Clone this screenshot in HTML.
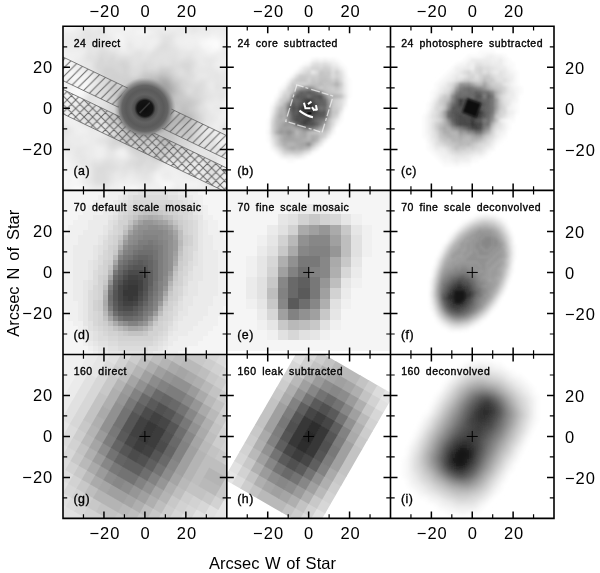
<!DOCTYPE html><html><head><meta charset="utf-8"><title>Figure</title><style>html,body{margin:0;padding:0;background:#fff;width:600px;height:573px;overflow:hidden}svg{display:block}</style></head><body><svg width="600" height="573" viewBox="0 0 600 573"><defs><clipPath id="pac"><rect x="63.00" y="26.30" width="163.80" height="164.10"/></clipPath><filter id="paf" x="-10%" y="-10%" width="120%" height="120%"><feGaussianBlur stdDeviation="2.0"/></filter></defs><g clip-path="url(#pac)"><g filter="url(#paf)"><g transform="translate(55.00 18.30) scale(4)"><path fill="#fafafa" d="M2 0h2.06v1.06h-2.06zM27 0h2.06v1.06h-2.06zM0 1h4.06v1.06h-4.06zM22 3h1.06v1.06h-1.06zM38 5h3.06v1.06h-3.06zM37 6h3.06v1.06h-3.06zM39 7h2.06v1.06h-2.06zM1 14h1.06v1.06h-1.06zM4 14h1.06v1.06h-1.06zM0 15h1.06v1.06h-1.06zM5 15h1.06v1.06h-1.06zM7 16h1.06v1.06h-1.06zM1 17h1.06v1.06h-1.06zM7 17h1.06v1.06h-1.06zM5 18h2.06v1.06h-2.06zM44 19h1.06v1.06h-1.06zM0 20h1.06v1.06h-1.06zM44 20h1.06v1.06h-1.06zM43 21h2.06v1.06h-2.06zM44 23h1.06v1.06h-1.06zM0 40h1.06v1.06h-1.06zM2 40h1.06v1.06h-1.06zM4 40h1.06v1.06h-1.06zM1 41h1.06v1.06h-1.06zM27 41h2.06v1.06h-2.06zM0 42h1.06v1.06h-1.06zM4 42h3.06v1.06h-3.06zM19 42h1.06v1.06h-1.06zM4 43h1.06v1.06h-1.06zM7 43h2.06v1.06h-2.06zM20 43h1.06v1.06h-1.06zM44 43h1.06v1.06h-1.06zM3 44h1.06v1.06h-1.06zM8 44h1.06v1.06h-1.06zM20 44h4.06v1.06h-4.06zM44 44h1.06v1.06h-1.06zM3 45h2.06v1.06h-2.06zM8 45h1.06v1.06h-1.06zM19 45h1.06v1.06h-1.06z"/><path fill="#f5f5f5" d="M5 0h3.06v1.06h-3.06zM10 0h1.06v1.06h-1.06zM25 0h2.06v1.06h-2.06zM29 0h1.06v1.06h-1.06zM4 1h1.06v1.06h-1.06zM7 1h1.06v1.06h-1.06zM28 1h2.06v1.06h-2.06zM1 2h4.06v1.06h-4.06zM17 2h2.06v1.06h-2.06zM20 3h2.06v1.06h-2.06zM23 3h1.06v1.06h-1.06zM15 4h2.06v1.06h-2.06zM39 4h1.06v1.06h-1.06zM16 5h1.06v1.06h-1.06zM36 5h2.06v1.06h-2.06zM41 5h1.06v1.06h-1.06zM16 6h1.06v1.06h-1.06zM36 6h1.06v1.06h-1.06zM41 6h1.06v1.06h-1.06zM37 7h2.06v1.06h-2.06zM41 7h1.06v1.06h-1.06zM0 8h2.06v1.06h-2.06zM38 8h2.06v1.06h-2.06zM3 10h1.06v1.06h-1.06zM2 11h2.06v1.06h-2.06zM2 12h2.06v1.06h-2.06zM0 13h5.06v1.06h-5.06zM0 14h1.06v1.06h-1.06zM2 14h2.06v1.06h-2.06zM5 14h3.06v1.06h-3.06zM1 15h1.06v1.06h-1.06zM4 15h1.06v1.06h-1.06zM6 15h1.06v1.06h-1.06zM8 15h1.06v1.06h-1.06zM1 16h1.06v1.06h-1.06zM5 16h2.06v1.06h-2.06zM8 16h1.06v1.06h-1.06zM4 17h3.06v1.06h-3.06zM2 18h3.06v1.06h-3.06zM1 19h1.06v1.06h-1.06zM4 19h3.06v1.06h-3.06zM1 20h2.06v1.06h-2.06zM43 20h1.06v1.06h-1.06zM0 21h2.06v1.06h-2.06zM43 22h1.06v1.06h-1.06zM0 23h1.06v1.06h-1.06zM43 23h1.06v1.06h-1.06zM41 30h1.06v1.06h-1.06zM1 33h1.06v1.06h-1.06zM16 33h1.06v1.06h-1.06zM0 34h2.06v1.06h-2.06zM0 35h3.06v1.06h-3.06zM1 36h3.06v1.06h-3.06zM1 37h2.06v1.06h-2.06zM0 38h4.06v1.06h-4.06zM5 38h2.06v1.06h-2.06zM0 39h7.06v1.06h-7.06zM25 39h1.06v1.06h-1.06zM5 40h1.06v1.06h-1.06zM25 40h2.06v1.06h-2.06zM43 40h2.06v1.06h-2.06zM2 41h5.06v1.06h-5.06zM26 41h1.06v1.06h-1.06zM29 41h1.06v1.06h-1.06zM32 41h4.06v1.06h-4.06zM43 41h2.06v1.06h-2.06zM1 42h3.06v1.06h-3.06zM7 42h1.06v1.06h-1.06zM16 42h3.06v1.06h-3.06zM20 42h1.06v1.06h-1.06zM27 42h2.06v1.06h-2.06zM43 42h2.06v1.06h-2.06zM3 43h1.06v1.06h-1.06zM9 43h1.06v1.06h-1.06zM14 43h1.06v1.06h-1.06zM17 43h2.06v1.06h-2.06zM21 43h5.06v1.06h-5.06zM32 43h1.06v1.06h-1.06zM42 43h2.06v1.06h-2.06zM2 44h1.06v1.06h-1.06zM9 44h2.06v1.06h-2.06zM15 44h1.06v1.06h-1.06zM18 44h1.06v1.06h-1.06zM24 44h1.06v1.06h-1.06zM32 44h3.06v1.06h-3.06zM36 44h8.06v1.06h-8.06zM2 45h1.06v1.06h-1.06zM9 45h2.06v1.06h-2.06zM14 45h5.06v1.06h-5.06zM20 45h1.06v1.06h-1.06zM39 45h6.06v1.06h-6.06z"/><path fill="#f0f0f0" d="M4 0h1.06v1.06h-1.06zM8 0h2.06v1.06h-2.06zM11 0h4.06v1.06h-4.06zM16 0h2.06v1.06h-2.06zM24 0h1.06v1.06h-1.06zM30 0h1.06v1.06h-1.06zM37 0h3.06v1.06h-3.06zM5 1h2.06v1.06h-2.06zM9 1h2.06v1.06h-2.06zM12 1h7.06v1.06h-7.06zM25 1h3.06v1.06h-3.06zM30 1h1.06v1.06h-1.06zM0 2h1.06v1.06h-1.06zM5 2h1.06v1.06h-1.06zM13 2h4.06v1.06h-4.06zM19 2h4.06v1.06h-4.06zM29 2h1.06v1.06h-1.06zM2 3h3.06v1.06h-3.06zM13 3h7.06v1.06h-7.06zM24 3h1.06v1.06h-1.06zM39 3h3.06v1.06h-3.06zM14 4h1.06v1.06h-1.06zM17 4h6.06v1.06h-6.06zM32 4h7.06v1.06h-7.06zM40 4h3.06v1.06h-3.06zM15 5h1.06v1.06h-1.06zM17 5h1.06v1.06h-1.06zM19 5h7.06v1.06h-7.06zM30 5h6.06v1.06h-6.06zM42 5h1.06v1.06h-1.06zM17 6h1.06v1.06h-1.06zM20 6h2.06v1.06h-2.06zM23 6h2.06v1.06h-2.06zM31 6h5.06v1.06h-5.06zM42 6h1.06v1.06h-1.06zM1 7h1.06v1.06h-1.06zM16 7h2.06v1.06h-2.06zM23 7h1.06v1.06h-1.06zM33 7h1.06v1.06h-1.06zM36 7h1.06v1.06h-1.06zM2 8h5.06v1.06h-5.06zM37 8h1.06v1.06h-1.06zM40 8h2.06v1.06h-2.06zM44 8h1.06v1.06h-1.06zM0 9h6.06v1.06h-6.06zM41 9h1.06v1.06h-1.06zM43 9h2.06v1.06h-2.06zM1 10h2.06v1.06h-2.06zM4 10h1.06v1.06h-1.06zM41 10h4.06v1.06h-4.06zM1 11h1.06v1.06h-1.06zM4 11h1.06v1.06h-1.06zM40 11h3.06v1.06h-3.06zM0 12h2.06v1.06h-2.06zM4 12h3.06v1.06h-3.06zM41 12h1.06v1.06h-1.06zM5 13h3.06v1.06h-3.06zM8 14h1.06v1.06h-1.06zM2 15h2.06v1.06h-2.06zM7 15h1.06v1.06h-1.06zM4 16h1.06v1.06h-1.06zM2 17h1.06v1.06h-1.06zM8 17h1.06v1.06h-1.06zM7 18h1.06v1.06h-1.06zM44 18h1.06v1.06h-1.06zM2 19h2.06v1.06h-2.06zM43 19h1.06v1.06h-1.06zM3 20h4.06v1.06h-4.06zM2 21h2.06v1.06h-2.06zM5 21h1.06v1.06h-1.06zM42 21h1.06v1.06h-1.06zM0 22h2.06v1.06h-2.06zM42 22h1.06v1.06h-1.06zM1 23h2.06v1.06h-2.06zM42 23h1.06v1.06h-1.06zM0 24h5.06v1.06h-5.06zM41 24h4.06v1.06h-4.06zM2 25h4.06v1.06h-4.06zM41 25h1.06v1.06h-1.06zM3 26h3.06v1.06h-3.06zM40 26h1.06v1.06h-1.06zM5 27h3.06v1.06h-3.06zM40 27h1.06v1.06h-1.06zM5 28h3.06v1.06h-3.06zM40 29h1.06v1.06h-1.06zM7 30h1.06v1.06h-1.06zM42 30h1.06v1.06h-1.06zM41 31h2.06v1.06h-2.06zM0 32h2.06v1.06h-2.06zM10 32h2.06v1.06h-2.06zM0 33h1.06v1.06h-1.06zM2 33h1.06v1.06h-1.06zM10 33h2.06v1.06h-2.06zM15 33h1.06v1.06h-1.06zM17 33h1.06v1.06h-1.06zM2 34h2.06v1.06h-2.06zM10 34h2.06v1.06h-2.06zM16 34h2.06v1.06h-2.06zM3 35h1.06v1.06h-1.06zM43 35h1.06v1.06h-1.06zM0 36h1.06v1.06h-1.06zM4 36h1.06v1.06h-1.06zM42 36h3.06v1.06h-3.06zM0 37h1.06v1.06h-1.06zM3 37h4.06v1.06h-4.06zM27 37h3.06v1.06h-3.06zM35 37h1.06v1.06h-1.06zM43 37h2.06v1.06h-2.06zM4 38h1.06v1.06h-1.06zM7 38h1.06v1.06h-1.06zM25 38h2.06v1.06h-2.06zM29 38h2.06v1.06h-2.06zM43 38h2.06v1.06h-2.06zM26 39h1.06v1.06h-1.06zM29 39h3.06v1.06h-3.06zM35 39h1.06v1.06h-1.06zM43 39h2.06v1.06h-2.06zM3 40h1.06v1.06h-1.06zM6 40h1.06v1.06h-1.06zM18 40h1.06v1.06h-1.06zM27 40h10.06v1.06h-10.06zM42 40h1.06v1.06h-1.06zM15 41h8.06v1.06h-8.06zM24 41h2.06v1.06h-2.06zM30 41h2.06v1.06h-2.06zM36 41h1.06v1.06h-1.06zM42 41h1.06v1.06h-1.06zM8 42h1.06v1.06h-1.06zM14 42h2.06v1.06h-2.06zM21 42h6.06v1.06h-6.06zM29 42h1.06v1.06h-1.06zM31 42h7.06v1.06h-7.06zM42 42h1.06v1.06h-1.06zM0 43h3.06v1.06h-3.06zM10 43h4.06v1.06h-4.06zM15 43h2.06v1.06h-2.06zM31 43h1.06v1.06h-1.06zM33 43h2.06v1.06h-2.06zM37 43h5.06v1.06h-5.06zM0 44h2.06v1.06h-2.06zM11 44h4.06v1.06h-4.06zM16 44h2.06v1.06h-2.06zM25 44h1.06v1.06h-1.06zM29 44h3.06v1.06h-3.06zM35 44h1.06v1.06h-1.06zM0 45h2.06v1.06h-2.06zM11 45h3.06v1.06h-3.06zM21 45h6.06v1.06h-6.06zM29 45h10.06v1.06h-10.06z"/><path fill="#ebebeb" d="M15 0h1.06v1.06h-1.06zM23 0h1.06v1.06h-1.06zM31 0h1.06v1.06h-1.06zM34 0h3.06v1.06h-3.06zM40 0h1.06v1.06h-1.06zM43 0h2.06v1.06h-2.06zM8 1h1.06v1.06h-1.06zM11 1h1.06v1.06h-1.06zM19 1h4.06v1.06h-4.06zM24 1h1.06v1.06h-1.06zM31 1h2.06v1.06h-2.06zM35 1h7.06v1.06h-7.06zM44 1h1.06v1.06h-1.06zM6 2h2.06v1.06h-2.06zM9 2h2.06v1.06h-2.06zM12 2h1.06v1.06h-1.06zM23 2h6.06v1.06h-6.06zM30 2h4.06v1.06h-4.06zM36 2h7.06v1.06h-7.06zM0 3h2.06v1.06h-2.06zM5 3h2.06v1.06h-2.06zM12 3h1.06v1.06h-1.06zM25 3h1.06v1.06h-1.06zM27 3h2.06v1.06h-2.06zM30 3h4.06v1.06h-4.06zM35 3h4.06v1.06h-4.06zM42 3h1.06v1.06h-1.06zM1 4h5.06v1.06h-5.06zM11 4h1.06v1.06h-1.06zM13 4h1.06v1.06h-1.06zM23 4h3.06v1.06h-3.06zM30 4h2.06v1.06h-2.06zM43 4h2.06v1.06h-2.06zM1 5h4.06v1.06h-4.06zM11 5h4.06v1.06h-4.06zM18 5h1.06v1.06h-1.06zM43 5h2.06v1.06h-2.06zM0 6h6.06v1.06h-6.06zM13 6h3.06v1.06h-3.06zM19 6h1.06v1.06h-1.06zM22 6h1.06v1.06h-1.06zM25 6h1.06v1.06h-1.06zM30 6h1.06v1.06h-1.06zM43 6h2.06v1.06h-2.06zM0 7h1.06v1.06h-1.06zM2 7h6.06v1.06h-6.06zM14 7h1.06v1.06h-1.06zM19 7h4.06v1.06h-4.06zM24 7h1.06v1.06h-1.06zM31 7h2.06v1.06h-2.06zM34 7h2.06v1.06h-2.06zM42 7h3.06v1.06h-3.06zM7 8h1.06v1.06h-1.06zM16 8h3.06v1.06h-3.06zM35 8h2.06v1.06h-2.06zM42 8h2.06v1.06h-2.06zM6 9h1.06v1.06h-1.06zM35 9h6.06v1.06h-6.06zM42 9h1.06v1.06h-1.06zM0 10h1.06v1.06h-1.06zM5 10h2.06v1.06h-2.06zM36 10h1.06v1.06h-1.06zM40 10h1.06v1.06h-1.06zM0 11h1.06v1.06h-1.06zM5 11h2.06v1.06h-2.06zM8 11h1.06v1.06h-1.06zM36 11h2.06v1.06h-2.06zM39 11h1.06v1.06h-1.06zM43 11h2.06v1.06h-2.06zM40 12h1.06v1.06h-1.06zM42 12h1.06v1.06h-1.06zM44 12h1.06v1.06h-1.06zM8 13h1.06v1.06h-1.06zM41 13h1.06v1.06h-1.06zM9 14h1.06v1.06h-1.06zM36 14h2.06v1.06h-2.06zM9 15h1.06v1.06h-1.06zM2 16h2.06v1.06h-2.06zM9 16h1.06v1.06h-1.06zM38 16h2.06v1.06h-2.06zM43 16h2.06v1.06h-2.06zM3 17h1.06v1.06h-1.06zM39 17h1.06v1.06h-1.06zM43 17h2.06v1.06h-2.06zM43 18h1.06v1.06h-1.06zM7 19h1.06v1.06h-1.06zM40 20h1.06v1.06h-1.06zM42 20h1.06v1.06h-1.06zM4 21h1.06v1.06h-1.06zM6 21h1.06v1.06h-1.06zM38 21h4.06v1.06h-4.06zM2 22h1.06v1.06h-1.06zM4 22h2.06v1.06h-2.06zM38 22h2.06v1.06h-2.06zM41 22h1.06v1.06h-1.06zM3 23h3.06v1.06h-3.06zM39 23h3.06v1.06h-3.06zM5 24h1.06v1.06h-1.06zM40 24h1.06v1.06h-1.06zM0 25h2.06v1.06h-2.06zM6 25h1.06v1.06h-1.06zM40 25h1.06v1.06h-1.06zM42 25h3.06v1.06h-3.06zM0 26h1.06v1.06h-1.06zM2 26h1.06v1.06h-1.06zM6 26h1.06v1.06h-1.06zM39 26h1.06v1.06h-1.06zM41 26h1.06v1.06h-1.06zM4 27h1.06v1.06h-1.06zM8 27h1.06v1.06h-1.06zM38 27h2.06v1.06h-2.06zM4 28h1.06v1.06h-1.06zM8 28h4.06v1.06h-4.06zM37 28h4.06v1.06h-4.06zM3 29h9.06v1.06h-9.06zM41 29h2.06v1.06h-2.06zM3 30h4.06v1.06h-4.06zM8 30h2.06v1.06h-2.06zM40 30h1.06v1.06h-1.06zM43 30h1.06v1.06h-1.06zM0 31h3.06v1.06h-3.06zM4 31h7.06v1.06h-7.06zM43 31h2.06v1.06h-2.06zM2 32h1.06v1.06h-1.06zM4 32h1.06v1.06h-1.06zM8 32h2.06v1.06h-2.06zM12 32h1.06v1.06h-1.06zM16 32h1.06v1.06h-1.06zM41 32h4.06v1.06h-4.06zM3 33h2.06v1.06h-2.06zM7 33h3.06v1.06h-3.06zM12 33h1.06v1.06h-1.06zM44 33h1.06v1.06h-1.06zM4 34h1.06v1.06h-1.06zM8 34h2.06v1.06h-2.06zM12 34h1.06v1.06h-1.06zM15 34h1.06v1.06h-1.06zM42 34h3.06v1.06h-3.06zM4 35h2.06v1.06h-2.06zM8 35h1.06v1.06h-1.06zM41 35h2.06v1.06h-2.06zM44 35h1.06v1.06h-1.06zM5 36h1.06v1.06h-1.06zM27 36h3.06v1.06h-3.06zM35 36h2.06v1.06h-2.06zM41 36h1.06v1.06h-1.06zM7 37h2.06v1.06h-2.06zM26 37h1.06v1.06h-1.06zM30 37h3.06v1.06h-3.06zM34 37h1.06v1.06h-1.06zM36 37h1.06v1.06h-1.06zM42 37h1.06v1.06h-1.06zM8 38h1.06v1.06h-1.06zM27 38h2.06v1.06h-2.06zM31 38h6.06v1.06h-6.06zM41 38h2.06v1.06h-2.06zM7 39h2.06v1.06h-2.06zM15 39h1.06v1.06h-1.06zM18 39h2.06v1.06h-2.06zM24 39h1.06v1.06h-1.06zM27 39h2.06v1.06h-2.06zM32 39h3.06v1.06h-3.06zM36 39h1.06v1.06h-1.06zM41 39h2.06v1.06h-2.06zM7 40h1.06v1.06h-1.06zM15 40h3.06v1.06h-3.06zM19 40h2.06v1.06h-2.06zM24 40h1.06v1.06h-1.06zM41 40h1.06v1.06h-1.06zM7 41h2.06v1.06h-2.06zM14 41h1.06v1.06h-1.06zM23 41h1.06v1.06h-1.06zM37 41h1.06v1.06h-1.06zM41 41h1.06v1.06h-1.06zM9 42h3.06v1.06h-3.06zM13 42h1.06v1.06h-1.06zM30 42h1.06v1.06h-1.06zM38 42h4.06v1.06h-4.06zM26 43h5.06v1.06h-5.06zM35 43h2.06v1.06h-2.06zM27 45h2.06v1.06h-2.06z"/><path fill="#e6e6e6" d="M18 0h5.06v1.06h-5.06zM32 0h2.06v1.06h-2.06zM41 0h2.06v1.06h-2.06zM23 1h1.06v1.06h-1.06zM33 1h2.06v1.06h-2.06zM42 1h2.06v1.06h-2.06zM8 2h1.06v1.06h-1.06zM11 2h1.06v1.06h-1.06zM34 2h2.06v1.06h-2.06zM43 2h2.06v1.06h-2.06zM8 3h3.06v1.06h-3.06zM26 3h1.06v1.06h-1.06zM29 3h1.06v1.06h-1.06zM34 3h1.06v1.06h-1.06zM43 3h1.06v1.06h-1.06zM0 4h1.06v1.06h-1.06zM6 4h2.06v1.06h-2.06zM9 4h2.06v1.06h-2.06zM12 4h1.06v1.06h-1.06zM26 4h1.06v1.06h-1.06zM29 4h1.06v1.06h-1.06zM0 5h1.06v1.06h-1.06zM5 5h6.06v1.06h-6.06zM26 5h1.06v1.06h-1.06zM29 5h1.06v1.06h-1.06zM6 6h7.06v1.06h-7.06zM18 6h1.06v1.06h-1.06zM29 6h1.06v1.06h-1.06zM8 7h3.06v1.06h-3.06zM13 7h1.06v1.06h-1.06zM15 7h1.06v1.06h-1.06zM18 7h1.06v1.06h-1.06zM30 7h1.06v1.06h-1.06zM9 8h1.06v1.06h-1.06zM15 8h1.06v1.06h-1.06zM19 8h1.06v1.06h-1.06zM22 8h2.06v1.06h-2.06zM31 8h4.06v1.06h-4.06zM7 9h1.06v1.06h-1.06zM22 9h1.06v1.06h-1.06zM31 9h2.06v1.06h-2.06zM34 9h1.06v1.06h-1.06zM7 10h1.06v1.06h-1.06zM35 10h1.06v1.06h-1.06zM37 10h3.06v1.06h-3.06zM7 11h1.06v1.06h-1.06zM35 11h1.06v1.06h-1.06zM38 11h1.06v1.06h-1.06zM7 12h2.06v1.06h-2.06zM35 12h5.06v1.06h-5.06zM43 12h1.06v1.06h-1.06zM9 13h1.06v1.06h-1.06zM35 13h6.06v1.06h-6.06zM42 13h3.06v1.06h-3.06zM35 14h1.06v1.06h-1.06zM38 14h2.06v1.06h-2.06zM41 14h4.06v1.06h-4.06zM10 15h1.06v1.06h-1.06zM35 15h1.06v1.06h-1.06zM38 15h7.06v1.06h-7.06zM10 16h1.06v1.06h-1.06zM41 16h2.06v1.06h-2.06zM9 17h1.06v1.06h-1.06zM38 17h1.06v1.06h-1.06zM41 17h2.06v1.06h-2.06zM8 18h1.06v1.06h-1.06zM38 18h5.06v1.06h-5.06zM39 19h2.06v1.06h-2.06zM42 19h1.06v1.06h-1.06zM38 20h2.06v1.06h-2.06zM41 20h1.06v1.06h-1.06zM37 21h1.06v1.06h-1.06zM3 22h1.06v1.06h-1.06zM6 22h1.06v1.06h-1.06zM40 22h1.06v1.06h-1.06zM6 23h1.06v1.06h-1.06zM38 23h1.06v1.06h-1.06zM6 24h1.06v1.06h-1.06zM38 24h2.06v1.06h-2.06zM11 25h1.06v1.06h-1.06zM38 25h2.06v1.06h-2.06zM1 26h1.06v1.06h-1.06zM7 26h2.06v1.06h-2.06zM10 26h3.06v1.06h-3.06zM37 26h2.06v1.06h-2.06zM42 26h1.06v1.06h-1.06zM44 26h1.06v1.06h-1.06zM0 27h2.06v1.06h-2.06zM3 27h1.06v1.06h-1.06zM9 27h4.06v1.06h-4.06zM37 27h1.06v1.06h-1.06zM41 27h1.06v1.06h-1.06zM0 28h2.06v1.06h-2.06zM3 28h1.06v1.06h-1.06zM12 28h1.06v1.06h-1.06zM41 28h1.06v1.06h-1.06zM0 29h1.06v1.06h-1.06zM2 29h1.06v1.06h-1.06zM12 29h1.06v1.06h-1.06zM37 29h1.06v1.06h-1.06zM39 29h1.06v1.06h-1.06zM43 29h2.06v1.06h-2.06zM0 30h3.06v1.06h-3.06zM10 30h1.06v1.06h-1.06zM37 30h1.06v1.06h-1.06zM44 30h1.06v1.06h-1.06zM3 31h1.06v1.06h-1.06zM11 31h2.06v1.06h-2.06zM40 31h1.06v1.06h-1.06zM3 32h1.06v1.06h-1.06zM5 32h3.06v1.06h-3.06zM17 32h1.06v1.06h-1.06zM5 33h2.06v1.06h-2.06zM13 33h2.06v1.06h-2.06zM39 33h5.06v1.06h-5.06zM5 34h3.06v1.06h-3.06zM13 34h2.06v1.06h-2.06zM18 34h1.06v1.06h-1.06zM41 34h1.06v1.06h-1.06zM6 35h2.06v1.06h-2.06zM9 35h3.06v1.06h-3.06zM15 35h3.06v1.06h-3.06zM34 35h3.06v1.06h-3.06zM6 36h3.06v1.06h-3.06zM16 36h1.06v1.06h-1.06zM30 36h2.06v1.06h-2.06zM34 36h1.06v1.06h-1.06zM40 36h1.06v1.06h-1.06zM33 37h1.06v1.06h-1.06zM37 37h1.06v1.06h-1.06zM40 37h2.06v1.06h-2.06zM15 38h2.06v1.06h-2.06zM18 38h2.06v1.06h-2.06zM24 38h1.06v1.06h-1.06zM37 38h1.06v1.06h-1.06zM14 39h1.06v1.06h-1.06zM16 39h2.06v1.06h-2.06zM20 39h2.06v1.06h-2.06zM23 39h1.06v1.06h-1.06zM37 39h1.06v1.06h-1.06zM8 40h1.06v1.06h-1.06zM14 40h1.06v1.06h-1.06zM21 40h3.06v1.06h-3.06zM37 40h4.06v1.06h-4.06zM9 41h1.06v1.06h-1.06zM13 41h1.06v1.06h-1.06zM38 41h3.06v1.06h-3.06zM12 42h1.06v1.06h-1.06zM26 44h1.06v1.06h-1.06zM28 44h1.06v1.06h-1.06z"/><path fill="#e1e1e1" d="M7 3h1.06v1.06h-1.06zM11 3h1.06v1.06h-1.06zM44 3h1.06v1.06h-1.06zM8 4h1.06v1.06h-1.06zM27 4h2.06v1.06h-2.06zM27 5h2.06v1.06h-2.06zM26 6h1.06v1.06h-1.06zM28 6h1.06v1.06h-1.06zM11 7h2.06v1.06h-2.06zM25 7h1.06v1.06h-1.06zM28 7h2.06v1.06h-2.06zM8 8h1.06v1.06h-1.06zM10 8h1.06v1.06h-1.06zM13 8h2.06v1.06h-2.06zM20 8h2.06v1.06h-2.06zM24 8h1.06v1.06h-1.06zM26 8h5.06v1.06h-5.06zM8 9h3.06v1.06h-3.06zM15 9h7.06v1.06h-7.06zM23 9h1.06v1.06h-1.06zM25 9h6.06v1.06h-6.06zM33 9h1.06v1.06h-1.06zM8 10h2.06v1.06h-2.06zM19 10h4.06v1.06h-4.06zM24 10h5.06v1.06h-5.06zM30 10h2.06v1.06h-2.06zM34 10h1.06v1.06h-1.06zM9 11h1.06v1.06h-1.06zM19 11h2.06v1.06h-2.06zM25 11h1.06v1.06h-1.06zM27 11h2.06v1.06h-2.06zM9 12h1.06v1.06h-1.06zM34 12h1.06v1.06h-1.06zM31 13h1.06v1.06h-1.06zM34 13h1.06v1.06h-1.06zM10 14h1.06v1.06h-1.06zM40 14h1.06v1.06h-1.06zM34 15h1.06v1.06h-1.06zM36 15h2.06v1.06h-2.06zM37 16h1.06v1.06h-1.06zM40 16h1.06v1.06h-1.06zM10 17h1.06v1.06h-1.06zM37 17h1.06v1.06h-1.06zM40 17h1.06v1.06h-1.06zM9 18h1.06v1.06h-1.06zM33 18h1.06v1.06h-1.06zM37 18h1.06v1.06h-1.06zM10 19h2.06v1.06h-2.06zM37 19h2.06v1.06h-2.06zM41 19h1.06v1.06h-1.06zM7 20h1.06v1.06h-1.06zM10 20h2.06v1.06h-2.06zM37 20h1.06v1.06h-1.06zM7 21h1.06v1.06h-1.06zM9 21h2.06v1.06h-2.06zM7 22h4.06v1.06h-4.06zM36 22h2.06v1.06h-2.06zM8 23h2.06v1.06h-2.06zM37 23h1.06v1.06h-1.06zM10 24h2.06v1.06h-2.06zM37 24h1.06v1.06h-1.06zM7 25h1.06v1.06h-1.06zM10 25h1.06v1.06h-1.06zM37 25h1.06v1.06h-1.06zM9 26h1.06v1.06h-1.06zM43 26h1.06v1.06h-1.06zM2 27h1.06v1.06h-1.06zM42 27h1.06v1.06h-1.06zM2 28h1.06v1.06h-1.06zM13 28h1.06v1.06h-1.06zM36 28h1.06v1.06h-1.06zM42 28h2.06v1.06h-2.06zM1 29h1.06v1.06h-1.06zM13 29h1.06v1.06h-1.06zM36 29h1.06v1.06h-1.06zM38 29h1.06v1.06h-1.06zM11 30h2.06v1.06h-2.06zM36 30h1.06v1.06h-1.06zM38 30h2.06v1.06h-2.06zM36 31h4.06v1.06h-4.06zM13 32h1.06v1.06h-1.06zM15 32h1.06v1.06h-1.06zM38 32h3.06v1.06h-3.06zM18 33h1.06v1.06h-1.06zM36 33h3.06v1.06h-3.06zM19 34h1.06v1.06h-1.06zM33 34h5.06v1.06h-5.06zM40 34h1.06v1.06h-1.06zM12 35h3.06v1.06h-3.06zM18 35h1.06v1.06h-1.06zM27 35h5.06v1.06h-5.06zM33 35h1.06v1.06h-1.06zM37 35h1.06v1.06h-1.06zM40 35h1.06v1.06h-1.06zM9 36h3.06v1.06h-3.06zM14 36h2.06v1.06h-2.06zM17 36h1.06v1.06h-1.06zM25 36h2.06v1.06h-2.06zM32 36h2.06v1.06h-2.06zM37 36h1.06v1.06h-1.06zM9 37h1.06v1.06h-1.06zM15 37h5.06v1.06h-5.06zM22 37h1.06v1.06h-1.06zM25 37h1.06v1.06h-1.06zM9 38h1.06v1.06h-1.06zM13 38h2.06v1.06h-2.06zM17 38h1.06v1.06h-1.06zM20 38h4.06v1.06h-4.06zM38 38h3.06v1.06h-3.06zM9 39h1.06v1.06h-1.06zM13 39h1.06v1.06h-1.06zM22 39h1.06v1.06h-1.06zM38 39h3.06v1.06h-3.06zM9 40h1.06v1.06h-1.06zM13 40h1.06v1.06h-1.06zM10 41h3.06v1.06h-3.06zM27 44h1.06v1.06h-1.06z"/><path fill="#dcdcdc" d="M27 6h1.06v1.06h-1.06zM26 7h2.06v1.06h-2.06zM11 8h2.06v1.06h-2.06zM25 8h1.06v1.06h-1.06zM12 9h2.06v1.06h-2.06zM24 9h1.06v1.06h-1.06zM10 10h1.06v1.06h-1.06zM12 10h1.06v1.06h-1.06zM15 10h1.06v1.06h-1.06zM18 10h1.06v1.06h-1.06zM23 10h1.06v1.06h-1.06zM29 10h1.06v1.06h-1.06zM32 10h2.06v1.06h-2.06zM21 11h1.06v1.06h-1.06zM23 11h2.06v1.06h-2.06zM26 11h1.06v1.06h-1.06zM29 11h2.06v1.06h-2.06zM34 11h1.06v1.06h-1.06zM19 12h3.06v1.06h-3.06zM23 12h3.06v1.06h-3.06zM30 12h2.06v1.06h-2.06zM10 13h1.06v1.06h-1.06zM19 13h2.06v1.06h-2.06zM30 13h1.06v1.06h-1.06zM32 13h1.06v1.06h-1.06zM19 14h1.06v1.06h-1.06zM31 14h4.06v1.06h-4.06zM11 15h2.06v1.06h-2.06zM33 15h1.06v1.06h-1.06zM11 16h2.06v1.06h-2.06zM34 16h3.06v1.06h-3.06zM11 17h2.06v1.06h-2.06zM33 17h2.06v1.06h-2.06zM36 17h1.06v1.06h-1.06zM10 18h2.06v1.06h-2.06zM36 18h1.06v1.06h-1.06zM8 19h2.06v1.06h-2.06zM36 19h1.06v1.06h-1.06zM8 20h2.06v1.06h-2.06zM12 20h1.06v1.06h-1.06zM8 21h1.06v1.06h-1.06zM11 21h2.06v1.06h-2.06zM36 21h1.06v1.06h-1.06zM11 22h1.06v1.06h-1.06zM7 23h1.06v1.06h-1.06zM10 23h3.06v1.06h-3.06zM36 23h1.06v1.06h-1.06zM7 24h3.06v1.06h-3.06zM12 24h1.06v1.06h-1.06zM8 25h2.06v1.06h-2.06zM13 27h1.06v1.06h-1.06zM36 27h1.06v1.06h-1.06zM43 27h2.06v1.06h-2.06zM14 28h1.06v1.06h-1.06zM44 28h1.06v1.06h-1.06zM14 29h1.06v1.06h-1.06zM35 29h1.06v1.06h-1.06zM13 30h1.06v1.06h-1.06zM13 31h1.06v1.06h-1.06zM35 31h1.06v1.06h-1.06zM14 32h1.06v1.06h-1.06zM18 32h1.06v1.06h-1.06zM34 32h4.06v1.06h-4.06zM34 33h2.06v1.06h-2.06zM30 34h3.06v1.06h-3.06zM38 34h2.06v1.06h-2.06zM19 35h2.06v1.06h-2.06zM23 35h1.06v1.06h-1.06zM26 35h1.06v1.06h-1.06zM32 35h1.06v1.06h-1.06zM38 35h2.06v1.06h-2.06zM12 36h2.06v1.06h-2.06zM18 36h2.06v1.06h-2.06zM22 36h3.06v1.06h-3.06zM38 36h2.06v1.06h-2.06zM10 37h1.06v1.06h-1.06zM12 37h3.06v1.06h-3.06zM20 37h2.06v1.06h-2.06zM23 37h2.06v1.06h-2.06zM38 37h2.06v1.06h-2.06zM10 38h3.06v1.06h-3.06zM10 39h3.06v1.06h-3.06zM10 40h3.06v1.06h-3.06z"/><path fill="#d7d7d7" d="M11 9h1.06v1.06h-1.06zM14 9h1.06v1.06h-1.06zM13 10h2.06v1.06h-2.06zM16 10h2.06v1.06h-2.06zM10 11h6.06v1.06h-6.06zM18 11h1.06v1.06h-1.06zM22 11h1.06v1.06h-1.06zM31 11h3.06v1.06h-3.06zM10 12h2.06v1.06h-2.06zM15 12h2.06v1.06h-2.06zM18 12h1.06v1.06h-1.06zM22 12h1.06v1.06h-1.06zM29 12h1.06v1.06h-1.06zM32 12h2.06v1.06h-2.06zM11 13h1.06v1.06h-1.06zM16 13h1.06v1.06h-1.06zM18 13h1.06v1.06h-1.06zM21 13h1.06v1.06h-1.06zM29 13h1.06v1.06h-1.06zM33 13h1.06v1.06h-1.06zM11 14h1.06v1.06h-1.06zM20 14h1.06v1.06h-1.06zM30 14h1.06v1.06h-1.06zM32 15h1.06v1.06h-1.06zM32 16h2.06v1.06h-2.06zM32 17h1.06v1.06h-1.06zM35 17h1.06v1.06h-1.06zM12 18h1.06v1.06h-1.06zM34 18h2.06v1.06h-2.06zM12 19h2.06v1.06h-2.06zM34 19h2.06v1.06h-2.06zM13 20h1.06v1.06h-1.06zM36 20h1.06v1.06h-1.06zM12 22h1.06v1.06h-1.06zM35 22h1.06v1.06h-1.06zM36 24h1.06v1.06h-1.06zM12 25h1.06v1.06h-1.06zM36 25h1.06v1.06h-1.06zM13 26h1.06v1.06h-1.06zM36 26h1.06v1.06h-1.06zM14 27h1.06v1.06h-1.06zM35 28h1.06v1.06h-1.06zM14 30h1.06v1.06h-1.06zM35 30h1.06v1.06h-1.06zM14 31h4.06v1.06h-4.06zM34 31h1.06v1.06h-1.06zM33 32h1.06v1.06h-1.06zM19 33h1.06v1.06h-1.06zM30 33h4.06v1.06h-4.06zM20 34h4.06v1.06h-4.06zM28 34h1.06v1.06h-1.06zM21 35h2.06v1.06h-2.06zM24 35h1.06v1.06h-1.06zM20 36h2.06v1.06h-2.06zM11 37h1.06v1.06h-1.06z"/><path fill="#d2d2d2" d="M11 10h1.06v1.06h-1.06zM16 11h2.06v1.06h-2.06zM12 12h3.06v1.06h-3.06zM17 12h1.06v1.06h-1.06zM26 12h3.06v1.06h-3.06zM12 13h4.06v1.06h-4.06zM17 13h1.06v1.06h-1.06zM23 13h1.06v1.06h-1.06zM25 13h1.06v1.06h-1.06zM12 14h3.06v1.06h-3.06zM16 14h3.06v1.06h-3.06zM13 15h1.06v1.06h-1.06zM15 15h2.06v1.06h-2.06zM18 15h1.06v1.06h-1.06zM31 15h1.06v1.06h-1.06zM13 16h1.06v1.06h-1.06zM16 16h1.06v1.06h-1.06zM31 16h1.06v1.06h-1.06zM13 17h1.06v1.06h-1.06zM13 18h1.06v1.06h-1.06zM32 18h1.06v1.06h-1.06zM14 19h1.06v1.06h-1.06zM33 19h1.06v1.06h-1.06zM35 20h1.06v1.06h-1.06zM13 21h1.06v1.06h-1.06zM35 21h1.06v1.06h-1.06zM13 22h1.06v1.06h-1.06zM13 23h1.06v1.06h-1.06zM35 23h1.06v1.06h-1.06zM35 26h1.06v1.06h-1.06zM15 27h1.06v1.06h-1.06zM35 27h1.06v1.06h-1.06zM15 28h1.06v1.06h-1.06zM34 29h1.06v1.06h-1.06zM15 30h1.06v1.06h-1.06zM34 30h1.06v1.06h-1.06zM18 31h1.06v1.06h-1.06zM33 31h1.06v1.06h-1.06zM19 32h1.06v1.06h-1.06zM22 32h2.06v1.06h-2.06zM31 32h2.06v1.06h-2.06zM20 33h4.06v1.06h-4.06zM29 33h1.06v1.06h-1.06zM27 34h1.06v1.06h-1.06zM29 34h1.06v1.06h-1.06zM25 35h1.06v1.06h-1.06z"/><path fill="#cdcdcd" d="M22 13h1.06v1.06h-1.06zM24 13h1.06v1.06h-1.06zM28 13h1.06v1.06h-1.06zM15 14h1.06v1.06h-1.06zM21 14h1.06v1.06h-1.06zM29 14h1.06v1.06h-1.06zM14 15h1.06v1.06h-1.06zM17 15h1.06v1.06h-1.06zM30 15h1.06v1.06h-1.06zM14 16h2.06v1.06h-2.06zM17 16h1.06v1.06h-1.06zM14 17h1.06v1.06h-1.06zM16 17h1.06v1.06h-1.06zM31 17h1.06v1.06h-1.06zM14 18h1.06v1.06h-1.06zM32 19h1.06v1.06h-1.06zM14 20h1.06v1.06h-1.06zM34 20h1.06v1.06h-1.06zM14 22h1.06v1.06h-1.06zM34 22h1.06v1.06h-1.06zM13 24h1.06v1.06h-1.06zM35 24h1.06v1.06h-1.06zM13 25h1.06v1.06h-1.06zM35 25h1.06v1.06h-1.06zM14 26h2.06v1.06h-2.06zM34 28h1.06v1.06h-1.06zM16 30h1.06v1.06h-1.06zM19 30h1.06v1.06h-1.06zM32 30h2.06v1.06h-2.06zM19 31h1.06v1.06h-1.06zM23 31h2.06v1.06h-2.06zM31 31h2.06v1.06h-2.06zM20 32h2.06v1.06h-2.06zM24 32h1.06v1.06h-1.06zM29 32h2.06v1.06h-2.06zM24 33h1.06v1.06h-1.06zM27 33h2.06v1.06h-2.06zM24 34h1.06v1.06h-1.06zM26 34h1.06v1.06h-1.06z"/><path fill="#c8c8c8" d="M26 13h2.06v1.06h-2.06zM19 15h1.06v1.06h-1.06zM29 15h1.06v1.06h-1.06zM18 16h1.06v1.06h-1.06zM15 17h1.06v1.06h-1.06zM17 17h1.06v1.06h-1.06zM31 18h1.06v1.06h-1.06zM30 19h2.06v1.06h-2.06zM31 20h3.06v1.06h-3.06zM34 21h1.06v1.06h-1.06zM15 22h1.06v1.06h-1.06zM30 22h1.06v1.06h-1.06zM33 22h1.06v1.06h-1.06zM14 23h1.06v1.06h-1.06zM34 23h1.06v1.06h-1.06zM15 24h1.06v1.06h-1.06zM15 25h2.06v1.06h-2.06zM16 26h1.06v1.06h-1.06zM34 26h1.06v1.06h-1.06zM16 27h1.06v1.06h-1.06zM34 27h1.06v1.06h-1.06zM16 28h2.06v1.06h-2.06zM30 28h1.06v1.06h-1.06zM15 29h2.06v1.06h-2.06zM30 29h3.06v1.06h-3.06zM17 30h1.06v1.06h-1.06zM20 30h1.06v1.06h-1.06zM24 30h1.06v1.06h-1.06zM31 30h1.06v1.06h-1.06zM20 31h3.06v1.06h-3.06zM25 31h1.06v1.06h-1.06zM30 31h1.06v1.06h-1.06zM25 32h2.06v1.06h-2.06zM28 32h1.06v1.06h-1.06zM25 33h2.06v1.06h-2.06zM25 34h1.06v1.06h-1.06z"/><path fill="#c3c3c3" d="M22 14h4.06v1.06h-4.06zM28 14h1.06v1.06h-1.06zM20 15h1.06v1.06h-1.06zM22 15h1.06v1.06h-1.06zM30 16h1.06v1.06h-1.06zM18 17h1.06v1.06h-1.06zM30 17h1.06v1.06h-1.06zM15 18h3.06v1.06h-3.06zM15 19h1.06v1.06h-1.06zM15 20h1.06v1.06h-1.06zM30 20h1.06v1.06h-1.06zM14 21h2.06v1.06h-2.06zM30 21h4.06v1.06h-4.06zM31 22h1.06v1.06h-1.06zM15 23h1.06v1.06h-1.06zM29 23h2.06v1.06h-2.06zM33 23h1.06v1.06h-1.06zM14 24h1.06v1.06h-1.06zM16 24h1.06v1.06h-1.06zM34 24h1.06v1.06h-1.06zM14 25h1.06v1.06h-1.06zM17 25h1.06v1.06h-1.06zM34 25h1.06v1.06h-1.06zM33 26h1.06v1.06h-1.06zM17 27h1.06v1.06h-1.06zM30 27h2.06v1.06h-2.06zM33 27h1.06v1.06h-1.06zM18 28h1.06v1.06h-1.06zM23 28h1.06v1.06h-1.06zM31 28h3.06v1.06h-3.06zM17 29h7.06v1.06h-7.06zM33 29h1.06v1.06h-1.06zM18 30h1.06v1.06h-1.06zM21 30h3.06v1.06h-3.06zM25 30h1.06v1.06h-1.06zM30 30h1.06v1.06h-1.06zM26 31h1.06v1.06h-1.06zM29 31h1.06v1.06h-1.06zM27 32h1.06v1.06h-1.06z"/><path fill="#bebebe" d="M27 14h1.06v1.06h-1.06zM21 15h1.06v1.06h-1.06zM22 16h1.06v1.06h-1.06zM30 18h1.06v1.06h-1.06zM29 20h1.06v1.06h-1.06zM29 21h1.06v1.06h-1.06zM28 22h2.06v1.06h-2.06zM32 22h1.06v1.06h-1.06zM16 23h1.06v1.06h-1.06zM28 23h1.06v1.06h-1.06zM31 23h2.06v1.06h-2.06zM17 24h1.06v1.06h-1.06zM17 26h1.06v1.06h-1.06zM30 26h2.06v1.06h-2.06zM18 27h1.06v1.06h-1.06zM23 27h1.06v1.06h-1.06zM32 27h1.06v1.06h-1.06zM19 28h4.06v1.06h-4.06zM24 29h1.06v1.06h-1.06zM27 31h2.06v1.06h-2.06z"/><path fill="#b9b9b9" d="M26 14h1.06v1.06h-1.06zM23 15h1.06v1.06h-1.06zM19 16h1.06v1.06h-1.06zM29 16h1.06v1.06h-1.06zM19 18h1.06v1.06h-1.06zM18 19h1.06v1.06h-1.06zM29 19h1.06v1.06h-1.06zM16 21h1.06v1.06h-1.06zM18 21h1.06v1.06h-1.06zM28 21h1.06v1.06h-1.06zM16 22h1.06v1.06h-1.06zM18 22h2.06v1.06h-2.06zM27 22h1.06v1.06h-1.06zM17 23h2.06v1.06h-2.06zM27 23h1.06v1.06h-1.06zM18 24h1.06v1.06h-1.06zM28 24h4.06v1.06h-4.06zM33 24h1.06v1.06h-1.06zM18 25h1.06v1.06h-1.06zM33 25h1.06v1.06h-1.06zM18 26h1.06v1.06h-1.06zM32 26h1.06v1.06h-1.06zM19 27h4.06v1.06h-4.06zM29 27h1.06v1.06h-1.06zM24 28h1.06v1.06h-1.06zM29 28h1.06v1.06h-1.06zM25 29h1.06v1.06h-1.06zM28 29h2.06v1.06h-2.06zM26 30h1.06v1.06h-1.06zM28 30h2.06v1.06h-2.06z"/><path fill="#b4b4b4" d="M24 15h2.06v1.06h-2.06zM28 15h1.06v1.06h-1.06zM20 16h2.06v1.06h-2.06zM23 16h1.06v1.06h-1.06zM19 17h1.06v1.06h-1.06zM22 17h1.06v1.06h-1.06zM29 17h1.06v1.06h-1.06zM18 18h1.06v1.06h-1.06zM23 18h3.06v1.06h-3.06zM29 18h1.06v1.06h-1.06zM16 19h2.06v1.06h-2.06zM24 19h3.06v1.06h-3.06zM16 20h3.06v1.06h-3.06zM25 20h2.06v1.06h-2.06zM28 20h1.06v1.06h-1.06zM17 21h1.06v1.06h-1.06zM19 21h1.06v1.06h-1.06zM27 21h1.06v1.06h-1.06zM17 22h1.06v1.06h-1.06zM20 22h1.06v1.06h-1.06zM19 23h1.06v1.06h-1.06zM26 23h1.06v1.06h-1.06zM27 24h1.06v1.06h-1.06zM32 24h1.06v1.06h-1.06zM19 25h1.06v1.06h-1.06zM29 25h1.06v1.06h-1.06zM31 25h2.06v1.06h-2.06zM19 26h3.06v1.06h-3.06zM28 26h2.06v1.06h-2.06zM24 27h1.06v1.06h-1.06zM28 27h1.06v1.06h-1.06zM25 28h1.06v1.06h-1.06zM28 28h1.06v1.06h-1.06zM26 29h2.06v1.06h-2.06zM27 30h1.06v1.06h-1.06z"/><path fill="#afafaf" d="M24 16h2.06v1.06h-2.06zM20 17h2.06v1.06h-2.06zM23 17h2.06v1.06h-2.06zM20 18h1.06v1.06h-1.06zM19 19h1.06v1.06h-1.06zM23 19h1.06v1.06h-1.06zM28 19h1.06v1.06h-1.06zM19 20h1.06v1.06h-1.06zM24 20h1.06v1.06h-1.06zM27 20h1.06v1.06h-1.06zM25 21h2.06v1.06h-2.06zM20 23h1.06v1.06h-1.06zM19 24h2.06v1.06h-2.06zM26 24h1.06v1.06h-1.06zM20 25h1.06v1.06h-1.06zM27 25h2.06v1.06h-2.06zM30 25h1.06v1.06h-1.06zM22 26h2.06v1.06h-2.06zM27 26h1.06v1.06h-1.06zM25 27h1.06v1.06h-1.06zM27 27h1.06v1.06h-1.06zM26 28h2.06v1.06h-2.06z"/><path fill="#aaaaaa" d="M26 15h2.06v1.06h-2.06zM28 16h1.06v1.06h-1.06zM25 17h1.06v1.06h-1.06zM21 18h2.06v1.06h-2.06zM20 19h1.06v1.06h-1.06zM22 19h1.06v1.06h-1.06zM27 19h1.06v1.06h-1.06zM20 21h1.06v1.06h-1.06zM26 22h1.06v1.06h-1.06zM21 25h1.06v1.06h-1.06zM23 25h1.06v1.06h-1.06zM26 25h1.06v1.06h-1.06zM24 26h1.06v1.06h-1.06z"/><path fill="#a5a5a5" d="M26 16h1.06v1.06h-1.06zM28 17h1.06v1.06h-1.06zM26 18h1.06v1.06h-1.06zM28 18h1.06v1.06h-1.06zM21 19h1.06v1.06h-1.06zM20 20h1.06v1.06h-1.06zM22 20h2.06v1.06h-2.06zM24 21h1.06v1.06h-1.06zM21 22h1.06v1.06h-1.06zM25 22h1.06v1.06h-1.06zM25 23h1.06v1.06h-1.06zM21 24h1.06v1.06h-1.06zM25 24h1.06v1.06h-1.06zM24 25h1.06v1.06h-1.06zM25 26h2.06v1.06h-2.06zM26 27h1.06v1.06h-1.06z"/><path fill="#a0a0a0" d="M27 16h1.06v1.06h-1.06zM26 17h1.06v1.06h-1.06zM27 18h1.06v1.06h-1.06zM21 20h1.06v1.06h-1.06zM21 23h1.06v1.06h-1.06zM24 23h1.06v1.06h-1.06zM23 24h2.06v1.06h-2.06zM25 25h1.06v1.06h-1.06z"/><path fill="#9b9b9b" d="M27 17h1.06v1.06h-1.06zM21 21h2.06v1.06h-2.06zM22 22h1.06v1.06h-1.06zM24 22h1.06v1.06h-1.06zM22 24h1.06v1.06h-1.06zM22 25h1.06v1.06h-1.06z"/><path fill="#969696" d="M23 21h1.06v1.06h-1.06zM22 23h2.06v1.06h-2.06z"/><path fill="#919191" d="M23 22h1.06v1.06h-1.06z"/></g></g><defs><radialGradient id="pag" cx="144.90" cy="108.35" r="31.0" gradientUnits="userSpaceOnUse"><stop offset="0.000" stop-color="#0c0c0c"/><stop offset="0.258" stop-color="#141414"/><stop offset="0.339" stop-color="#505050"/><stop offset="0.452" stop-color="#626262"/><stop offset="0.613" stop-color="#5a5a5a"/><stop offset="0.742" stop-color="#646464"/><stop offset="0.871" stop-color="#8a8a8a" stop-opacity="0.8"/><stop offset="1.000" stop-color="#a8a8a8" stop-opacity="0"/></radialGradient><mask id="pam" maskUnits="userSpaceOnUse" x="63.0" y="26.3" width="163.8" height="164.1"><rect x="63.0" y="26.3" width="163.8" height="164.1" fill="#fff"/><circle cx="144.90" cy="108.35" r="26.5" fill="#000"/></mask></defs><circle cx="144.90" cy="108.35" r="31.0" fill="url(#pag)"/><path d="M149.9 102.5L139.5 113.2" stroke="#333" stroke-width="1.7"/><g mask="url(#pam)"><defs><pattern id="hp1" patternUnits="userSpaceOnUse" x="0" y="4.2" width="8.5" height="8.5"><path d="M-1 1L1 -1M0 8.5L8.5 0M7.5 9.5L9.5 7.5" stroke="#626262" stroke-width="0.95"/></pattern><pattern id="hp2" patternUnits="userSpaceOnUse" x="-0.85" y="6.45" width="8.5" height="8.5"><path d="M-1 1L1 -1M0 8.5L8.5 0M7.5 9.5L9.5 7.5M-1 7.5L1 9.5M0 0L8.5 8.5M7.5 -1L9.5 1" stroke="#626262" stroke-width="0.95"/></pattern></defs><path d="M60.0 79.2L229.8 160.7L229.8 169.5L60.0 88.0z" fill="#fff" fill-opacity="0.18"/><path d="M60.0 55.6L229.8 137.1L229.8 160.7L60.0 79.2z" fill="url(#hp1)"/><path d="M60.0 88.0L229.8 169.5L229.8 193.9L60.0 112.4z" fill="url(#hp2)"/><path d="M60.0 55.6L229.8 137.1M60.0 79.2L229.8 160.7M60.0 88.0L229.8 169.5M60.0 112.4L229.8 193.9" stroke="#626262" stroke-width="0.8" fill="none"/></g></g><defs><clipPath id="pbc"><rect x="226.80" y="26.30" width="163.70" height="164.10"/></clipPath><filter id="pbf" x="-10%" y="-10%" width="120%" height="120%"><feGaussianBlur stdDeviation="1.6"/></filter></defs><g clip-path="url(#pbc)"><g filter="url(#pbf)"><g transform="translate(218.80 18.30) scale(4)"><path fill="#fafafa" d="M29 10h1.06v1.06h-1.06zM21 11h1.06v1.06h-1.06zM30 11h1.06v1.06h-1.06zM31 12h1.06v1.06h-1.06zM32 15h1.06v1.06h-1.06zM16 16h1.06v1.06h-1.06zM32 16h1.06v1.06h-1.06zM15 17h1.06v1.06h-1.06zM32 17h1.06v1.06h-1.06zM32 18h1.06v1.06h-1.06zM14 19h1.06v1.06h-1.06zM32 19h1.06v1.06h-1.06zM13 21h1.06v1.06h-1.06zM31 22h1.06v1.06h-1.06zM12 25h1.06v1.06h-1.06zM30 25h1.06v1.06h-1.06zM12 26h1.06v1.06h-1.06zM12 27h1.06v1.06h-1.06zM12 29h1.06v1.06h-1.06zM12 30h1.06v1.06h-1.06zM23 33h1.06v1.06h-1.06zM17 35h2.06v1.06h-2.06z"/><path fill="#f5f5f5" d="M23 10h1.06v1.06h-1.06zM25 10h1.06v1.06h-1.06zM27 10h2.06v1.06h-2.06zM22 11h1.06v1.06h-1.06zM20 12h1.06v1.06h-1.06zM19 13h1.06v1.06h-1.06zM31 13h1.06v1.06h-1.06zM18 14h1.06v1.06h-1.06zM17 15h1.06v1.06h-1.06zM30 24h1.06v1.06h-1.06zM29 26h1.06v1.06h-1.06zM12 28h1.06v1.06h-1.06zM28 28h1.06v1.06h-1.06zM13 32h1.06v1.06h-1.06zM14 33h1.06v1.06h-1.06zM15 34h1.06v1.06h-1.06zM21 34h1.06v1.06h-1.06z"/><path fill="#f0f0f0" d="M24 10h1.06v1.06h-1.06zM26 10h1.06v1.06h-1.06zM29 11h1.06v1.06h-1.06zM30 12h1.06v1.06h-1.06zM31 14h1.06v1.06h-1.06zM31 15h1.06v1.06h-1.06zM16 17h1.06v1.06h-1.06zM15 18h1.06v1.06h-1.06zM14 20h1.06v1.06h-1.06zM31 21h1.06v1.06h-1.06zM13 22h1.06v1.06h-1.06zM27 29h1.06v1.06h-1.06zM26 30h1.06v1.06h-1.06zM24 32h1.06v1.06h-1.06z"/><path fill="#ebebeb" d="M28 11h1.06v1.06h-1.06zM23 13h1.06v1.06h-1.06zM31 16h1.06v1.06h-1.06zM31 17h1.06v1.06h-1.06zM31 18h1.06v1.06h-1.06zM31 20h1.06v1.06h-1.06zM13 23h1.06v1.06h-1.06zM30 23h1.06v1.06h-1.06zM29 25h1.06v1.06h-1.06zM28 27h1.06v1.06h-1.06zM13 31h1.06v1.06h-1.06zM25 31h1.06v1.06h-1.06zM16 34h3.06v1.06h-3.06zM20 34h1.06v1.06h-1.06z"/><path fill="#e6e6e6" d="M21 12h1.06v1.06h-1.06zM20 13h1.06v1.06h-1.06zM17 16h1.06v1.06h-1.06zM15 19h1.06v1.06h-1.06zM13 30h1.06v1.06h-1.06zM14 32h1.06v1.06h-1.06zM15 33h1.06v1.06h-1.06zM22 33h1.06v1.06h-1.06zM19 34h1.06v1.06h-1.06z"/><path fill="#e1e1e1" d="M23 11h1.06v1.06h-1.06zM25 11h1.06v1.06h-1.06zM27 11h1.06v1.06h-1.06zM22 12h1.06v1.06h-1.06zM28 12h2.06v1.06h-2.06zM30 13h1.06v1.06h-1.06zM31 19h1.06v1.06h-1.06zM14 21h1.06v1.06h-1.06zM13 24h1.06v1.06h-1.06z"/><path fill="#dcdcdc" d="M24 11h1.06v1.06h-1.06zM26 11h1.06v1.06h-1.06zM21 13h1.06v1.06h-1.06zM24 13h1.06v1.06h-1.06zM28 13h1.06v1.06h-1.06zM19 14h1.06v1.06h-1.06zM28 14h1.06v1.06h-1.06zM30 14h1.06v1.06h-1.06zM18 15h1.06v1.06h-1.06zM16 18h1.06v1.06h-1.06zM30 20h1.06v1.06h-1.06zM30 21h1.06v1.06h-1.06zM30 22h1.06v1.06h-1.06zM28 26h1.06v1.06h-1.06zM27 28h1.06v1.06h-1.06zM13 29h1.06v1.06h-1.06zM23 32h1.06v1.06h-1.06zM21 33h1.06v1.06h-1.06z"/><path fill="#d7d7d7" d="M25 12h1.06v1.06h-1.06zM30 15h1.06v1.06h-1.06zM30 18h1.06v1.06h-1.06zM29 24h1.06v1.06h-1.06zM13 25h1.06v1.06h-1.06zM28 25h1.06v1.06h-1.06zM25 30h1.06v1.06h-1.06zM24 31h1.06v1.06h-1.06z"/><path fill="#d2d2d2" d="M23 12h2.06v1.06h-2.06zM27 12h1.06v1.06h-1.06zM22 13h1.06v1.06h-1.06zM29 14h1.06v1.06h-1.06zM22 15h1.06v1.06h-1.06zM19 16h3.06v1.06h-3.06zM17 17h1.06v1.06h-1.06zM30 17h1.06v1.06h-1.06zM17 18h1.06v1.06h-1.06zM15 20h1.06v1.06h-1.06zM29 20h1.06v1.06h-1.06zM29 21h1.06v1.06h-1.06zM14 22h1.06v1.06h-1.06zM13 26h1.06v1.06h-1.06zM13 27h1.06v1.06h-1.06zM13 28h1.06v1.06h-1.06zM26 29h1.06v1.06h-1.06zM14 31h1.06v1.06h-1.06zM15 32h1.06v1.06h-1.06zM16 33h1.06v1.06h-1.06z"/><path fill="#cdcdcd" d="M26 12h1.06v1.06h-1.06zM29 13h1.06v1.06h-1.06zM22 14h3.06v1.06h-3.06zM28 15h1.06v1.06h-1.06zM25 17h1.06v1.06h-1.06zM28 17h1.06v1.06h-1.06zM29 18h1.06v1.06h-1.06zM16 19h2.06v1.06h-2.06zM15 21h1.06v1.06h-1.06zM29 22h1.06v1.06h-1.06zM14 30h1.06v1.06h-1.06zM17 33h1.06v1.06h-1.06zM20 33h1.06v1.06h-1.06z"/><path fill="#c8c8c8" d="M26 13h2.06v1.06h-2.06zM20 14h2.06v1.06h-2.06zM27 14h1.06v1.06h-1.06zM19 15h1.06v1.06h-1.06zM24 15h1.06v1.06h-1.06zM18 16h1.06v1.06h-1.06zM22 16h1.06v1.06h-1.06zM30 16h1.06v1.06h-1.06zM18 17h1.06v1.06h-1.06zM27 17h1.06v1.06h-1.06zM28 18h1.06v1.06h-1.06zM16 20h1.06v1.06h-1.06zM28 20h1.06v1.06h-1.06zM28 21h1.06v1.06h-1.06zM28 22h1.06v1.06h-1.06zM14 23h1.06v1.06h-1.06zM29 23h1.06v1.06h-1.06zM28 24h1.06v1.06h-1.06zM27 27h1.06v1.06h-1.06zM25 28h1.06v1.06h-1.06zM14 29h1.06v1.06h-1.06zM18 33h2.06v1.06h-2.06z"/><path fill="#c3c3c3" d="M25 13h1.06v1.06h-1.06zM25 14h2.06v1.06h-2.06zM20 15h2.06v1.06h-2.06zM23 15h1.06v1.06h-1.06zM27 15h1.06v1.06h-1.06zM29 15h1.06v1.06h-1.06zM26 16h2.06v1.06h-2.06zM26 17h1.06v1.06h-1.06zM29 17h1.06v1.06h-1.06zM27 18h1.06v1.06h-1.06zM28 23h1.06v1.06h-1.06zM23 28h2.06v1.06h-2.06zM26 28h1.06v1.06h-1.06zM25 29h1.06v1.06h-1.06z"/><path fill="#bebebe" d="M25 15h2.06v1.06h-2.06zM23 16h2.06v1.06h-2.06zM28 16h1.06v1.06h-1.06zM18 18h1.06v1.06h-1.06zM30 19h1.06v1.06h-1.06zM14 24h1.06v1.06h-1.06zM27 25h1.06v1.06h-1.06zM27 26h1.06v1.06h-1.06zM15 31h1.06v1.06h-1.06zM16 32h1.06v1.06h-1.06zM22 32h1.06v1.06h-1.06z"/><path fill="#b9b9b9" d="M25 16h1.06v1.06h-1.06zM24 17h1.06v1.06h-1.06zM26 18h1.06v1.06h-1.06zM14 25h1.06v1.06h-1.06zM14 26h1.06v1.06h-1.06zM14 27h1.06v1.06h-1.06zM19 28h1.06v1.06h-1.06zM22 28h1.06v1.06h-1.06zM22 29h1.06v1.06h-1.06zM23 31h1.06v1.06h-1.06z"/><path fill="#b4b4b4" d="M29 19h1.06v1.06h-1.06zM17 20h1.06v1.06h-1.06zM16 21h1.06v1.06h-1.06zM15 22h1.06v1.06h-1.06zM16 25h1.06v1.06h-1.06zM15 29h1.06v1.06h-1.06zM15 30h1.06v1.06h-1.06zM22 30h1.06v1.06h-1.06zM24 30h1.06v1.06h-1.06zM17 31h2.06v1.06h-2.06zM21 32h1.06v1.06h-1.06z"/><path fill="#afafaf" d="M29 16h1.06v1.06h-1.06zM19 17h1.06v1.06h-1.06zM27 19h2.06v1.06h-2.06zM15 23h2.06v1.06h-2.06zM16 24h1.06v1.06h-1.06zM15 25h1.06v1.06h-1.06zM26 27h1.06v1.06h-1.06zM19 29h1.06v1.06h-1.06zM24 29h1.06v1.06h-1.06zM21 30h1.06v1.06h-1.06zM17 32h1.06v1.06h-1.06zM19 32h1.06v1.06h-1.06z"/><path fill="#aaaaaa" d="M16 22h1.06v1.06h-1.06zM15 26h1.06v1.06h-1.06zM14 28h1.06v1.06h-1.06zM20 28h1.06v1.06h-1.06zM20 29h1.06v1.06h-1.06zM23 29h1.06v1.06h-1.06zM20 30h1.06v1.06h-1.06zM16 31h1.06v1.06h-1.06zM19 31h1.06v1.06h-1.06zM20 32h1.06v1.06h-1.06z"/><path fill="#a5a5a5" d="M15 24h1.06v1.06h-1.06zM27 24h1.06v1.06h-1.06zM26 26h1.06v1.06h-1.06zM18 27h2.06v1.06h-2.06zM25 27h1.06v1.06h-1.06zM16 29h1.06v1.06h-1.06zM18 29h1.06v1.06h-1.06zM21 29h1.06v1.06h-1.06zM16 30h4.06v1.06h-4.06zM23 30h1.06v1.06h-1.06zM20 31h1.06v1.06h-1.06zM18 32h1.06v1.06h-1.06z"/><path fill="#a0a0a0" d="M15 27h3.06v1.06h-3.06zM21 28h1.06v1.06h-1.06zM21 31h1.06v1.06h-1.06z"/><path fill="#9b9b9b" d="M23 17h1.06v1.06h-1.06zM17 26h1.06v1.06h-1.06zM16 28h1.06v1.06h-1.06zM18 28h1.06v1.06h-1.06zM17 29h1.06v1.06h-1.06z"/><path fill="#969696" d="M20 17h1.06v1.06h-1.06zM27 20h1.06v1.06h-1.06zM27 23h1.06v1.06h-1.06zM16 26h1.06v1.06h-1.06zM18 26h1.06v1.06h-1.06zM20 27h1.06v1.06h-1.06zM15 28h1.06v1.06h-1.06z"/><path fill="#919191" d="M27 22h1.06v1.06h-1.06z"/><path fill="#8c8c8c" d="M21 17h1.06v1.06h-1.06zM25 18h1.06v1.06h-1.06zM27 21h1.06v1.06h-1.06zM24 27h1.06v1.06h-1.06zM17 28h1.06v1.06h-1.06z"/><path fill="#878787" d="M22 17h1.06v1.06h-1.06zM18 19h1.06v1.06h-1.06zM17 24h1.06v1.06h-1.06zM17 25h1.06v1.06h-1.06zM22 31h1.06v1.06h-1.06z"/><path fill="#828282" d="M26 19h1.06v1.06h-1.06zM17 21h1.06v1.06h-1.06zM26 25h1.06v1.06h-1.06z"/><path fill="#7d7d7d" d="M19 18h1.06v1.06h-1.06zM17 23h1.06v1.06h-1.06zM25 26h1.06v1.06h-1.06zM21 27h1.06v1.06h-1.06z"/><path fill="#787878" d="M23 27h1.06v1.06h-1.06z"/><path fill="#737373" d="M22 19h1.06v1.06h-1.06zM25 22h1.06v1.06h-1.06zM25 25h1.06v1.06h-1.06z"/><path fill="#6e6e6e" d="M24 18h1.06v1.06h-1.06zM17 22h1.06v1.06h-1.06zM22 27h1.06v1.06h-1.06z"/><path fill="#696969" d="M18 20h2.06v1.06h-2.06zM26 22h1.06v1.06h-1.06zM24 25h1.06v1.06h-1.06z"/><path fill="#646464" d="M21 18h1.06v1.06h-1.06zM26 20h1.06v1.06h-1.06zM19 21h1.06v1.06h-1.06zM19 26h1.06v1.06h-1.06z"/><path fill="#5f5f5f" d="M20 18h1.06v1.06h-1.06zM23 18h1.06v1.06h-1.06zM20 19h1.06v1.06h-1.06zM20 20h1.06v1.06h-1.06zM24 20h1.06v1.06h-1.06zM25 21h2.06v1.06h-2.06zM26 24h1.06v1.06h-1.06zM18 25h1.06v1.06h-1.06zM24 26h1.06v1.06h-1.06z"/><path fill="#5a5a5a" d="M21 19h1.06v1.06h-1.06zM23 19h1.06v1.06h-1.06zM25 20h1.06v1.06h-1.06zM24 22h1.06v1.06h-1.06zM19 23h1.06v1.06h-1.06zM25 23h1.06v1.06h-1.06zM18 24h1.06v1.06h-1.06zM25 24h1.06v1.06h-1.06z"/><path fill="#555555" d="M22 18h1.06v1.06h-1.06zM19 19h1.06v1.06h-1.06zM24 19h1.06v1.06h-1.06zM18 21h1.06v1.06h-1.06zM24 21h1.06v1.06h-1.06zM19 22h1.06v1.06h-1.06zM18 23h1.06v1.06h-1.06zM26 23h1.06v1.06h-1.06zM24 24h1.06v1.06h-1.06zM23 25h1.06v1.06h-1.06z"/><path fill="#505050" d="M23 20h1.06v1.06h-1.06zM20 21h1.06v1.06h-1.06zM19 24h1.06v1.06h-1.06zM20 25h1.06v1.06h-1.06zM20 26h1.06v1.06h-1.06z"/><path fill="#4b4b4b" d="M25 19h1.06v1.06h-1.06zM18 22h1.06v1.06h-1.06zM21 24h1.06v1.06h-1.06zM23 24h1.06v1.06h-1.06zM22 26h2.06v1.06h-2.06z"/><path fill="#464646" d="M21 20h1.06v1.06h-1.06zM24 23h1.06v1.06h-1.06zM20 24h1.06v1.06h-1.06zM19 25h1.06v1.06h-1.06z"/><path fill="#414141" d="M20 23h1.06v1.06h-1.06zM22 24h1.06v1.06h-1.06zM21 25h2.06v1.06h-2.06zM21 26h1.06v1.06h-1.06z"/><path fill="#3c3c3c" d="M21 21h1.06v1.06h-1.06zM20 22h1.06v1.06h-1.06zM23 22h1.06v1.06h-1.06z"/><path fill="#373737" d="M23 21h1.06v1.06h-1.06zM22 23h2.06v1.06h-2.06z"/><path fill="#323232" d="M22 20h1.06v1.06h-1.06zM21 23h1.06v1.06h-1.06z"/><path fill="#232323" d="M22 21h1.06v1.06h-1.06z"/><path fill="#1e1e1e" d="M21 22h1.06v1.06h-1.06z"/><path fill="#0a0a0a" d="M22 22h1.06v1.06h-1.06z"/></g></g><g transform="translate(309.45 108.65) rotate(17)"><rect x="-19" y="-19" width="38" height="38" fill="none" stroke="#f6f6f6" stroke-width="1.3" stroke-opacity="0.7" stroke-dasharray="7 2 3 3 9 2"/></g><g transform="translate(309.45 108.65)" fill="none" stroke="#fcfcfc" stroke-width="2"><path d="M-10 2Q-3 7.5 3.5 8.5"/><path d="M-5.5 -6l1.5 5.5M-5 -0.5h6M-1.5 -4.5l3.5 -2.5"/><path d="M2.5 -1.5l2.5 3.5M3.5 1h4.5M6.5 -3.5l1 5"/></g><path transform="translate(309.45 108.65)" d="M-2 3.5h4v2h-4z" fill="#111"/></g><defs><clipPath id="pcc"><rect x="390.50" y="26.30" width="163.50" height="164.10"/></clipPath><filter id="pcf" x="-10%" y="-10%" width="120%" height="120%"><feGaussianBlur stdDeviation="1.6"/></filter></defs><g clip-path="url(#pcc)"><g filter="url(#pcf)"><g transform="translate(382.50 18.30) scale(4)"><path fill="#fafafa" d="M24 8h4.06v1.06h-4.06zM21 9h4.06v1.06h-4.06zM30 9h1.06v1.06h-1.06zM20 10h1.06v1.06h-1.06zM31 10h1.06v1.06h-1.06zM18 11h1.06v1.06h-1.06zM31 11h2.06v1.06h-2.06zM17 12h1.06v1.06h-1.06zM32 12h1.06v1.06h-1.06zM16 13h1.06v1.06h-1.06zM33 13h1.06v1.06h-1.06zM15 14h1.06v1.06h-1.06zM33 14h1.06v1.06h-1.06zM14 15h1.06v1.06h-1.06zM33 15h1.06v1.06h-1.06zM13 16h1.06v1.06h-1.06zM33 16h1.06v1.06h-1.06zM13 17h1.06v1.06h-1.06zM34 17h1.06v1.06h-1.06zM12 18h1.06v1.06h-1.06zM34 18h1.06v1.06h-1.06zM12 19h1.06v1.06h-1.06zM11 21h1.06v1.06h-1.06zM33 21h1.06v1.06h-1.06zM11 22h1.06v1.06h-1.06zM33 22h1.06v1.06h-1.06zM33 23h1.06v1.06h-1.06zM10 24h1.06v1.06h-1.06zM10 25h1.06v1.06h-1.06zM31 25h2.06v1.06h-2.06zM10 26h1.06v1.06h-1.06zM31 26h1.06v1.06h-1.06zM10 27h1.06v1.06h-1.06zM31 27h1.06v1.06h-1.06zM10 28h1.06v1.06h-1.06zM10 29h1.06v1.06h-1.06zM30 29h1.06v1.06h-1.06zM29 30h1.06v1.06h-1.06zM11 31h1.06v1.06h-1.06zM28 31h1.06v1.06h-1.06zM11 32h1.06v1.06h-1.06zM12 33h1.06v1.06h-1.06zM26 33h1.06v1.06h-1.06zM13 34h1.06v1.06h-1.06zM25 34h1.06v1.06h-1.06zM14 35h1.06v1.06h-1.06zM22 35h2.06v1.06h-2.06zM15 36h3.06v1.06h-3.06zM19 36h3.06v1.06h-3.06z"/><path fill="#f5f5f5" d="M25 9h1.06v1.06h-1.06zM28 9h2.06v1.06h-2.06zM21 10h1.06v1.06h-1.06zM30 10h1.06v1.06h-1.06zM19 11h2.06v1.06h-2.06zM30 11h1.06v1.06h-1.06zM31 12h1.06v1.06h-1.06zM17 13h1.06v1.06h-1.06zM32 13h1.06v1.06h-1.06zM16 14h1.06v1.06h-1.06zM15 15h1.06v1.06h-1.06zM14 16h1.06v1.06h-1.06zM32 16h1.06v1.06h-1.06zM33 17h1.06v1.06h-1.06zM13 18h1.06v1.06h-1.06zM33 18h1.06v1.06h-1.06zM33 19h1.06v1.06h-1.06zM12 20h1.06v1.06h-1.06zM33 20h1.06v1.06h-1.06zM32 21h1.06v1.06h-1.06zM32 22h1.06v1.06h-1.06zM11 23h1.06v1.06h-1.06zM32 24h1.06v1.06h-1.06zM30 25h1.06v1.06h-1.06zM30 28h1.06v1.06h-1.06zM11 29h1.06v1.06h-1.06zM29 29h1.06v1.06h-1.06zM11 30h1.06v1.06h-1.06zM28 30h1.06v1.06h-1.06zM12 32h1.06v1.06h-1.06zM27 32h1.06v1.06h-1.06zM13 33h1.06v1.06h-1.06zM14 34h1.06v1.06h-1.06zM23 34h2.06v1.06h-2.06zM15 35h2.06v1.06h-2.06zM18 36h1.06v1.06h-1.06z"/><path fill="#f0f0f0" d="M26 9h2.06v1.06h-2.06zM27 10h2.06v1.06h-2.06zM22 11h1.06v1.06h-1.06zM18 12h2.06v1.06h-2.06zM22 12h1.06v1.06h-1.06zM18 13h1.06v1.06h-1.06zM31 13h1.06v1.06h-1.06zM17 14h1.06v1.06h-1.06zM32 14h1.06v1.06h-1.06zM16 15h1.06v1.06h-1.06zM32 15h1.06v1.06h-1.06zM15 16h1.06v1.06h-1.06zM14 17h1.06v1.06h-1.06zM32 17h1.06v1.06h-1.06zM13 19h1.06v1.06h-1.06zM32 20h1.06v1.06h-1.06zM12 21h1.06v1.06h-1.06zM31 22h1.06v1.06h-1.06zM32 23h1.06v1.06h-1.06zM11 24h1.06v1.06h-1.06zM31 24h1.06v1.06h-1.06zM11 25h1.06v1.06h-1.06zM11 26h1.06v1.06h-1.06zM30 26h1.06v1.06h-1.06zM11 27h1.06v1.06h-1.06zM30 27h1.06v1.06h-1.06zM11 28h1.06v1.06h-1.06zM29 28h1.06v1.06h-1.06zM12 31h1.06v1.06h-1.06zM27 31h1.06v1.06h-1.06zM26 32h1.06v1.06h-1.06zM14 33h2.06v1.06h-2.06zM25 33h1.06v1.06h-1.06zM15 34h2.06v1.06h-2.06zM22 34h1.06v1.06h-1.06zM17 35h1.06v1.06h-1.06zM19 35h3.06v1.06h-3.06z"/><path fill="#ebebeb" d="M22 10h5.06v1.06h-5.06zM29 10h1.06v1.06h-1.06zM21 11h1.06v1.06h-1.06zM27 11h3.06v1.06h-3.06zM20 12h2.06v1.06h-2.06zM29 12h2.06v1.06h-2.06zM28 13h1.06v1.06h-1.06zM19 14h1.06v1.06h-1.06zM31 14h1.06v1.06h-1.06zM17 15h1.06v1.06h-1.06zM31 16h1.06v1.06h-1.06zM14 18h1.06v1.06h-1.06zM32 18h1.06v1.06h-1.06zM31 19h2.06v1.06h-2.06zM12 22h1.06v1.06h-1.06zM31 23h1.06v1.06h-1.06zM29 25h1.06v1.06h-1.06zM28 28h1.06v1.06h-1.06zM28 29h1.06v1.06h-1.06zM12 30h1.06v1.06h-1.06zM13 32h2.06v1.06h-2.06zM17 34h1.06v1.06h-1.06zM21 34h1.06v1.06h-1.06zM18 35h1.06v1.06h-1.06z"/><path fill="#e6e6e6" d="M25 11h2.06v1.06h-2.06zM28 12h1.06v1.06h-1.06zM19 13h1.06v1.06h-1.06zM27 13h1.06v1.06h-1.06zM30 13h1.06v1.06h-1.06zM18 14h1.06v1.06h-1.06zM20 14h1.06v1.06h-1.06zM30 14h1.06v1.06h-1.06zM31 15h1.06v1.06h-1.06zM30 16h1.06v1.06h-1.06zM15 17h1.06v1.06h-1.06zM31 17h1.06v1.06h-1.06zM31 18h1.06v1.06h-1.06zM13 20h1.06v1.06h-1.06zM31 20h1.06v1.06h-1.06zM31 21h1.06v1.06h-1.06zM12 23h1.06v1.06h-1.06zM12 25h1.06v1.06h-1.06zM29 27h1.06v1.06h-1.06zM12 28h1.06v1.06h-1.06zM12 29h1.06v1.06h-1.06zM27 30h1.06v1.06h-1.06zM15 32h1.06v1.06h-1.06zM25 32h1.06v1.06h-1.06zM16 33h1.06v1.06h-1.06zM23 33h2.06v1.06h-2.06zM18 34h3.06v1.06h-3.06z"/><path fill="#e1e1e1" d="M23 11h2.06v1.06h-2.06zM27 12h1.06v1.06h-1.06zM22 13h1.06v1.06h-1.06zM25 13h1.06v1.06h-1.06zM29 13h1.06v1.06h-1.06zM23 14h1.06v1.06h-1.06zM28 14h2.06v1.06h-2.06zM18 15h1.06v1.06h-1.06zM29 15h1.06v1.06h-1.06zM16 16h1.06v1.06h-1.06zM16 17h1.06v1.06h-1.06zM15 18h1.06v1.06h-1.06zM30 19h1.06v1.06h-1.06zM30 20h1.06v1.06h-1.06zM12 24h1.06v1.06h-1.06zM30 24h1.06v1.06h-1.06zM12 26h1.06v1.06h-1.06zM29 26h1.06v1.06h-1.06zM12 27h1.06v1.06h-1.06zM28 27h1.06v1.06h-1.06zM13 30h1.06v1.06h-1.06zM13 31h1.06v1.06h-1.06zM26 31h1.06v1.06h-1.06zM22 33h1.06v1.06h-1.06z"/><path fill="#dcdcdc" d="M25 12h2.06v1.06h-2.06zM20 13h1.06v1.06h-1.06zM19 15h1.06v1.06h-1.06zM28 15h1.06v1.06h-1.06zM30 15h1.06v1.06h-1.06zM14 19h1.06v1.06h-1.06zM13 21h1.06v1.06h-1.06zM30 21h1.06v1.06h-1.06zM13 23h1.06v1.06h-1.06zM13 25h1.06v1.06h-1.06zM13 29h1.06v1.06h-1.06zM27 29h1.06v1.06h-1.06zM26 30h1.06v1.06h-1.06zM14 31h1.06v1.06h-1.06zM25 31h1.06v1.06h-1.06zM16 32h1.06v1.06h-1.06zM24 32h1.06v1.06h-1.06zM17 33h1.06v1.06h-1.06zM20 33h2.06v1.06h-2.06z"/><path fill="#d7d7d7" d="M23 12h1.06v1.06h-1.06zM23 13h1.06v1.06h-1.06zM26 13h1.06v1.06h-1.06zM21 14h1.06v1.06h-1.06zM27 14h1.06v1.06h-1.06zM23 15h1.06v1.06h-1.06zM17 16h1.06v1.06h-1.06zM16 18h1.06v1.06h-1.06zM30 18h1.06v1.06h-1.06zM13 22h2.06v1.06h-2.06zM30 22h1.06v1.06h-1.06zM30 23h1.06v1.06h-1.06zM13 24h1.06v1.06h-1.06zM28 26h1.06v1.06h-1.06zM13 28h1.06v1.06h-1.06zM24 31h1.06v1.06h-1.06zM23 32h1.06v1.06h-1.06zM18 33h2.06v1.06h-2.06z"/><path fill="#d2d2d2" d="M24 12h1.06v1.06h-1.06zM21 13h1.06v1.06h-1.06zM24 13h1.06v1.06h-1.06zM22 14h1.06v1.06h-1.06zM24 14h1.06v1.06h-1.06zM22 15h1.06v1.06h-1.06zM29 16h1.06v1.06h-1.06zM30 17h1.06v1.06h-1.06zM29 19h1.06v1.06h-1.06zM29 23h1.06v1.06h-1.06zM29 24h1.06v1.06h-1.06zM14 25h1.06v1.06h-1.06zM27 28h1.06v1.06h-1.06zM15 31h1.06v1.06h-1.06zM21 32h1.06v1.06h-1.06z"/><path fill="#cdcdcd" d="M20 15h1.06v1.06h-1.06zM24 15h1.06v1.06h-1.06zM27 16h2.06v1.06h-2.06zM17 17h1.06v1.06h-1.06zM14 20h1.06v1.06h-1.06zM29 20h1.06v1.06h-1.06zM14 21h1.06v1.06h-1.06zM13 26h1.06v1.06h-1.06zM13 27h1.06v1.06h-1.06zM26 29h1.06v1.06h-1.06zM14 30h1.06v1.06h-1.06zM25 30h1.06v1.06h-1.06zM23 31h1.06v1.06h-1.06zM17 32h1.06v1.06h-1.06zM22 32h1.06v1.06h-1.06z"/><path fill="#c8c8c8" d="M25 14h2.06v1.06h-2.06zM21 15h1.06v1.06h-1.06zM26 15h2.06v1.06h-2.06zM29 17h1.06v1.06h-1.06zM15 19h2.06v1.06h-2.06zM29 21h1.06v1.06h-1.06zM29 22h1.06v1.06h-1.06zM14 23h1.06v1.06h-1.06zM28 24h1.06v1.06h-1.06zM27 27h1.06v1.06h-1.06zM16 31h1.06v1.06h-1.06zM19 32h2.06v1.06h-2.06z"/><path fill="#c3c3c3" d="M28 17h1.06v1.06h-1.06zM29 18h1.06v1.06h-1.06zM15 20h1.06v1.06h-1.06zM15 21h1.06v1.06h-1.06zM15 22h1.06v1.06h-1.06zM14 24h1.06v1.06h-1.06zM14 29h1.06v1.06h-1.06zM15 30h2.06v1.06h-2.06zM17 31h1.06v1.06h-1.06zM22 31h1.06v1.06h-1.06z"/><path fill="#bebebe" d="M18 16h1.06v1.06h-1.06zM28 25h1.06v1.06h-1.06zM14 26h1.06v1.06h-1.06zM14 28h1.06v1.06h-1.06zM25 29h1.06v1.06h-1.06zM24 30h1.06v1.06h-1.06zM18 31h1.06v1.06h-1.06zM18 32h1.06v1.06h-1.06z"/><path fill="#b9b9b9" d="M25 15h1.06v1.06h-1.06zM24 16h1.06v1.06h-1.06zM26 16h1.06v1.06h-1.06zM27 17h1.06v1.06h-1.06zM15 29h1.06v1.06h-1.06zM20 30h2.06v1.06h-2.06zM20 31h1.06v1.06h-1.06z"/><path fill="#b4b4b4" d="M23 16h1.06v1.06h-1.06zM17 18h1.06v1.06h-1.06zM28 19h1.06v1.06h-1.06zM16 20h1.06v1.06h-1.06zM15 25h1.06v1.06h-1.06zM27 26h1.06v1.06h-1.06zM14 27h1.06v1.06h-1.06zM17 28h2.06v1.06h-2.06zM18 29h1.06v1.06h-1.06zM21 29h1.06v1.06h-1.06zM17 30h2.06v1.06h-2.06zM23 30h1.06v1.06h-1.06zM19 31h1.06v1.06h-1.06zM21 31h1.06v1.06h-1.06z"/><path fill="#afafaf" d="M28 18h1.06v1.06h-1.06zM28 23h1.06v1.06h-1.06zM15 26h1.06v1.06h-1.06zM16 27h1.06v1.06h-1.06zM26 28h1.06v1.06h-1.06zM16 29h2.06v1.06h-2.06zM20 29h1.06v1.06h-1.06zM19 30h1.06v1.06h-1.06zM22 30h1.06v1.06h-1.06z"/><path fill="#aaaaaa" d="M26 17h1.06v1.06h-1.06zM15 28h2.06v1.06h-2.06z"/><path fill="#a5a5a5" d="M15 24h1.06v1.06h-1.06zM15 27h1.06v1.06h-1.06zM19 29h1.06v1.06h-1.06zM22 29h1.06v1.06h-1.06z"/><path fill="#a0a0a0" d="M22 16h1.06v1.06h-1.06zM25 16h1.06v1.06h-1.06zM28 21h1.06v1.06h-1.06zM28 22h1.06v1.06h-1.06zM15 23h1.06v1.06h-1.06zM24 29h1.06v1.06h-1.06z"/><path fill="#9b9b9b" d="M18 17h1.06v1.06h-1.06zM28 20h1.06v1.06h-1.06zM16 26h1.06v1.06h-1.06zM20 28h1.06v1.06h-1.06zM23 29h1.06v1.06h-1.06z"/><path fill="#969696" d="M16 21h1.06v1.06h-1.06zM17 27h1.06v1.06h-1.06zM25 28h1.06v1.06h-1.06z"/><path fill="#919191" d="M19 16h2.06v1.06h-2.06zM25 17h1.06v1.06h-1.06zM27 25h1.06v1.06h-1.06zM19 28h1.06v1.06h-1.06z"/><path fill="#8c8c8c" d="M21 16h1.06v1.06h-1.06zM16 22h1.06v1.06h-1.06zM26 27h1.06v1.06h-1.06z"/><path fill="#878787" d="M27 18h1.06v1.06h-1.06zM17 19h1.06v1.06h-1.06zM16 25h1.06v1.06h-1.06zM18 27h1.06v1.06h-1.06zM21 28h1.06v1.06h-1.06z"/><path fill="#828282" d="M24 17h1.06v1.06h-1.06zM17 20h1.06v1.06h-1.06zM27 24h1.06v1.06h-1.06zM22 28h1.06v1.06h-1.06z"/><path fill="#7d7d7d" d="M23 17h1.06v1.06h-1.06zM18 18h1.06v1.06h-1.06zM25 19h1.06v1.06h-1.06z"/><path fill="#787878" d="M19 17h1.06v1.06h-1.06zM25 25h1.06v1.06h-1.06zM19 27h1.06v1.06h-1.06zM25 27h1.06v1.06h-1.06z"/><path fill="#737373" d="M27 20h1.06v1.06h-1.06zM27 21h1.06v1.06h-1.06zM27 23h1.06v1.06h-1.06z"/><path fill="#6e6e6e" d="M20 17h1.06v1.06h-1.06zM22 17h1.06v1.06h-1.06zM20 18h1.06v1.06h-1.06zM25 18h2.06v1.06h-2.06zM27 19h1.06v1.06h-1.06zM27 22h1.06v1.06h-1.06zM17 26h1.06v1.06h-1.06zM25 26h2.06v1.06h-2.06zM24 28h1.06v1.06h-1.06z"/><path fill="#696969" d="M21 17h1.06v1.06h-1.06zM19 18h1.06v1.06h-1.06zM21 18h2.06v1.06h-2.06zM19 19h1.06v1.06h-1.06zM22 19h1.06v1.06h-1.06zM17 21h1.06v1.06h-1.06zM26 25h1.06v1.06h-1.06zM20 27h1.06v1.06h-1.06zM23 28h1.06v1.06h-1.06z"/><path fill="#646464" d="M18 19h1.06v1.06h-1.06zM20 19h1.06v1.06h-1.06zM25 20h2.06v1.06h-2.06zM26 21h1.06v1.06h-1.06zM26 22h1.06v1.06h-1.06zM16 23h1.06v1.06h-1.06zM26 24h1.06v1.06h-1.06z"/><path fill="#5f5f5f" d="M24 18h1.06v1.06h-1.06zM21 19h1.06v1.06h-1.06zM26 23h1.06v1.06h-1.06zM16 24h1.06v1.06h-1.06z"/><path fill="#5a5a5a" d="M18 20h1.06v1.06h-1.06zM22 20h1.06v1.06h-1.06zM22 21h1.06v1.06h-1.06zM21 22h2.06v1.06h-2.06zM25 22h1.06v1.06h-1.06zM17 25h1.06v1.06h-1.06z"/><path fill="#555555" d="M23 18h1.06v1.06h-1.06zM26 19h1.06v1.06h-1.06zM21 20h1.06v1.06h-1.06zM24 20h1.06v1.06h-1.06zM18 21h1.06v1.06h-1.06zM24 21h2.06v1.06h-2.06zM17 22h2.06v1.06h-2.06zM23 22h1.06v1.06h-1.06zM25 23h1.06v1.06h-1.06zM17 24h1.06v1.06h-1.06zM25 24h1.06v1.06h-1.06zM24 25h1.06v1.06h-1.06zM21 27h1.06v1.06h-1.06z"/><path fill="#505050" d="M23 19h2.06v1.06h-2.06zM21 21h1.06v1.06h-1.06zM23 21h1.06v1.06h-1.06zM20 22h1.06v1.06h-1.06zM24 22h1.06v1.06h-1.06zM17 23h1.06v1.06h-1.06zM19 23h2.06v1.06h-2.06zM23 25h1.06v1.06h-1.06zM18 26h1.06v1.06h-1.06z"/><path fill="#4b4b4b" d="M23 20h1.06v1.06h-1.06zM20 21h1.06v1.06h-1.06zM19 22h1.06v1.06h-1.06zM18 23h1.06v1.06h-1.06zM21 23h1.06v1.06h-1.06zM18 24h1.06v1.06h-1.06z"/><path fill="#464646" d="M20 20h1.06v1.06h-1.06zM20 24h1.06v1.06h-1.06zM18 25h1.06v1.06h-1.06zM21 25h1.06v1.06h-1.06zM24 27h1.06v1.06h-1.06z"/><path fill="#414141" d="M22 23h1.06v1.06h-1.06zM21 24h1.06v1.06h-1.06zM19 25h1.06v1.06h-1.06zM20 26h2.06v1.06h-2.06zM24 26h1.06v1.06h-1.06zM22 27h1.06v1.06h-1.06z"/><path fill="#3c3c3c" d="M19 24h1.06v1.06h-1.06zM24 24h1.06v1.06h-1.06zM20 25h1.06v1.06h-1.06zM19 26h1.06v1.06h-1.06zM23 26h1.06v1.06h-1.06z"/><path fill="#373737" d="M19 21h1.06v1.06h-1.06zM22 24h1.06v1.06h-1.06zM23 27h1.06v1.06h-1.06z"/><path fill="#323232" d="M19 20h1.06v1.06h-1.06zM23 23h1.06v1.06h-1.06zM22 25h1.06v1.06h-1.06z"/><path fill="#2d2d2d" d="M24 23h1.06v1.06h-1.06z"/><path fill="#282828" d="M23 24h1.06v1.06h-1.06zM22 26h1.06v1.06h-1.06z"/></g></g><defs><filter id="pcb" x="-50%" y="-50%" width="200%" height="200%"><feGaussianBlur stdDeviation="1.3"/></filter></defs><rect x="464.25" y="100.35" width="15" height="15" transform="rotate(20 471.75 107.85)" fill="#0a0a0a" filter="url(#pcb)"/></g><defs><clipPath id="pdc"><rect x="63.00" y="190.40" width="163.80" height="164.10"/></clipPath></defs><g clip-path="url(#pdc)"><g><g transform="translate(53.00 180.40) scale(5)" shape-rendering="crispEdges"><path fill="#f5f5f5" d="M0 0h15.06v1.06h-15.06zM25 0h12.06v1.06h-12.06zM0 1h14.06v1.06h-14.06zM27 1h10.06v1.06h-10.06zM0 2h11.06v1.06h-11.06zM29 2h8.06v1.06h-8.06zM0 3h9.06v1.06h-9.06zM30 3h7.06v1.06h-7.06zM0 4h8.06v1.06h-8.06zM30 4h7.06v1.06h-7.06zM0 5h7.06v1.06h-7.06zM31 5h6.06v1.06h-6.06zM0 6h6.06v1.06h-6.06zM31 6h6.06v1.06h-6.06zM0 7h5.06v1.06h-5.06zM32 7h5.06v1.06h-5.06zM0 8h4.06v1.06h-4.06zM33 8h4.06v1.06h-4.06zM0 9h3.06v1.06h-3.06zM33 9h4.06v1.06h-4.06zM0 10h3.06v1.06h-3.06zM34 10h3.06v1.06h-3.06zM0 11h2.06v1.06h-2.06zM34 11h3.06v1.06h-3.06zM0 12h2.06v1.06h-2.06zM35 12h2.06v1.06h-2.06zM0 13h2.06v1.06h-2.06zM35 13h2.06v1.06h-2.06zM0 14h1.06v1.06h-1.06zM35 14h2.06v1.06h-2.06zM0 15h1.06v1.06h-1.06zM36 15h1.06v1.06h-1.06zM0 16h1.06v1.06h-1.06zM36 16h1.06v1.06h-1.06zM0 17h1.06v1.06h-1.06zM36 17h1.06v1.06h-1.06zM0 18h1.06v1.06h-1.06zM36 18h1.06v1.06h-1.06zM0 19h1.06v1.06h-1.06zM36 19h1.06v1.06h-1.06zM0 20h1.06v1.06h-1.06zM36 20h1.06v1.06h-1.06zM0 21h1.06v1.06h-1.06zM36 21h1.06v1.06h-1.06zM0 22h1.06v1.06h-1.06zM35 22h2.06v1.06h-2.06zM0 23h2.06v1.06h-2.06zM35 23h2.06v1.06h-2.06zM0 24h2.06v1.06h-2.06zM35 24h2.06v1.06h-2.06zM0 25h2.06v1.06h-2.06zM34 25h3.06v1.06h-3.06zM0 26h3.06v1.06h-3.06zM34 26h3.06v1.06h-3.06zM0 27h3.06v1.06h-3.06zM33 27h4.06v1.06h-4.06zM0 28h4.06v1.06h-4.06zM33 28h4.06v1.06h-4.06zM0 29h5.06v1.06h-5.06zM32 29h5.06v1.06h-5.06zM0 30h5.06v1.06h-5.06zM31 30h6.06v1.06h-6.06zM0 31h6.06v1.06h-6.06zM30 31h7.06v1.06h-7.06zM0 32h6.06v1.06h-6.06zM29 32h8.06v1.06h-8.06zM0 33h7.06v1.06h-7.06zM27 33h10.06v1.06h-10.06zM0 34h8.06v1.06h-8.06zM25 34h12.06v1.06h-12.06zM0 35h9.06v1.06h-9.06zM22 35h15.06v1.06h-15.06zM0 36h11.06v1.06h-11.06zM20 36h17.06v1.06h-17.06z"/><path fill="#f0f0f0" d="M15 0h3.06v1.06h-3.06zM22 0h3.06v1.06h-3.06zM14 1h2.06v1.06h-2.06zM25 1h2.06v1.06h-2.06zM11 2h3.06v1.06h-3.06zM27 2h2.06v1.06h-2.06zM9 3h4.06v1.06h-4.06zM28 3h2.06v1.06h-2.06zM8 4h4.06v1.06h-4.06zM29 4h1.06v1.06h-1.06zM7 5h4.06v1.06h-4.06zM30 5h1.06v1.06h-1.06zM6 6h4.06v1.06h-4.06zM30 6h1.06v1.06h-1.06zM5 7h3.06v1.06h-3.06zM30 7h2.06v1.06h-2.06zM4 8h3.06v1.06h-3.06zM31 8h2.06v1.06h-2.06zM3 9h4.06v1.06h-4.06zM31 9h2.06v1.06h-2.06zM3 10h3.06v1.06h-3.06zM31 10h3.06v1.06h-3.06zM2 11h3.06v1.06h-3.06zM32 11h2.06v1.06h-2.06zM2 12h3.06v1.06h-3.06zM32 12h3.06v1.06h-3.06zM2 13h2.06v1.06h-2.06zM32 13h3.06v1.06h-3.06zM1 14h3.06v1.06h-3.06zM33 14h2.06v1.06h-2.06zM1 15h3.06v1.06h-3.06zM33 15h3.06v1.06h-3.06zM1 16h3.06v1.06h-3.06zM33 16h3.06v1.06h-3.06zM1 17h3.06v1.06h-3.06zM33 17h3.06v1.06h-3.06zM1 18h3.06v1.06h-3.06zM33 18h3.06v1.06h-3.06zM1 19h3.06v1.06h-3.06zM33 19h3.06v1.06h-3.06zM1 20h3.06v1.06h-3.06zM33 20h3.06v1.06h-3.06zM1 21h3.06v1.06h-3.06zM33 21h3.06v1.06h-3.06zM1 22h3.06v1.06h-3.06zM33 22h2.06v1.06h-2.06zM2 23h2.06v1.06h-2.06zM32 23h3.06v1.06h-3.06zM2 24h3.06v1.06h-3.06zM32 24h3.06v1.06h-3.06zM2 25h3.06v1.06h-3.06zM31 25h3.06v1.06h-3.06zM3 26h2.06v1.06h-2.06zM31 26h3.06v1.06h-3.06zM3 27h2.06v1.06h-2.06zM30 27h3.06v1.06h-3.06zM4 28h2.06v1.06h-2.06zM29 28h4.06v1.06h-4.06zM5 29h1.06v1.06h-1.06zM28 29h4.06v1.06h-4.06zM5 30h1.06v1.06h-1.06zM27 30h4.06v1.06h-4.06zM6 31h1.06v1.06h-1.06zM25 31h5.06v1.06h-5.06zM6 32h1.06v1.06h-1.06zM24 32h5.06v1.06h-5.06zM7 33h1.06v1.06h-1.06zM23 33h4.06v1.06h-4.06zM8 34h1.06v1.06h-1.06zM22 34h3.06v1.06h-3.06zM9 35h3.06v1.06h-3.06zM20 35h2.06v1.06h-2.06zM11 36h4.06v1.06h-4.06zM17 36h3.06v1.06h-3.06z"/><path fill="#ebebeb" d="M18 0h4.06v1.06h-4.06zM16 1h1.06v1.06h-1.06zM22 1h3.06v1.06h-3.06zM14 2h1.06v1.06h-1.06zM25 2h2.06v1.06h-2.06zM13 3h1.06v1.06h-1.06zM27 3h1.06v1.06h-1.06zM12 4h1.06v1.06h-1.06zM28 4h1.06v1.06h-1.06zM11 5h2.06v1.06h-2.06zM29 5h1.06v1.06h-1.06zM10 6h2.06v1.06h-2.06zM29 6h1.06v1.06h-1.06zM8 7h3.06v1.06h-3.06zM7 8h4.06v1.06h-4.06zM30 8h1.06v1.06h-1.06zM7 9h3.06v1.06h-3.06zM30 9h1.06v1.06h-1.06zM6 10h4.06v1.06h-4.06zM30 10h1.06v1.06h-1.06zM5 11h4.06v1.06h-4.06zM30 11h2.06v1.06h-2.06zM5 12h4.06v1.06h-4.06zM30 12h2.06v1.06h-2.06zM4 13h4.06v1.06h-4.06zM30 13h2.06v1.06h-2.06zM4 14h4.06v1.06h-4.06zM30 14h3.06v1.06h-3.06zM4 15h4.06v1.06h-4.06zM30 15h3.06v1.06h-3.06zM4 16h3.06v1.06h-3.06zM30 16h3.06v1.06h-3.06zM4 17h3.06v1.06h-3.06zM30 17h3.06v1.06h-3.06zM4 18h3.06v1.06h-3.06zM30 18h3.06v1.06h-3.06zM4 19h3.06v1.06h-3.06zM30 19h3.06v1.06h-3.06zM4 20h2.06v1.06h-2.06zM29 20h4.06v1.06h-4.06zM4 21h2.06v1.06h-2.06zM29 21h4.06v1.06h-4.06zM4 22h2.06v1.06h-2.06zM29 22h4.06v1.06h-4.06zM4 23h2.06v1.06h-2.06zM28 23h4.06v1.06h-4.06zM5 24h1.06v1.06h-1.06zM28 24h4.06v1.06h-4.06zM5 25h1.06v1.06h-1.06zM27 25h4.06v1.06h-4.06zM5 26h1.06v1.06h-1.06zM27 26h4.06v1.06h-4.06zM5 27h1.06v1.06h-1.06zM26 27h4.06v1.06h-4.06zM25 28h4.06v1.06h-4.06zM6 29h1.06v1.06h-1.06zM25 29h3.06v1.06h-3.06zM6 30h1.06v1.06h-1.06zM24 30h3.06v1.06h-3.06zM23 31h2.06v1.06h-2.06zM7 32h1.06v1.06h-1.06zM23 32h1.06v1.06h-1.06zM8 33h1.06v1.06h-1.06zM22 33h1.06v1.06h-1.06zM9 34h2.06v1.06h-2.06zM20 34h2.06v1.06h-2.06zM12 35h3.06v1.06h-3.06zM18 35h2.06v1.06h-2.06zM15 36h2.06v1.06h-2.06z"/><path fill="#e6e6e6" d="M17 1h5.06v1.06h-5.06zM15 2h2.06v1.06h-2.06zM23 2h2.06v1.06h-2.06zM14 3h1.06v1.06h-1.06zM25 3h2.06v1.06h-2.06zM13 4h1.06v1.06h-1.06zM27 4h1.06v1.06h-1.06zM28 5h1.06v1.06h-1.06zM12 6h1.06v1.06h-1.06zM28 6h1.06v1.06h-1.06zM11 7h1.06v1.06h-1.06zM29 7h1.06v1.06h-1.06zM29 8h1.06v1.06h-1.06zM10 9h1.06v1.06h-1.06zM29 9h1.06v1.06h-1.06zM10 10h1.06v1.06h-1.06zM29 10h1.06v1.06h-1.06zM9 11h1.06v1.06h-1.06zM29 11h1.06v1.06h-1.06zM9 12h1.06v1.06h-1.06zM29 12h1.06v1.06h-1.06zM8 13h1.06v1.06h-1.06zM29 13h1.06v1.06h-1.06zM8 14h1.06v1.06h-1.06zM29 14h1.06v1.06h-1.06zM8 15h1.06v1.06h-1.06zM29 15h1.06v1.06h-1.06zM7 16h1.06v1.06h-1.06zM29 16h1.06v1.06h-1.06zM7 17h1.06v1.06h-1.06zM28 17h2.06v1.06h-2.06zM7 18h1.06v1.06h-1.06zM28 18h2.06v1.06h-2.06zM7 19h1.06v1.06h-1.06zM28 19h2.06v1.06h-2.06zM6 20h1.06v1.06h-1.06zM27 20h2.06v1.06h-2.06zM6 21h1.06v1.06h-1.06zM27 21h2.06v1.06h-2.06zM6 22h1.06v1.06h-1.06zM27 22h2.06v1.06h-2.06zM6 23h1.06v1.06h-1.06zM26 23h2.06v1.06h-2.06zM6 24h1.06v1.06h-1.06zM26 24h2.06v1.06h-2.06zM6 25h1.06v1.06h-1.06zM26 25h1.06v1.06h-1.06zM6 26h1.06v1.06h-1.06zM25 26h2.06v1.06h-2.06zM6 27h1.06v1.06h-1.06zM25 27h1.06v1.06h-1.06zM6 28h1.06v1.06h-1.06zM24 28h1.06v1.06h-1.06zM24 29h1.06v1.06h-1.06zM7 30h1.06v1.06h-1.06zM23 30h1.06v1.06h-1.06zM7 31h1.06v1.06h-1.06zM8 32h1.06v1.06h-1.06zM22 32h1.06v1.06h-1.06zM9 33h2.06v1.06h-2.06zM21 33h1.06v1.06h-1.06zM11 34h3.06v1.06h-3.06zM19 34h1.06v1.06h-1.06zM15 35h3.06v1.06h-3.06z"/><path fill="#e1e1e1" d="M17 2h6.06v1.06h-6.06zM15 3h1.06v1.06h-1.06zM23 3h2.06v1.06h-2.06zM14 4h1.06v1.06h-1.06zM26 4h1.06v1.06h-1.06zM13 5h1.06v1.06h-1.06zM27 5h1.06v1.06h-1.06zM12 7h1.06v1.06h-1.06zM28 7h1.06v1.06h-1.06zM11 8h1.06v1.06h-1.06zM11 9h1.06v1.06h-1.06zM10 11h1.06v1.06h-1.06zM9 13h1.06v1.06h-1.06zM9 14h1.06v1.06h-1.06zM28 14h1.06v1.06h-1.06zM28 15h1.06v1.06h-1.06zM8 16h1.06v1.06h-1.06zM28 16h1.06v1.06h-1.06zM8 17h1.06v1.06h-1.06zM27 18h1.06v1.06h-1.06zM27 19h1.06v1.06h-1.06zM7 20h1.06v1.06h-1.06zM7 21h1.06v1.06h-1.06zM26 21h1.06v1.06h-1.06zM26 22h1.06v1.06h-1.06zM25 24h1.06v1.06h-1.06zM25 25h1.06v1.06h-1.06zM24 27h1.06v1.06h-1.06zM7 28h1.06v1.06h-1.06zM7 29h1.06v1.06h-1.06zM23 29h1.06v1.06h-1.06zM8 30h1.06v1.06h-1.06zM8 31h1.06v1.06h-1.06zM22 31h1.06v1.06h-1.06zM9 32h2.06v1.06h-2.06zM21 32h1.06v1.06h-1.06zM11 33h2.06v1.06h-2.06zM19 33h2.06v1.06h-2.06zM14 34h5.06v1.06h-5.06z"/><path fill="#dcdcdc" d="M16 3h7.06v1.06h-7.06zM15 4h1.06v1.06h-1.06zM24 4h2.06v1.06h-2.06zM14 5h1.06v1.06h-1.06zM26 5h1.06v1.06h-1.06zM13 6h1.06v1.06h-1.06zM27 6h1.06v1.06h-1.06zM27 7h1.06v1.06h-1.06zM12 8h1.06v1.06h-1.06zM28 8h1.06v1.06h-1.06zM28 9h1.06v1.06h-1.06zM11 10h1.06v1.06h-1.06zM28 10h1.06v1.06h-1.06zM28 11h1.06v1.06h-1.06zM10 12h1.06v1.06h-1.06zM28 12h1.06v1.06h-1.06zM10 13h1.06v1.06h-1.06zM28 13h1.06v1.06h-1.06zM9 15h1.06v1.06h-1.06zM9 16h1.06v1.06h-1.06zM27 16h1.06v1.06h-1.06zM27 17h1.06v1.06h-1.06zM8 18h1.06v1.06h-1.06zM8 19h1.06v1.06h-1.06zM26 19h1.06v1.06h-1.06zM8 20h1.06v1.06h-1.06zM26 20h1.06v1.06h-1.06zM7 22h1.06v1.06h-1.06zM7 23h1.06v1.06h-1.06zM25 23h1.06v1.06h-1.06zM7 24h1.06v1.06h-1.06zM7 25h1.06v1.06h-1.06zM24 25h1.06v1.06h-1.06zM7 26h1.06v1.06h-1.06zM24 26h1.06v1.06h-1.06zM7 27h1.06v1.06h-1.06zM23 28h1.06v1.06h-1.06zM8 29h1.06v1.06h-1.06zM9 30h1.06v1.06h-1.06zM22 30h1.06v1.06h-1.06zM9 31h2.06v1.06h-2.06zM21 31h1.06v1.06h-1.06zM11 32h2.06v1.06h-2.06zM20 32h1.06v1.06h-1.06zM13 33h6.06v1.06h-6.06z"/><path fill="#d7d7d7" d="M16 4h8.06v1.06h-8.06zM15 5h1.06v1.06h-1.06zM23 5h3.06v1.06h-3.06zM14 6h1.06v1.06h-1.06zM25 6h2.06v1.06h-2.06zM13 7h1.06v1.06h-1.06zM26 7h1.06v1.06h-1.06zM27 8h1.06v1.06h-1.06zM12 9h1.06v1.06h-1.06zM27 9h1.06v1.06h-1.06zM12 10h1.06v1.06h-1.06zM27 10h1.06v1.06h-1.06zM11 11h1.06v1.06h-1.06zM11 12h1.06v1.06h-1.06zM27 13h1.06v1.06h-1.06zM10 14h1.06v1.06h-1.06zM27 14h1.06v1.06h-1.06zM10 15h1.06v1.06h-1.06zM27 15h1.06v1.06h-1.06zM9 17h1.06v1.06h-1.06zM26 17h1.06v1.06h-1.06zM9 18h1.06v1.06h-1.06zM26 18h1.06v1.06h-1.06zM8 21h1.06v1.06h-1.06zM25 21h1.06v1.06h-1.06zM8 22h1.06v1.06h-1.06zM25 22h1.06v1.06h-1.06zM8 23h1.06v1.06h-1.06zM24 24h1.06v1.06h-1.06zM8 26h1.06v1.06h-1.06zM23 26h1.06v1.06h-1.06zM8 27h1.06v1.06h-1.06zM23 27h1.06v1.06h-1.06zM8 28h1.06v1.06h-1.06zM22 28h1.06v1.06h-1.06zM9 29h1.06v1.06h-1.06zM22 29h1.06v1.06h-1.06zM10 30h1.06v1.06h-1.06zM21 30h1.06v1.06h-1.06zM11 31h2.06v1.06h-2.06zM20 31h1.06v1.06h-1.06zM13 32h7.06v1.06h-7.06z"/><path fill="#d2d2d2" d="M16 5h7.06v1.06h-7.06zM15 6h1.06v1.06h-1.06zM23 6h2.06v1.06h-2.06zM14 7h1.06v1.06h-1.06zM25 7h1.06v1.06h-1.06zM13 8h2.06v1.06h-2.06zM26 8h1.06v1.06h-1.06zM13 9h1.06v1.06h-1.06zM26 9h1.06v1.06h-1.06zM13 10h1.06v1.06h-1.06zM26 10h1.06v1.06h-1.06zM12 11h1.06v1.06h-1.06zM27 11h1.06v1.06h-1.06zM12 12h1.06v1.06h-1.06zM27 12h1.06v1.06h-1.06zM11 13h1.06v1.06h-1.06zM26 13h1.06v1.06h-1.06zM11 14h1.06v1.06h-1.06zM26 14h1.06v1.06h-1.06zM11 15h1.06v1.06h-1.06zM26 15h1.06v1.06h-1.06zM10 16h1.06v1.06h-1.06zM26 16h1.06v1.06h-1.06zM10 17h1.06v1.06h-1.06zM10 18h1.06v1.06h-1.06zM25 18h1.06v1.06h-1.06zM9 19h1.06v1.06h-1.06zM25 19h1.06v1.06h-1.06zM9 20h1.06v1.06h-1.06zM25 20h1.06v1.06h-1.06zM9 21h1.06v1.06h-1.06zM24 21h1.06v1.06h-1.06zM9 22h1.06v1.06h-1.06zM24 22h1.06v1.06h-1.06zM9 23h1.06v1.06h-1.06zM24 23h1.06v1.06h-1.06zM8 24h1.06v1.06h-1.06zM23 24h1.06v1.06h-1.06zM8 25h1.06v1.06h-1.06zM23 25h1.06v1.06h-1.06zM9 26h1.06v1.06h-1.06zM22 26h1.06v1.06h-1.06zM9 27h1.06v1.06h-1.06zM22 27h1.06v1.06h-1.06zM9 28h1.06v1.06h-1.06zM21 28h1.06v1.06h-1.06zM10 29h1.06v1.06h-1.06zM20 29h2.06v1.06h-2.06zM11 30h2.06v1.06h-2.06zM19 30h2.06v1.06h-2.06zM13 31h7.06v1.06h-7.06z"/><path fill="#cdcdcd" d="M16 6h1.06v1.06h-1.06zM22 6h1.06v1.06h-1.06zM15 7h1.06v1.06h-1.06zM24 7h1.06v1.06h-1.06zM25 8h1.06v1.06h-1.06zM26 11h1.06v1.06h-1.06zM26 12h1.06v1.06h-1.06zM12 13h1.06v1.06h-1.06zM11 16h1.06v1.06h-1.06zM25 16h1.06v1.06h-1.06zM25 17h1.06v1.06h-1.06zM10 19h1.06v1.06h-1.06zM24 20h1.06v1.06h-1.06zM23 23h1.06v1.06h-1.06zM9 24h1.06v1.06h-1.06zM9 25h1.06v1.06h-1.06zM22 25h1.06v1.06h-1.06zM21 27h1.06v1.06h-1.06zM10 28h1.06v1.06h-1.06zM11 29h1.06v1.06h-1.06zM13 30h1.06v1.06h-1.06z"/><path fill="#c8c8c8" d="M17 6h1.06v1.06h-1.06zM21 6h1.06v1.06h-1.06zM14 9h1.06v1.06h-1.06zM25 9h1.06v1.06h-1.06zM13 11h1.06v1.06h-1.06zM12 14h1.06v1.06h-1.06zM25 15h1.06v1.06h-1.06zM24 19h1.06v1.06h-1.06zM10 20h1.06v1.06h-1.06zM23 22h1.06v1.06h-1.06zM20 28h1.06v1.06h-1.06zM14 30h1.06v1.06h-1.06zM18 30h1.06v1.06h-1.06z"/><path fill="#c3c3c3" d="M18 6h3.06v1.06h-3.06zM16 7h1.06v1.06h-1.06zM23 7h1.06v1.06h-1.06zM15 8h1.06v1.06h-1.06zM24 8h1.06v1.06h-1.06zM25 14h1.06v1.06h-1.06zM11 17h1.06v1.06h-1.06zM24 18h1.06v1.06h-1.06zM22 24h1.06v1.06h-1.06zM10 27h1.06v1.06h-1.06zM12 29h1.06v1.06h-1.06zM19 29h1.06v1.06h-1.06zM15 30h3.06v1.06h-3.06z"/><path fill="#bebebe" d="M22 7h1.06v1.06h-1.06zM14 10h1.06v1.06h-1.06zM25 10h1.06v1.06h-1.06zM25 11h1.06v1.06h-1.06zM13 12h1.06v1.06h-1.06zM25 13h1.06v1.06h-1.06zM10 21h1.06v1.06h-1.06zM23 21h1.06v1.06h-1.06zM21 26h1.06v1.06h-1.06zM11 28h1.06v1.06h-1.06z"/><path fill="#b9b9b9" d="M25 12h1.06v1.06h-1.06zM12 15h1.06v1.06h-1.06zM24 17h1.06v1.06h-1.06zM11 18h1.06v1.06h-1.06zM10 26h1.06v1.06h-1.06zM13 29h1.06v1.06h-1.06z"/><path fill="#b4b4b4" d="M17 7h1.06v1.06h-1.06zM21 7h1.06v1.06h-1.06zM23 8h1.06v1.06h-1.06zM15 9h1.06v1.06h-1.06zM24 9h1.06v1.06h-1.06zM23 20h1.06v1.06h-1.06zM10 22h1.06v1.06h-1.06zM22 23h1.06v1.06h-1.06zM20 27h1.06v1.06h-1.06zM18 29h1.06v1.06h-1.06z"/><path fill="#afafaf" d="M18 7h1.06v1.06h-1.06zM20 7h1.06v1.06h-1.06zM16 8h1.06v1.06h-1.06zM13 13h1.06v1.06h-1.06zM10 23h1.06v1.06h-1.06zM10 25h1.06v1.06h-1.06zM21 25h1.06v1.06h-1.06zM19 28h1.06v1.06h-1.06zM14 29h1.06v1.06h-1.06z"/><path fill="#aaaaaa" d="M19 7h1.06v1.06h-1.06zM14 11h1.06v1.06h-1.06zM24 16h1.06v1.06h-1.06zM10 24h1.06v1.06h-1.06zM12 28h1.06v1.06h-1.06zM17 29h1.06v1.06h-1.06z"/><path fill="#a5a5a5" d="M22 8h1.06v1.06h-1.06zM24 10h1.06v1.06h-1.06zM24 15h1.06v1.06h-1.06zM12 16h1.06v1.06h-1.06zM11 19h1.06v1.06h-1.06zM23 19h1.06v1.06h-1.06zM22 22h1.06v1.06h-1.06zM11 27h1.06v1.06h-1.06zM15 29h2.06v1.06h-2.06z"/><path fill="#a0a0a0" d="M17 8h1.06v1.06h-1.06zM21 8h1.06v1.06h-1.06zM23 9h1.06v1.06h-1.06zM15 10h1.06v1.06h-1.06zM24 11h1.06v1.06h-1.06zM24 14h1.06v1.06h-1.06z"/><path fill="#9b9b9b" d="M20 8h1.06v1.06h-1.06zM16 9h1.06v1.06h-1.06zM14 12h1.06v1.06h-1.06zM24 12h1.06v1.06h-1.06zM24 13h1.06v1.06h-1.06zM13 14h1.06v1.06h-1.06zM23 18h1.06v1.06h-1.06zM21 24h1.06v1.06h-1.06zM20 26h1.06v1.06h-1.06z"/><path fill="#969696" d="M18 8h2.06v1.06h-2.06zM22 9h1.06v1.06h-1.06zM23 10h1.06v1.06h-1.06zM22 21h1.06v1.06h-1.06zM19 27h1.06v1.06h-1.06zM13 28h1.06v1.06h-1.06zM18 28h1.06v1.06h-1.06z"/><path fill="#919191" d="M17 9h2.06v1.06h-2.06zM21 9h1.06v1.06h-1.06zM16 10h1.06v1.06h-1.06zM15 11h1.06v1.06h-1.06zM23 11h1.06v1.06h-1.06zM23 12h1.06v1.06h-1.06zM23 13h1.06v1.06h-1.06zM23 14h1.06v1.06h-1.06zM23 15h1.06v1.06h-1.06zM23 16h1.06v1.06h-1.06zM12 17h1.06v1.06h-1.06zM23 17h1.06v1.06h-1.06zM11 20h1.06v1.06h-1.06zM11 26h1.06v1.06h-1.06z"/><path fill="#8c8c8c" d="M19 9h2.06v1.06h-2.06zM17 10h1.06v1.06h-1.06zM22 10h1.06v1.06h-1.06zM16 11h1.06v1.06h-1.06zM22 11h1.06v1.06h-1.06zM15 12h1.06v1.06h-1.06zM14 13h1.06v1.06h-1.06zM22 19h1.06v1.06h-1.06zM22 20h1.06v1.06h-1.06zM21 23h1.06v1.06h-1.06zM14 28h1.06v1.06h-1.06zM17 28h1.06v1.06h-1.06z"/><path fill="#878787" d="M18 10h4.06v1.06h-4.06zM17 11h1.06v1.06h-1.06zM21 11h1.06v1.06h-1.06zM16 12h1.06v1.06h-1.06zM22 12h1.06v1.06h-1.06zM22 13h1.06v1.06h-1.06zM22 14h1.06v1.06h-1.06zM13 15h1.06v1.06h-1.06zM22 15h1.06v1.06h-1.06zM22 16h1.06v1.06h-1.06zM22 17h1.06v1.06h-1.06zM22 18h1.06v1.06h-1.06zM21 22h1.06v1.06h-1.06zM20 25h1.06v1.06h-1.06zM12 27h1.06v1.06h-1.06z"/><path fill="#828282" d="M18 11h3.06v1.06h-3.06zM21 12h1.06v1.06h-1.06zM15 13h1.06v1.06h-1.06zM14 14h1.06v1.06h-1.06zM21 20h1.06v1.06h-1.06zM21 21h1.06v1.06h-1.06zM20 24h1.06v1.06h-1.06zM19 26h1.06v1.06h-1.06zM18 27h1.06v1.06h-1.06zM15 28h2.06v1.06h-2.06z"/><path fill="#7d7d7d" d="M17 12h2.06v1.06h-2.06zM20 12h1.06v1.06h-1.06zM16 13h1.06v1.06h-1.06zM21 13h1.06v1.06h-1.06zM15 14h1.06v1.06h-1.06zM21 14h1.06v1.06h-1.06zM21 15h1.06v1.06h-1.06zM21 16h1.06v1.06h-1.06zM21 17h1.06v1.06h-1.06zM21 18h1.06v1.06h-1.06zM21 19h1.06v1.06h-1.06zM11 21h1.06v1.06h-1.06zM20 23h1.06v1.06h-1.06zM11 25h1.06v1.06h-1.06z"/><path fill="#787878" d="M19 12h1.06v1.06h-1.06zM17 13h1.06v1.06h-1.06zM20 13h1.06v1.06h-1.06zM14 15h1.06v1.06h-1.06zM13 16h1.06v1.06h-1.06zM12 18h1.06v1.06h-1.06zM20 22h1.06v1.06h-1.06zM19 25h1.06v1.06h-1.06zM18 26h1.06v1.06h-1.06z"/><path fill="#737373" d="M18 13h2.06v1.06h-2.06zM16 14h1.06v1.06h-1.06zM20 14h1.06v1.06h-1.06zM15 15h1.06v1.06h-1.06zM20 15h1.06v1.06h-1.06zM20 20h1.06v1.06h-1.06zM20 21h1.06v1.06h-1.06zM11 22h1.06v1.06h-1.06zM11 24h1.06v1.06h-1.06zM19 24h1.06v1.06h-1.06zM13 27h1.06v1.06h-1.06zM17 27h1.06v1.06h-1.06z"/><path fill="#6e6e6e" d="M17 14h3.06v1.06h-3.06zM14 16h1.06v1.06h-1.06zM20 16h1.06v1.06h-1.06zM13 17h1.06v1.06h-1.06zM20 17h1.06v1.06h-1.06zM20 18h1.06v1.06h-1.06zM20 19h1.06v1.06h-1.06zM11 23h1.06v1.06h-1.06zM19 23h1.06v1.06h-1.06zM18 25h1.06v1.06h-1.06zM12 26h1.06v1.06h-1.06zM16 27h1.06v1.06h-1.06z"/><path fill="#696969" d="M16 15h1.06v1.06h-1.06zM19 15h1.06v1.06h-1.06zM12 19h1.06v1.06h-1.06zM19 22h1.06v1.06h-1.06zM17 26h1.06v1.06h-1.06zM14 27h2.06v1.06h-2.06z"/><path fill="#646464" d="M17 15h2.06v1.06h-2.06zM15 16h1.06v1.06h-1.06zM19 16h1.06v1.06h-1.06zM14 17h1.06v1.06h-1.06zM19 17h1.06v1.06h-1.06zM13 18h1.06v1.06h-1.06zM19 21h1.06v1.06h-1.06zM18 24h1.06v1.06h-1.06z"/><path fill="#5f5f5f" d="M16 16h1.06v1.06h-1.06zM18 16h1.06v1.06h-1.06zM19 18h1.06v1.06h-1.06zM19 19h1.06v1.06h-1.06zM12 20h1.06v1.06h-1.06zM19 20h1.06v1.06h-1.06zM12 25h1.06v1.06h-1.06zM17 25h1.06v1.06h-1.06zM13 26h1.06v1.06h-1.06zM16 26h1.06v1.06h-1.06z"/><path fill="#5a5a5a" d="M17 16h1.06v1.06h-1.06zM15 17h1.06v1.06h-1.06zM18 17h1.06v1.06h-1.06zM13 19h1.06v1.06h-1.06zM12 21h1.06v1.06h-1.06zM18 23h1.06v1.06h-1.06zM12 24h1.06v1.06h-1.06zM14 26h2.06v1.06h-2.06z"/><path fill="#555555" d="M16 17h2.06v1.06h-2.06zM14 18h1.06v1.06h-1.06zM18 18h1.06v1.06h-1.06zM12 22h1.06v1.06h-1.06zM18 22h1.06v1.06h-1.06zM12 23h1.06v1.06h-1.06zM17 24h1.06v1.06h-1.06zM16 25h1.06v1.06h-1.06z"/><path fill="#505050" d="M18 19h1.06v1.06h-1.06zM13 20h1.06v1.06h-1.06zM18 20h1.06v1.06h-1.06zM18 21h1.06v1.06h-1.06zM13 25h1.06v1.06h-1.06z"/><path fill="#4b4b4b" d="M15 18h3.06v1.06h-3.06zM14 19h1.06v1.06h-1.06zM17 23h1.06v1.06h-1.06zM13 24h1.06v1.06h-1.06zM14 25h2.06v1.06h-2.06z"/><path fill="#464646" d="M17 19h1.06v1.06h-1.06zM13 21h1.06v1.06h-1.06zM13 22h1.06v1.06h-1.06zM17 22h1.06v1.06h-1.06zM13 23h1.06v1.06h-1.06zM16 24h1.06v1.06h-1.06z"/><path fill="#414141" d="M15 19h2.06v1.06h-2.06zM14 20h1.06v1.06h-1.06zM17 20h1.06v1.06h-1.06zM17 21h1.06v1.06h-1.06zM14 24h2.06v1.06h-2.06z"/><path fill="#3c3c3c" d="M15 20h2.06v1.06h-2.06zM14 21h1.06v1.06h-1.06zM14 23h1.06v1.06h-1.06zM16 23h1.06v1.06h-1.06z"/><path fill="#373737" d="M15 21h2.06v1.06h-2.06zM14 22h3.06v1.06h-3.06zM15 23h1.06v1.06h-1.06z"/></g></g></g><defs><clipPath id="pec"><rect x="226.80" y="190.40" width="163.70" height="164.10"/></clipPath></defs><g clip-path="url(#pec)"><g><g transform="translate(225.30 183.10) scale(10.45)" shape-rendering="crispEdges"><path fill="#f5f5f5" d="M0 0h16.06v1.06h-16.06zM0 1h16.06v1.06h-16.06zM0 2h6.06v1.06h-6.06zM11 2h5.06v1.06h-5.06zM0 3h5.06v1.06h-5.06zM13 3h3.06v1.06h-3.06zM0 4h4.06v1.06h-4.06zM14 4h2.06v1.06h-2.06zM0 5h3.06v1.06h-3.06zM14 5h2.06v1.06h-2.06zM0 6h3.06v1.06h-3.06zM14 6h2.06v1.06h-2.06zM0 7h2.06v1.06h-2.06zM13 7h3.06v1.06h-3.06zM0 8h2.06v1.06h-2.06zM13 8h3.06v1.06h-3.06zM0 9h2.06v1.06h-2.06zM13 9h3.06v1.06h-3.06zM0 10h2.06v1.06h-2.06zM12 10h4.06v1.06h-4.06zM0 11h2.06v1.06h-2.06zM12 11h4.06v1.06h-4.06zM0 12h3.06v1.06h-3.06zM11 12h5.06v1.06h-5.06zM0 13h3.06v1.06h-3.06zM11 13h5.06v1.06h-5.06zM0 14h4.06v1.06h-4.06zM10 14h6.06v1.06h-6.06zM0 15h16.06v1.06h-16.06z"/><path fill="#f0f0f0" d="M6 2h1.06v1.06h-1.06zM10 2h1.06v1.06h-1.06zM12 3h1.06v1.06h-1.06zM13 4h1.06v1.06h-1.06zM3 5h1.06v1.06h-1.06zM13 5h1.06v1.06h-1.06zM13 6h1.06v1.06h-1.06zM2 7h1.06v1.06h-1.06zM2 8h1.06v1.06h-1.06zM12 9h1.06v1.06h-1.06zM2 11h1.06v1.06h-1.06zM11 11h1.06v1.06h-1.06zM3 13h1.06v1.06h-1.06zM10 13h1.06v1.06h-1.06zM4 14h1.06v1.06h-1.06zM9 14h1.06v1.06h-1.06z"/><path fill="#ebebeb" d="M7 2h3.06v1.06h-3.06zM4 4h1.06v1.06h-1.06zM3 6h1.06v1.06h-1.06zM12 8h1.06v1.06h-1.06zM2 9h1.06v1.06h-1.06zM2 10h1.06v1.06h-1.06zM11 10h1.06v1.06h-1.06zM3 12h1.06v1.06h-1.06z"/><path fill="#e6e6e6" d="M5 3h1.06v1.06h-1.06zM11 3h1.06v1.06h-1.06zM12 4h1.06v1.06h-1.06zM4 5h1.06v1.06h-1.06zM3 7h1.06v1.06h-1.06zM12 7h1.06v1.06h-1.06zM3 8h1.06v1.06h-1.06zM11 9h1.06v1.06h-1.06zM3 11h1.06v1.06h-1.06zM10 12h1.06v1.06h-1.06zM4 13h1.06v1.06h-1.06zM8 14h1.06v1.06h-1.06z"/><path fill="#e1e1e1" d="M6 3h1.06v1.06h-1.06zM5 4h1.06v1.06h-1.06zM12 5h1.06v1.06h-1.06zM4 6h1.06v1.06h-1.06zM12 6h1.06v1.06h-1.06zM3 9h1.06v1.06h-1.06zM3 10h1.06v1.06h-1.06zM10 11h1.06v1.06h-1.06zM9 13h1.06v1.06h-1.06zM5 14h1.06v1.06h-1.06zM7 14h1.06v1.06h-1.06z"/><path fill="#d7d7d7" d="M10 3h1.06v1.06h-1.06zM4 7h1.06v1.06h-1.06zM11 8h1.06v1.06h-1.06zM4 12h1.06v1.06h-1.06zM6 14h1.06v1.06h-1.06z"/><path fill="#d2d2d2" d="M7 3h1.06v1.06h-1.06zM9 3h1.06v1.06h-1.06zM6 4h1.06v1.06h-1.06zM5 5h1.06v1.06h-1.06zM4 8h1.06v1.06h-1.06zM10 10h1.06v1.06h-1.06z"/><path fill="#c8c8c8" d="M8 3h1.06v1.06h-1.06zM11 4h1.06v1.06h-1.06zM5 6h1.06v1.06h-1.06zM11 7h1.06v1.06h-1.06zM4 9h1.06v1.06h-1.06zM4 11h1.06v1.06h-1.06zM9 12h1.06v1.06h-1.06zM5 13h1.06v1.06h-1.06zM8 13h1.06v1.06h-1.06z"/><path fill="#bebebe" d="M11 5h1.06v1.06h-1.06zM11 6h1.06v1.06h-1.06zM10 9h1.06v1.06h-1.06zM4 10h1.06v1.06h-1.06zM7 13h1.06v1.06h-1.06z"/><path fill="#b9b9b9" d="M6 5h1.06v1.06h-1.06zM6 13h1.06v1.06h-1.06z"/><path fill="#afafaf" d="M5 7h1.06v1.06h-1.06zM10 8h1.06v1.06h-1.06zM9 11h1.06v1.06h-1.06z"/><path fill="#aaaaaa" d="M7 4h1.06v1.06h-1.06zM10 4h1.06v1.06h-1.06zM6 6h1.06v1.06h-1.06zM10 7h1.06v1.06h-1.06z"/><path fill="#a0a0a0" d="M8 4h1.06v1.06h-1.06zM10 5h1.06v1.06h-1.06zM5 8h1.06v1.06h-1.06zM9 10h1.06v1.06h-1.06zM5 12h1.06v1.06h-1.06zM8 12h1.06v1.06h-1.06z"/><path fill="#969696" d="M9 4h1.06v1.06h-1.06zM10 6h1.06v1.06h-1.06zM9 9h1.06v1.06h-1.06z"/><path fill="#919191" d="M7 5h1.06v1.06h-1.06zM6 7h1.06v1.06h-1.06zM7 12h1.06v1.06h-1.06z"/><path fill="#878787" d="M8 5h2.06v1.06h-2.06zM7 6h1.06v1.06h-1.06zM9 7h1.06v1.06h-1.06zM9 8h1.06v1.06h-1.06zM5 9h1.06v1.06h-1.06zM5 11h1.06v1.06h-1.06zM8 11h1.06v1.06h-1.06z"/><path fill="#828282" d="M8 6h2.06v1.06h-2.06zM6 8h1.06v1.06h-1.06zM8 8h1.06v1.06h-1.06zM5 10h1.06v1.06h-1.06zM6 12h1.06v1.06h-1.06z"/><path fill="#787878" d="M7 7h2.06v1.06h-2.06zM8 9h1.06v1.06h-1.06zM8 10h1.06v1.06h-1.06z"/><path fill="#6e6e6e" d="M7 8h1.06v1.06h-1.06zM7 11h1.06v1.06h-1.06z"/><path fill="#696969" d="M6 9h1.06v1.06h-1.06zM6 10h1.06v1.06h-1.06z"/><path fill="#5f5f5f" d="M7 9h1.06v1.06h-1.06z"/><path fill="#5a5a5a" d="M7 10h1.06v1.06h-1.06zM6 11h1.06v1.06h-1.06z"/></g></g></g><defs><clipPath id="pfc"><rect x="390.50" y="190.40" width="163.50" height="164.10"/></clipPath><filter id="pff" x="-10%" y="-10%" width="120%" height="120%"><feGaussianBlur stdDeviation="1.5"/></filter></defs><g clip-path="url(#pfc)"><g filter="url(#pff)"><g transform="translate(384.50 184.40) scale(3)"><path fill="#fafafa" d="M30 10h1.06v1.06h-1.06zM37 10h1.06v1.06h-1.06zM28 11h1.06v1.06h-1.06zM39 11h1.06v1.06h-1.06zM26 12h1.06v1.06h-1.06zM40 12h1.06v1.06h-1.06zM25 13h1.06v1.06h-1.06zM24 14h1.06v1.06h-1.06zM41 14h1.06v1.06h-1.06zM23 15h1.06v1.06h-1.06zM22 16h1.06v1.06h-1.06zM42 16h1.06v1.06h-1.06zM21 17h1.06v1.06h-1.06zM20 19h1.06v1.06h-1.06zM19 20h1.06v1.06h-1.06zM43 20h1.06v1.06h-1.06zM43 21h1.06v1.06h-1.06zM18 22h1.06v1.06h-1.06zM43 22h1.06v1.06h-1.06zM43 23h1.06v1.06h-1.06zM17 24h1.06v1.06h-1.06zM43 24h1.06v1.06h-1.06zM16 27h1.06v1.06h-1.06zM42 29h1.06v1.06h-1.06zM15 31h1.06v1.06h-1.06zM41 32h1.06v1.06h-1.06zM38 38h1.06v1.06h-1.06zM15 40h1.06v1.06h-1.06zM37 40h1.06v1.06h-1.06zM15 41h1.06v1.06h-1.06zM36 41h1.06v1.06h-1.06zM35 42h1.06v1.06h-1.06zM16 43h1.06v1.06h-1.06zM17 45h1.06v1.06h-1.06zM32 45h1.06v1.06h-1.06zM18 46h1.06v1.06h-1.06zM31 46h1.06v1.06h-1.06zM19 47h1.06v1.06h-1.06zM29 47h1.06v1.06h-1.06zM21 48h1.06v1.06h-1.06zM26 48h2.06v1.06h-2.06z"/><path fill="#f5f5f5" d="M31 10h2.06v1.06h-2.06zM35 10h2.06v1.06h-2.06zM29 11h1.06v1.06h-1.06zM38 11h1.06v1.06h-1.06zM27 12h1.06v1.06h-1.06zM39 12h1.06v1.06h-1.06zM40 13h1.06v1.06h-1.06zM42 17h1.06v1.06h-1.06zM21 18h1.06v1.06h-1.06zM19 21h1.06v1.06h-1.06zM18 23h1.06v1.06h-1.06zM17 25h1.06v1.06h-1.06zM42 27h1.06v1.06h-1.06zM16 28h1.06v1.06h-1.06zM42 28h1.06v1.06h-1.06zM41 31h1.06v1.06h-1.06zM15 32h1.06v1.06h-1.06zM15 33h1.06v1.06h-1.06zM15 34h1.06v1.06h-1.06zM40 34h1.06v1.06h-1.06zM39 36h1.06v1.06h-1.06zM15 38h1.06v1.06h-1.06zM15 39h1.06v1.06h-1.06zM37 39h1.06v1.06h-1.06zM16 42h1.06v1.06h-1.06zM34 43h1.06v1.06h-1.06zM17 44h1.06v1.06h-1.06zM33 44h1.06v1.06h-1.06zM30 46h1.06v1.06h-1.06zM20 47h1.06v1.06h-1.06zM28 47h1.06v1.06h-1.06zM22 48h4.06v1.06h-4.06z"/><path fill="#f0f0f0" d="M33 10h2.06v1.06h-2.06zM37 11h1.06v1.06h-1.06zM26 13h1.06v1.06h-1.06zM41 15h1.06v1.06h-1.06zM22 17h1.06v1.06h-1.06zM42 18h1.06v1.06h-1.06zM42 19h1.06v1.06h-1.06zM17 26h1.06v1.06h-1.06zM42 26h1.06v1.06h-1.06zM16 29h1.06v1.06h-1.06zM40 33h1.06v1.06h-1.06zM15 35h1.06v1.06h-1.06zM15 36h1.06v1.06h-1.06zM15 37h1.06v1.06h-1.06zM38 37h1.06v1.06h-1.06zM36 40h1.06v1.06h-1.06zM18 45h1.06v1.06h-1.06zM31 45h1.06v1.06h-1.06zM19 46h1.06v1.06h-1.06z"/><path fill="#ebebeb" d="M30 11h1.06v1.06h-1.06zM28 12h1.06v1.06h-1.06zM25 14h1.06v1.06h-1.06zM40 14h1.06v1.06h-1.06zM24 15h1.06v1.06h-1.06zM23 16h1.06v1.06h-1.06zM41 16h1.06v1.06h-1.06zM20 20h1.06v1.06h-1.06zM42 20h1.06v1.06h-1.06zM42 21h1.06v1.06h-1.06zM19 22h1.06v1.06h-1.06zM18 24h1.06v1.06h-1.06zM42 24h1.06v1.06h-1.06zM42 25h1.06v1.06h-1.06zM16 30h1.06v1.06h-1.06zM41 30h1.06v1.06h-1.06zM39 35h1.06v1.06h-1.06zM16 41h1.06v1.06h-1.06zM35 41h1.06v1.06h-1.06zM32 44h1.06v1.06h-1.06zM29 46h1.06v1.06h-1.06zM21 47h1.06v1.06h-1.06zM27 47h1.06v1.06h-1.06z"/><path fill="#e6e6e6" d="M31 11h1.06v1.06h-1.06zM36 11h1.06v1.06h-1.06zM38 12h1.06v1.06h-1.06zM39 13h1.06v1.06h-1.06zM21 19h1.06v1.06h-1.06zM42 22h1.06v1.06h-1.06zM42 23h1.06v1.06h-1.06zM17 27h1.06v1.06h-1.06zM41 29h1.06v1.06h-1.06zM40 32h1.06v1.06h-1.06zM37 38h1.06v1.06h-1.06zM16 40h1.06v1.06h-1.06zM34 42h1.06v1.06h-1.06zM17 43h1.06v1.06h-1.06zM33 43h1.06v1.06h-1.06zM20 46h1.06v1.06h-1.06zM22 47h1.06v1.06h-1.06zM26 47h1.06v1.06h-1.06z"/><path fill="#e1e1e1" d="M32 11h4.06v1.06h-4.06zM29 12h1.06v1.06h-1.06zM27 13h1.06v1.06h-1.06zM40 15h1.06v1.06h-1.06zM41 17h1.06v1.06h-1.06zM22 18h1.06v1.06h-1.06zM41 28h1.06v1.06h-1.06zM16 31h1.06v1.06h-1.06zM39 34h1.06v1.06h-1.06zM38 36h1.06v1.06h-1.06zM18 44h1.06v1.06h-1.06zM19 45h1.06v1.06h-1.06zM30 45h1.06v1.06h-1.06zM23 47h3.06v1.06h-3.06z"/><path fill="#dcdcdc" d="M37 12h1.06v1.06h-1.06zM26 14h1.06v1.06h-1.06zM25 15h1.06v1.06h-1.06zM23 17h1.06v1.06h-1.06zM41 18h1.06v1.06h-1.06zM20 21h1.06v1.06h-1.06zM19 23h1.06v1.06h-1.06zM18 25h1.06v1.06h-1.06zM17 28h1.06v1.06h-1.06zM40 31h1.06v1.06h-1.06zM16 32h1.06v1.06h-1.06zM16 39h1.06v1.06h-1.06zM36 39h1.06v1.06h-1.06zM17 42h1.06v1.06h-1.06zM28 46h1.06v1.06h-1.06z"/><path fill="#d7d7d7" d="M30 12h1.06v1.06h-1.06zM28 13h1.06v1.06h-1.06zM38 13h1.06v1.06h-1.06zM39 14h1.06v1.06h-1.06zM24 16h1.06v1.06h-1.06zM40 16h1.06v1.06h-1.06zM41 19h1.06v1.06h-1.06zM41 27h1.06v1.06h-1.06zM16 33h1.06v1.06h-1.06zM16 34h1.06v1.06h-1.06zM37 37h1.06v1.06h-1.06zM16 38h1.06v1.06h-1.06zM35 40h1.06v1.06h-1.06zM31 44h1.06v1.06h-1.06zM21 46h1.06v1.06h-1.06z"/><path fill="#d2d2d2" d="M36 12h1.06v1.06h-1.06zM21 20h1.06v1.06h-1.06zM41 20h1.06v1.06h-1.06zM41 25h1.06v1.06h-1.06zM18 26h1.06v1.06h-1.06zM41 26h1.06v1.06h-1.06zM17 29h1.06v1.06h-1.06zM40 30h1.06v1.06h-1.06zM39 33h1.06v1.06h-1.06zM16 35h1.06v1.06h-1.06zM38 35h1.06v1.06h-1.06zM16 36h1.06v1.06h-1.06zM16 37h1.06v1.06h-1.06zM34 41h1.06v1.06h-1.06zM33 42h1.06v1.06h-1.06zM32 43h1.06v1.06h-1.06zM29 45h1.06v1.06h-1.06zM27 46h1.06v1.06h-1.06z"/><path fill="#cdcdcd" d="M31 12h1.06v1.06h-1.06zM35 12h1.06v1.06h-1.06zM37 13h1.06v1.06h-1.06zM27 14h1.06v1.06h-1.06zM39 15h1.06v1.06h-1.06zM22 19h1.06v1.06h-1.06zM41 21h1.06v1.06h-1.06zM20 22h1.06v1.06h-1.06zM41 22h1.06v1.06h-1.06zM41 23h1.06v1.06h-1.06zM19 24h1.06v1.06h-1.06zM41 24h1.06v1.06h-1.06zM36 38h1.06v1.06h-1.06zM17 41h1.06v1.06h-1.06zM18 43h1.06v1.06h-1.06zM20 45h1.06v1.06h-1.06zM22 46h1.06v1.06h-1.06zM26 46h1.06v1.06h-1.06z"/><path fill="#c8c8c8" d="M32 12h3.06v1.06h-3.06zM29 13h1.06v1.06h-1.06zM38 14h1.06v1.06h-1.06zM26 15h1.06v1.06h-1.06zM40 17h1.06v1.06h-1.06zM23 18h1.06v1.06h-1.06zM18 27h1.06v1.06h-1.06zM40 29h1.06v1.06h-1.06zM17 30h1.06v1.06h-1.06zM39 32h1.06v1.06h-1.06zM19 44h1.06v1.06h-1.06zM23 46h1.06v1.06h-1.06zM25 46h1.06v1.06h-1.06z"/><path fill="#c3c3c3" d="M25 16h1.06v1.06h-1.06zM24 17h1.06v1.06h-1.06zM40 18h1.06v1.06h-1.06zM21 21h1.06v1.06h-1.06zM40 28h1.06v1.06h-1.06zM38 34h1.06v1.06h-1.06zM37 36h1.06v1.06h-1.06zM35 39h1.06v1.06h-1.06zM17 40h1.06v1.06h-1.06zM30 44h1.06v1.06h-1.06zM28 45h1.06v1.06h-1.06zM24 46h1.06v1.06h-1.06z"/><path fill="#bebebe" d="M30 13h1.06v1.06h-1.06zM36 13h1.06v1.06h-1.06zM28 14h1.06v1.06h-1.06zM39 16h1.06v1.06h-1.06zM20 23h1.06v1.06h-1.06zM19 25h1.06v1.06h-1.06zM17 31h1.06v1.06h-1.06zM39 31h1.06v1.06h-1.06zM34 40h1.06v1.06h-1.06zM18 42h1.06v1.06h-1.06zM31 43h1.06v1.06h-1.06zM21 45h1.06v1.06h-1.06z"/><path fill="#b9b9b9" d="M31 13h1.06v1.06h-1.06zM35 13h1.06v1.06h-1.06zM37 14h1.06v1.06h-1.06zM27 15h1.06v1.06h-1.06zM38 15h1.06v1.06h-1.06zM40 19h1.06v1.06h-1.06zM22 20h1.06v1.06h-1.06zM40 26h1.06v1.06h-1.06zM40 27h1.06v1.06h-1.06zM18 28h1.06v1.06h-1.06zM17 32h1.06v1.06h-1.06zM38 33h1.06v1.06h-1.06zM36 37h1.06v1.06h-1.06zM17 39h1.06v1.06h-1.06zM33 41h1.06v1.06h-1.06zM32 42h1.06v1.06h-1.06z"/><path fill="#b4b4b4" d="M32 13h1.06v1.06h-1.06zM34 13h1.06v1.06h-1.06zM29 14h1.06v1.06h-1.06zM26 16h1.06v1.06h-1.06zM25 17h1.06v1.06h-1.06zM39 17h1.06v1.06h-1.06zM24 18h1.06v1.06h-1.06zM23 19h1.06v1.06h-1.06zM40 20h1.06v1.06h-1.06zM40 21h1.06v1.06h-1.06zM21 22h1.06v1.06h-1.06zM40 25h1.06v1.06h-1.06zM19 26h1.06v1.06h-1.06zM39 30h1.06v1.06h-1.06zM37 35h1.06v1.06h-1.06zM19 43h1.06v1.06h-1.06zM20 44h1.06v1.06h-1.06zM29 44h1.06v1.06h-1.06zM27 45h1.06v1.06h-1.06z"/><path fill="#afafaf" d="M33 13h1.06v1.06h-1.06zM40 22h1.06v1.06h-1.06zM40 23h1.06v1.06h-1.06zM20 24h1.06v1.06h-1.06zM40 24h1.06v1.06h-1.06zM18 29h1.06v1.06h-1.06zM39 29h1.06v1.06h-1.06zM38 32h1.06v1.06h-1.06zM17 33h1.06v1.06h-1.06zM17 38h1.06v1.06h-1.06zM35 38h1.06v1.06h-1.06zM22 45h1.06v1.06h-1.06z"/><path fill="#aaaaaa" d="M30 14h1.06v1.06h-1.06zM36 14h1.06v1.06h-1.06zM28 15h1.06v1.06h-1.06zM38 16h1.06v1.06h-1.06zM39 18h1.06v1.06h-1.06zM22 21h1.06v1.06h-1.06zM21 23h1.06v1.06h-1.06zM39 28h1.06v1.06h-1.06zM17 34h1.06v1.06h-1.06zM37 34h1.06v1.06h-1.06zM17 35h1.06v1.06h-1.06zM17 36h1.06v1.06h-1.06zM36 36h1.06v1.06h-1.06zM17 37h1.06v1.06h-1.06zM34 39h1.06v1.06h-1.06zM18 41h1.06v1.06h-1.06zM30 43h1.06v1.06h-1.06zM26 45h1.06v1.06h-1.06z"/><path fill="#a5a5a5" d="M35 14h1.06v1.06h-1.06zM37 15h1.06v1.06h-1.06zM27 16h1.06v1.06h-1.06zM26 17h1.06v1.06h-1.06zM25 18h1.06v1.06h-1.06zM24 19h1.06v1.06h-1.06zM23 20h1.06v1.06h-1.06zM20 25h1.06v1.06h-1.06zM19 27h1.06v1.06h-1.06zM39 27h1.06v1.06h-1.06zM18 30h1.06v1.06h-1.06zM38 31h1.06v1.06h-1.06zM33 40h1.06v1.06h-1.06zM31 42h1.06v1.06h-1.06zM23 45h3.06v1.06h-3.06z"/><path fill="#a0a0a0" d="M31 14h2.06v1.06h-2.06zM34 14h1.06v1.06h-1.06zM29 15h1.06v1.06h-1.06zM38 17h1.06v1.06h-1.06zM39 19h1.06v1.06h-1.06zM24 20h1.06v1.06h-1.06zM39 20h1.06v1.06h-1.06zM23 21h1.06v1.06h-1.06zM22 22h1.06v1.06h-1.06zM21 24h1.06v1.06h-1.06zM39 25h1.06v1.06h-1.06zM39 26h1.06v1.06h-1.06zM38 28h1.06v1.06h-1.06zM38 29h1.06v1.06h-1.06zM38 30h1.06v1.06h-1.06zM37 31h1.06v1.06h-1.06zM37 32h1.06v1.06h-1.06zM37 33h1.06v1.06h-1.06zM36 35h1.06v1.06h-1.06zM35 37h1.06v1.06h-1.06zM32 41h1.06v1.06h-1.06zM21 44h1.06v1.06h-1.06zM28 44h1.06v1.06h-1.06z"/><path fill="#9b9b9b" d="M33 14h1.06v1.06h-1.06zM36 15h1.06v1.06h-1.06zM28 16h1.06v1.06h-1.06zM37 16h1.06v1.06h-1.06zM27 17h1.06v1.06h-1.06zM26 18h2.06v1.06h-2.06zM25 19h2.06v1.06h-2.06zM25 20h2.06v1.06h-2.06zM24 21h3.06v1.06h-3.06zM39 21h1.06v1.06h-1.06zM23 22h3.06v1.06h-3.06zM39 22h1.06v1.06h-1.06zM22 23h4.06v1.06h-4.06zM39 23h1.06v1.06h-1.06zM22 24h2.06v1.06h-2.06zM39 24h1.06v1.06h-1.06zM21 25h1.06v1.06h-1.06zM38 25h1.06v1.06h-1.06zM20 26h1.06v1.06h-1.06zM37 26h2.06v1.06h-2.06zM36 27h3.06v1.06h-3.06zM19 28h1.06v1.06h-1.06zM35 28h3.06v1.06h-3.06zM35 29h3.06v1.06h-3.06zM35 30h3.06v1.06h-3.06zM18 31h1.06v1.06h-1.06zM35 31h2.06v1.06h-2.06zM36 32h1.06v1.06h-1.06zM36 33h1.06v1.06h-1.06zM36 34h1.06v1.06h-1.06zM35 36h1.06v1.06h-1.06zM34 38h1.06v1.06h-1.06zM18 40h1.06v1.06h-1.06zM19 42h1.06v1.06h-1.06z"/><path fill="#969696" d="M30 15h1.06v1.06h-1.06zM29 16h1.06v1.06h-1.06zM28 17h2.06v1.06h-2.06zM28 18h1.06v1.06h-1.06zM38 18h1.06v1.06h-1.06zM27 19h2.06v1.06h-2.06zM27 20h2.06v1.06h-2.06zM27 21h2.06v1.06h-2.06zM26 22h3.06v1.06h-3.06zM38 22h1.06v1.06h-1.06zM26 23h2.06v1.06h-2.06zM37 23h2.06v1.06h-2.06zM24 24h3.06v1.06h-3.06zM36 24h3.06v1.06h-3.06zM22 25h3.06v1.06h-3.06zM35 25h3.06v1.06h-3.06zM21 26h1.06v1.06h-1.06zM34 26h3.06v1.06h-3.06zM20 27h1.06v1.06h-1.06zM34 27h2.06v1.06h-2.06zM34 28h1.06v1.06h-1.06zM34 29h1.06v1.06h-1.06zM34 30h1.06v1.06h-1.06zM34 31h1.06v1.06h-1.06zM35 32h1.06v1.06h-1.06zM35 33h1.06v1.06h-1.06zM35 34h1.06v1.06h-1.06zM35 35h1.06v1.06h-1.06zM20 43h1.06v1.06h-1.06zM29 43h1.06v1.06h-1.06z"/><path fill="#919191" d="M31 15h5.06v1.06h-5.06zM30 16h2.06v1.06h-2.06zM36 16h1.06v1.06h-1.06zM30 17h1.06v1.06h-1.06zM37 17h1.06v1.06h-1.06zM29 18h2.06v1.06h-2.06zM29 19h1.06v1.06h-1.06zM38 19h1.06v1.06h-1.06zM29 20h1.06v1.06h-1.06zM38 20h1.06v1.06h-1.06zM29 21h1.06v1.06h-1.06zM37 21h2.06v1.06h-2.06zM29 22h2.06v1.06h-2.06zM36 22h2.06v1.06h-2.06zM28 23h3.06v1.06h-3.06zM35 23h2.06v1.06h-2.06zM27 24h9.06v1.06h-9.06zM25 25h10.06v1.06h-10.06zM22 26h2.06v1.06h-2.06zM31 26h3.06v1.06h-3.06zM21 27h1.06v1.06h-1.06zM32 27h2.06v1.06h-2.06zM32 28h2.06v1.06h-2.06zM19 29h1.06v1.06h-1.06zM33 29h1.06v1.06h-1.06zM33 30h1.06v1.06h-1.06zM18 32h1.06v1.06h-1.06zM34 32h1.06v1.06h-1.06zM34 33h1.06v1.06h-1.06zM34 34h1.06v1.06h-1.06zM34 35h1.06v1.06h-1.06zM34 36h1.06v1.06h-1.06zM34 37h1.06v1.06h-1.06zM33 39h1.06v1.06h-1.06zM27 44h1.06v1.06h-1.06z"/><path fill="#8c8c8c" d="M32 16h4.06v1.06h-4.06zM31 17h2.06v1.06h-2.06zM36 17h1.06v1.06h-1.06zM31 18h1.06v1.06h-1.06zM36 18h2.06v1.06h-2.06zM30 19h2.06v1.06h-2.06zM36 19h2.06v1.06h-2.06zM30 20h2.06v1.06h-2.06zM36 20h2.06v1.06h-2.06zM30 21h3.06v1.06h-3.06zM35 21h2.06v1.06h-2.06zM31 22h5.06v1.06h-5.06zM31 23h4.06v1.06h-4.06zM24 26h7.06v1.06h-7.06zM22 27h1.06v1.06h-1.06zM30 27h2.06v1.06h-2.06zM20 28h1.06v1.06h-1.06zM31 28h1.06v1.06h-1.06zM32 29h1.06v1.06h-1.06zM32 30h1.06v1.06h-1.06zM33 31h1.06v1.06h-1.06zM33 32h1.06v1.06h-1.06zM33 33h1.06v1.06h-1.06zM33 37h1.06v1.06h-1.06zM33 38h1.06v1.06h-1.06zM18 39h1.06v1.06h-1.06zM32 40h1.06v1.06h-1.06zM31 41h1.06v1.06h-1.06zM30 42h1.06v1.06h-1.06zM22 44h1.06v1.06h-1.06z"/><path fill="#878787" d="M33 17h3.06v1.06h-3.06zM32 18h4.06v1.06h-4.06zM32 19h4.06v1.06h-4.06zM32 20h4.06v1.06h-4.06zM33 21h2.06v1.06h-2.06zM23 27h2.06v1.06h-2.06zM28 27h2.06v1.06h-2.06zM21 28h1.06v1.06h-1.06zM30 28h1.06v1.06h-1.06zM20 29h1.06v1.06h-1.06zM31 29h1.06v1.06h-1.06zM19 30h1.06v1.06h-1.06zM32 31h1.06v1.06h-1.06zM18 33h1.06v1.06h-1.06zM33 34h1.06v1.06h-1.06zM33 35h1.06v1.06h-1.06zM33 36h1.06v1.06h-1.06zM32 39h1.06v1.06h-1.06zM26 44h1.06v1.06h-1.06z"/><path fill="#828282" d="M25 27h3.06v1.06h-3.06zM22 28h1.06v1.06h-1.06zM29 28h1.06v1.06h-1.06zM30 29h1.06v1.06h-1.06zM31 30h1.06v1.06h-1.06zM32 32h1.06v1.06h-1.06zM32 33h1.06v1.06h-1.06zM18 34h1.06v1.06h-1.06zM18 38h1.06v1.06h-1.06zM32 38h1.06v1.06h-1.06zM19 41h1.06v1.06h-1.06zM28 43h1.06v1.06h-1.06zM23 44h1.06v1.06h-1.06zM25 44h1.06v1.06h-1.06z"/><path fill="#7d7d7d" d="M23 28h2.06v1.06h-2.06zM28 28h1.06v1.06h-1.06zM21 29h1.06v1.06h-1.06zM20 30h1.06v1.06h-1.06zM19 31h1.06v1.06h-1.06zM31 31h1.06v1.06h-1.06zM32 34h1.06v1.06h-1.06zM18 35h1.06v1.06h-1.06zM32 35h1.06v1.06h-1.06zM32 36h1.06v1.06h-1.06zM18 37h1.06v1.06h-1.06zM32 37h1.06v1.06h-1.06zM31 40h1.06v1.06h-1.06zM21 43h1.06v1.06h-1.06zM24 44h1.06v1.06h-1.06z"/><path fill="#787878" d="M25 28h3.06v1.06h-3.06zM22 29h1.06v1.06h-1.06zM29 29h1.06v1.06h-1.06zM30 30h1.06v1.06h-1.06zM31 32h1.06v1.06h-1.06zM18 36h1.06v1.06h-1.06zM31 39h1.06v1.06h-1.06zM30 41h1.06v1.06h-1.06zM20 42h1.06v1.06h-1.06zM29 42h1.06v1.06h-1.06z"/><path fill="#737373" d="M23 29h1.06v1.06h-1.06zM28 29h1.06v1.06h-1.06zM21 30h1.06v1.06h-1.06zM20 31h1.06v1.06h-1.06zM30 31h1.06v1.06h-1.06zM19 32h1.06v1.06h-1.06zM31 33h1.06v1.06h-1.06zM31 38h1.06v1.06h-1.06zM27 43h1.06v1.06h-1.06z"/><path fill="#6e6e6e" d="M24 29h1.06v1.06h-1.06zM26 29h2.06v1.06h-2.06zM29 30h1.06v1.06h-1.06zM31 34h1.06v1.06h-1.06zM31 35h1.06v1.06h-1.06zM31 36h1.06v1.06h-1.06zM31 37h1.06v1.06h-1.06zM19 40h1.06v1.06h-1.06zM30 40h1.06v1.06h-1.06z"/><path fill="#696969" d="M25 29h1.06v1.06h-1.06zM22 30h1.06v1.06h-1.06zM28 30h1.06v1.06h-1.06zM21 31h1.06v1.06h-1.06zM20 32h1.06v1.06h-1.06zM30 32h1.06v1.06h-1.06zM19 33h1.06v1.06h-1.06zM30 39h1.06v1.06h-1.06zM29 41h1.06v1.06h-1.06zM28 42h1.06v1.06h-1.06zM22 43h1.06v1.06h-1.06z"/><path fill="#646464" d="M23 30h1.06v1.06h-1.06zM29 31h1.06v1.06h-1.06zM30 33h1.06v1.06h-1.06zM19 34h1.06v1.06h-1.06zM30 38h1.06v1.06h-1.06zM26 43h1.06v1.06h-1.06z"/><path fill="#5f5f5f" d="M24 30h1.06v1.06h-1.06zM27 30h1.06v1.06h-1.06zM30 34h1.06v1.06h-1.06zM30 37h1.06v1.06h-1.06zM19 39h1.06v1.06h-1.06zM29 40h1.06v1.06h-1.06zM20 41h1.06v1.06h-1.06zM21 42h1.06v1.06h-1.06zM23 43h1.06v1.06h-1.06zM25 43h1.06v1.06h-1.06z"/><path fill="#5a5a5a" d="M25 30h2.06v1.06h-2.06zM22 31h1.06v1.06h-1.06zM28 31h1.06v1.06h-1.06zM21 32h1.06v1.06h-1.06zM29 32h1.06v1.06h-1.06zM20 33h1.06v1.06h-1.06zM19 35h1.06v1.06h-1.06zM30 35h1.06v1.06h-1.06zM30 36h1.06v1.06h-1.06zM28 41h1.06v1.06h-1.06zM27 42h1.06v1.06h-1.06zM24 43h1.06v1.06h-1.06z"/><path fill="#555555" d="M29 33h1.06v1.06h-1.06zM19 36h1.06v1.06h-1.06zM19 37h1.06v1.06h-1.06zM19 38h1.06v1.06h-1.06zM29 39h1.06v1.06h-1.06z"/><path fill="#505050" d="M23 31h1.06v1.06h-1.06zM27 31h1.06v1.06h-1.06zM28 32h1.06v1.06h-1.06zM20 34h1.06v1.06h-1.06zM29 38h1.06v1.06h-1.06zM28 40h1.06v1.06h-1.06zM26 42h1.06v1.06h-1.06z"/><path fill="#4b4b4b" d="M24 31h3.06v1.06h-3.06zM22 32h1.06v1.06h-1.06zM21 33h1.06v1.06h-1.06zM29 34h1.06v1.06h-1.06zM20 40h1.06v1.06h-1.06zM27 41h1.06v1.06h-1.06zM22 42h1.06v1.06h-1.06z"/><path fill="#464646" d="M20 35h1.06v1.06h-1.06zM29 35h1.06v1.06h-1.06zM29 36h1.06v1.06h-1.06zM29 37h1.06v1.06h-1.06zM21 41h1.06v1.06h-1.06zM23 42h1.06v1.06h-1.06zM25 42h1.06v1.06h-1.06z"/><path fill="#414141" d="M23 32h1.06v1.06h-1.06zM27 32h1.06v1.06h-1.06zM28 33h1.06v1.06h-1.06zM20 36h1.06v1.06h-1.06zM20 39h1.06v1.06h-1.06zM28 39h1.06v1.06h-1.06zM26 41h1.06v1.06h-1.06zM24 42h1.06v1.06h-1.06z"/><path fill="#3c3c3c" d="M26 32h1.06v1.06h-1.06zM22 33h1.06v1.06h-1.06zM21 34h1.06v1.06h-1.06zM20 37h1.06v1.06h-1.06zM20 38h1.06v1.06h-1.06zM27 40h1.06v1.06h-1.06z"/><path fill="#373737" d="M24 32h2.06v1.06h-2.06zM27 33h1.06v1.06h-1.06zM28 34h1.06v1.06h-1.06zM28 38h1.06v1.06h-1.06zM21 40h1.06v1.06h-1.06zM22 41h1.06v1.06h-1.06zM25 41h1.06v1.06h-1.06z"/><path fill="#323232" d="M21 35h1.06v1.06h-1.06zM28 35h1.06v1.06h-1.06zM28 36h1.06v1.06h-1.06zM28 37h1.06v1.06h-1.06zM27 39h1.06v1.06h-1.06zM23 41h2.06v1.06h-2.06z"/><path fill="#2d2d2d" d="M23 33h1.06v1.06h-1.06zM26 33h1.06v1.06h-1.06zM22 34h1.06v1.06h-1.06zM21 39h1.06v1.06h-1.06zM26 40h1.06v1.06h-1.06z"/><path fill="#282828" d="M24 33h2.06v1.06h-2.06zM27 34h1.06v1.06h-1.06zM21 36h1.06v1.06h-1.06zM21 37h1.06v1.06h-1.06zM21 38h1.06v1.06h-1.06zM22 40h1.06v1.06h-1.06z"/><path fill="#232323" d="M27 35h1.06v1.06h-1.06zM27 38h1.06v1.06h-1.06zM23 40h1.06v1.06h-1.06zM25 40h1.06v1.06h-1.06z"/><path fill="#1e1e1e" d="M23 34h1.06v1.06h-1.06zM26 34h1.06v1.06h-1.06zM22 35h1.06v1.06h-1.06zM27 36h1.06v1.06h-1.06zM27 37h1.06v1.06h-1.06zM22 39h1.06v1.06h-1.06zM26 39h1.06v1.06h-1.06zM24 40h1.06v1.06h-1.06z"/><path fill="#191919" d="M24 34h2.06v1.06h-2.06zM22 36h1.06v1.06h-1.06zM22 38h1.06v1.06h-1.06z"/><path fill="#141414" d="M23 35h4.06v1.06h-4.06zM23 36h4.06v1.06h-4.06zM22 37h5.06v1.06h-5.06zM23 38h4.06v1.06h-4.06zM23 39h3.06v1.06h-3.06z"/></g></g></g><defs><clipPath id="pgc"><rect x="63.00" y="354.50" width="163.80" height="163.90"/></clipPath></defs><g clip-path="url(#pgc)"><g><g transform="translate(101.73 235.72) rotate(30) scale(9.5 10.5)"><path fill="#f5f5f5" d="M0 0h9.06v1.06h-9.06zM22 0h6.06v1.06h-6.06zM0 1h8.06v1.06h-8.06zM24 1h4.06v1.06h-4.06zM0 2h7.06v1.06h-7.06zM25 2h3.06v1.06h-3.06zM0 3h6.06v1.06h-6.06zM26 3h2.06v1.06h-2.06zM0 4h5.06v1.06h-5.06zM26 4h2.06v1.06h-2.06zM0 5h5.06v1.06h-5.06zM27 5h1.06v1.06h-1.06zM0 6h4.06v1.06h-4.06zM0 7h4.06v1.06h-4.06zM0 8h3.06v1.06h-3.06zM0 9h3.06v1.06h-3.06zM0 10h3.06v1.06h-3.06zM0 11h3.06v1.06h-3.06zM0 12h2.06v1.06h-2.06zM0 13h2.06v1.06h-2.06zM0 14h2.06v1.06h-2.06zM0 15h2.06v1.06h-2.06zM0 16h2.06v1.06h-2.06zM0 17h3.06v1.06h-3.06zM0 18h3.06v1.06h-3.06zM0 19h3.06v1.06h-3.06zM0 20h3.06v1.06h-3.06zM0 21h4.06v1.06h-4.06zM0 22h4.06v1.06h-4.06zM0 23h5.06v1.06h-5.06zM27 23h1.06v1.06h-1.06zM0 24h5.06v1.06h-5.06zM26 24h2.06v1.06h-2.06zM0 25h6.06v1.06h-6.06zM26 25h2.06v1.06h-2.06zM0 26h7.06v1.06h-7.06zM25 26h3.06v1.06h-3.06zM0 27h8.06v1.06h-8.06zM24 27h4.06v1.06h-4.06z"/><path fill="#f0f0f0" d="M9 0h13.06v1.06h-13.06zM8 1h4.06v1.06h-4.06zM18 1h6.06v1.06h-6.06zM7 2h3.06v1.06h-3.06zM20 2h5.06v1.06h-5.06zM6 3h3.06v1.06h-3.06zM22 3h4.06v1.06h-4.06zM5 4h3.06v1.06h-3.06zM23 4h3.06v1.06h-3.06zM5 5h2.06v1.06h-2.06zM24 5h3.06v1.06h-3.06zM4 6h3.06v1.06h-3.06zM24 6h4.06v1.06h-4.06zM4 7h2.06v1.06h-2.06zM25 7h3.06v1.06h-3.06zM3 8h3.06v1.06h-3.06zM25 8h3.06v1.06h-3.06zM3 9h2.06v1.06h-2.06zM26 9h2.06v1.06h-2.06zM3 10h2.06v1.06h-2.06zM26 10h2.06v1.06h-2.06zM3 11h2.06v1.06h-2.06zM27 11h1.06v1.06h-1.06zM2 12h3.06v1.06h-3.06zM27 12h1.06v1.06h-1.06zM2 13h3.06v1.06h-3.06zM27 13h1.06v1.06h-1.06zM2 14h3.06v1.06h-3.06zM27 14h1.06v1.06h-1.06zM2 15h3.06v1.06h-3.06zM27 15h1.06v1.06h-1.06zM2 16h3.06v1.06h-3.06zM27 16h1.06v1.06h-1.06zM3 17h2.06v1.06h-2.06zM27 17h1.06v1.06h-1.06zM3 18h2.06v1.06h-2.06zM26 18h2.06v1.06h-2.06zM3 19h2.06v1.06h-2.06zM26 19h2.06v1.06h-2.06zM3 20h3.06v1.06h-3.06zM25 20h3.06v1.06h-3.06zM4 21h2.06v1.06h-2.06zM25 21h3.06v1.06h-3.06zM4 22h3.06v1.06h-3.06zM24 22h4.06v1.06h-4.06zM5 23h2.06v1.06h-2.06zM24 23h3.06v1.06h-3.06zM5 24h3.06v1.06h-3.06zM23 24h3.06v1.06h-3.06zM6 25h3.06v1.06h-3.06zM21 25h5.06v1.06h-5.06zM7 26h4.06v1.06h-4.06zM20 26h5.06v1.06h-5.06zM8 27h5.06v1.06h-5.06zM17 27h7.06v1.06h-7.06z"/><path fill="#ebebeb" d="M12 1h6.06v1.06h-6.06zM10 2h3.06v1.06h-3.06zM17 2h3.06v1.06h-3.06zM9 3h2.06v1.06h-2.06zM19 3h3.06v1.06h-3.06zM8 4h1.06v1.06h-1.06zM21 4h2.06v1.06h-2.06zM7 5h1.06v1.06h-1.06zM22 5h2.06v1.06h-2.06zM7 6h1.06v1.06h-1.06zM23 6h1.06v1.06h-1.06zM6 7h1.06v1.06h-1.06zM23 7h2.06v1.06h-2.06zM6 8h1.06v1.06h-1.06zM24 8h1.06v1.06h-1.06zM5 9h1.06v1.06h-1.06zM24 9h2.06v1.06h-2.06zM5 10h1.06v1.06h-1.06zM25 10h1.06v1.06h-1.06zM5 11h1.06v1.06h-1.06zM25 11h2.06v1.06h-2.06zM5 12h1.06v1.06h-1.06zM26 12h1.06v1.06h-1.06zM5 13h1.06v1.06h-1.06zM26 13h1.06v1.06h-1.06zM5 14h1.06v1.06h-1.06zM26 14h1.06v1.06h-1.06zM5 15h1.06v1.06h-1.06zM26 15h1.06v1.06h-1.06zM5 16h1.06v1.06h-1.06zM26 16h1.06v1.06h-1.06zM5 17h1.06v1.06h-1.06zM26 17h1.06v1.06h-1.06zM5 18h1.06v1.06h-1.06zM25 18h1.06v1.06h-1.06zM5 19h1.06v1.06h-1.06zM24 19h2.06v1.06h-2.06zM6 20h1.06v1.06h-1.06zM24 20h1.06v1.06h-1.06zM6 21h1.06v1.06h-1.06zM23 21h2.06v1.06h-2.06zM7 22h1.06v1.06h-1.06zM22 22h2.06v1.06h-2.06zM7 23h2.06v1.06h-2.06zM22 23h2.06v1.06h-2.06zM8 24h2.06v1.06h-2.06zM20 24h3.06v1.06h-3.06zM9 25h2.06v1.06h-2.06zM19 25h2.06v1.06h-2.06zM11 26h9.06v1.06h-9.06zM13 27h4.06v1.06h-4.06z"/><path fill="#e6e6e6" d="M13 2h4.06v1.06h-4.06zM11 3h1.06v1.06h-1.06zM18 3h1.06v1.06h-1.06zM9 4h2.06v1.06h-2.06zM19 4h2.06v1.06h-2.06zM8 5h1.06v1.06h-1.06zM21 5h1.06v1.06h-1.06zM8 6h1.06v1.06h-1.06zM22 6h1.06v1.06h-1.06zM7 7h1.06v1.06h-1.06zM22 7h1.06v1.06h-1.06zM23 8h1.06v1.06h-1.06zM6 9h1.06v1.06h-1.06zM23 9h1.06v1.06h-1.06zM6 10h1.06v1.06h-1.06zM24 10h1.06v1.06h-1.06zM6 11h1.06v1.06h-1.06zM25 12h1.06v1.06h-1.06zM25 16h1.06v1.06h-1.06zM6 17h1.06v1.06h-1.06zM25 17h1.06v1.06h-1.06zM6 18h1.06v1.06h-1.06zM24 18h1.06v1.06h-1.06zM6 19h1.06v1.06h-1.06zM23 19h1.06v1.06h-1.06zM7 20h1.06v1.06h-1.06zM23 20h1.06v1.06h-1.06zM7 21h1.06v1.06h-1.06zM22 21h1.06v1.06h-1.06zM8 22h1.06v1.06h-1.06zM21 22h1.06v1.06h-1.06zM9 23h1.06v1.06h-1.06zM20 23h2.06v1.06h-2.06zM10 24h1.06v1.06h-1.06zM19 24h1.06v1.06h-1.06zM11 25h3.06v1.06h-3.06zM16 25h3.06v1.06h-3.06z"/><path fill="#e1e1e1" d="M12 3h6.06v1.06h-6.06zM11 4h1.06v1.06h-1.06zM18 4h1.06v1.06h-1.06zM9 5h1.06v1.06h-1.06zM20 5h1.06v1.06h-1.06zM21 6h1.06v1.06h-1.06zM8 7h1.06v1.06h-1.06zM21 7h1.06v1.06h-1.06zM7 8h1.06v1.06h-1.06zM22 8h1.06v1.06h-1.06zM7 9h1.06v1.06h-1.06zM23 10h1.06v1.06h-1.06zM24 11h1.06v1.06h-1.06zM6 12h1.06v1.06h-1.06zM6 13h1.06v1.06h-1.06zM25 13h1.06v1.06h-1.06zM6 14h1.06v1.06h-1.06zM25 14h1.06v1.06h-1.06zM6 15h1.06v1.06h-1.06zM25 15h1.06v1.06h-1.06zM6 16h1.06v1.06h-1.06zM24 17h1.06v1.06h-1.06zM23 18h1.06v1.06h-1.06zM7 19h1.06v1.06h-1.06zM22 19h1.06v1.06h-1.06zM22 20h1.06v1.06h-1.06zM8 21h1.06v1.06h-1.06zM21 21h1.06v1.06h-1.06zM9 22h1.06v1.06h-1.06zM20 22h1.06v1.06h-1.06zM10 23h1.06v1.06h-1.06zM19 23h1.06v1.06h-1.06zM11 24h2.06v1.06h-2.06zM17 24h2.06v1.06h-2.06zM14 25h2.06v1.06h-2.06z"/><path fill="#dcdcdc" d="M12 4h1.06v1.06h-1.06zM17 4h1.06v1.06h-1.06zM10 5h1.06v1.06h-1.06zM19 5h1.06v1.06h-1.06zM9 6h1.06v1.06h-1.06zM20 6h1.06v1.06h-1.06zM8 8h1.06v1.06h-1.06zM21 8h1.06v1.06h-1.06zM22 9h1.06v1.06h-1.06zM7 10h1.06v1.06h-1.06zM22 10h1.06v1.06h-1.06zM23 11h1.06v1.06h-1.06zM24 12h1.06v1.06h-1.06zM7 17h1.06v1.06h-1.06zM7 18h1.06v1.06h-1.06zM8 20h1.06v1.06h-1.06zM21 20h1.06v1.06h-1.06zM9 21h1.06v1.06h-1.06zM20 21h1.06v1.06h-1.06zM19 22h1.06v1.06h-1.06zM11 23h1.06v1.06h-1.06zM18 23h1.06v1.06h-1.06zM13 24h4.06v1.06h-4.06z"/><path fill="#d7d7d7" d="M13 4h4.06v1.06h-4.06zM11 5h1.06v1.06h-1.06zM18 5h1.06v1.06h-1.06zM10 6h1.06v1.06h-1.06zM19 6h1.06v1.06h-1.06zM9 7h1.06v1.06h-1.06zM20 7h1.06v1.06h-1.06zM21 9h1.06v1.06h-1.06zM7 11h1.06v1.06h-1.06zM7 12h1.06v1.06h-1.06zM7 13h1.06v1.06h-1.06zM7 14h1.06v1.06h-1.06zM7 15h1.06v1.06h-1.06zM7 16h1.06v1.06h-1.06zM23 17h1.06v1.06h-1.06zM22 18h1.06v1.06h-1.06zM8 19h1.06v1.06h-1.06zM21 19h1.06v1.06h-1.06zM10 22h1.06v1.06h-1.06zM12 23h1.06v1.06h-1.06zM17 23h1.06v1.06h-1.06z"/><path fill="#d2d2d2" d="M12 5h1.06v1.06h-1.06zM17 5h1.06v1.06h-1.06zM20 8h1.06v1.06h-1.06zM8 9h1.06v1.06h-1.06zM21 10h1.06v1.06h-1.06zM22 11h1.06v1.06h-1.06zM24 16h1.06v1.06h-1.06zM22 17h1.06v1.06h-1.06zM8 18h1.06v1.06h-1.06zM21 18h1.06v1.06h-1.06zM9 20h1.06v1.06h-1.06zM20 20h1.06v1.06h-1.06zM10 21h1.06v1.06h-1.06zM19 21h1.06v1.06h-1.06zM11 22h1.06v1.06h-1.06zM18 22h1.06v1.06h-1.06zM13 23h4.06v1.06h-4.06z"/><path fill="#cdcdcd" d="M13 5h1.06v1.06h-1.06zM16 5h1.06v1.06h-1.06zM11 6h1.06v1.06h-1.06zM18 6h1.06v1.06h-1.06zM19 7h1.06v1.06h-1.06zM9 8h1.06v1.06h-1.06zM8 10h1.06v1.06h-1.06zM21 11h1.06v1.06h-1.06zM23 12h1.06v1.06h-1.06zM24 13h1.06v1.06h-1.06zM8 17h1.06v1.06h-1.06zM21 17h1.06v1.06h-1.06zM20 19h1.06v1.06h-1.06zM12 22h1.06v1.06h-1.06zM17 22h1.06v1.06h-1.06z"/><path fill="#c8c8c8" d="M14 5h2.06v1.06h-2.06zM17 6h1.06v1.06h-1.06zM10 7h1.06v1.06h-1.06zM20 9h1.06v1.06h-1.06zM8 11h1.06v1.06h-1.06zM8 12h1.06v1.06h-1.06zM22 12h1.06v1.06h-1.06zM24 14h1.06v1.06h-1.06zM24 15h1.06v1.06h-1.06zM8 16h1.06v1.06h-1.06zM23 16h1.06v1.06h-1.06zM20 18h1.06v1.06h-1.06zM9 19h1.06v1.06h-1.06zM10 20h1.06v1.06h-1.06zM19 20h1.06v1.06h-1.06zM11 21h1.06v1.06h-1.06zM18 21h1.06v1.06h-1.06zM13 22h1.06v1.06h-1.06zM16 22h1.06v1.06h-1.06z"/><path fill="#c3c3c3" d="M12 6h1.06v1.06h-1.06zM18 7h1.06v1.06h-1.06zM19 8h1.06v1.06h-1.06zM9 9h1.06v1.06h-1.06zM20 10h1.06v1.06h-1.06zM21 12h1.06v1.06h-1.06zM8 13h1.06v1.06h-1.06zM8 14h1.06v1.06h-1.06zM8 15h1.06v1.06h-1.06zM21 16h2.06v1.06h-2.06zM9 18h1.06v1.06h-1.06zM14 22h2.06v1.06h-2.06z"/><path fill="#bebebe" d="M13 6h1.06v1.06h-1.06zM16 6h1.06v1.06h-1.06zM11 7h1.06v1.06h-1.06zM10 8h1.06v1.06h-1.06zM9 10h1.06v1.06h-1.06zM20 11h1.06v1.06h-1.06zM21 13h3.06v1.06h-3.06zM21 14h1.06v1.06h-1.06zM21 15h1.06v1.06h-1.06zM20 17h1.06v1.06h-1.06zM19 19h1.06v1.06h-1.06zM18 20h1.06v1.06h-1.06zM12 21h1.06v1.06h-1.06zM17 21h1.06v1.06h-1.06z"/><path fill="#b9b9b9" d="M14 6h2.06v1.06h-2.06zM17 7h1.06v1.06h-1.06zM18 8h1.06v1.06h-1.06zM19 9h1.06v1.06h-1.06zM20 12h1.06v1.06h-1.06zM22 15h2.06v1.06h-2.06zM20 16h1.06v1.06h-1.06zM9 17h1.06v1.06h-1.06zM10 19h1.06v1.06h-1.06zM11 20h1.06v1.06h-1.06zM16 21h1.06v1.06h-1.06z"/><path fill="#b4b4b4" d="M12 7h1.06v1.06h-1.06zM10 9h1.06v1.06h-1.06zM9 11h1.06v1.06h-1.06zM20 13h1.06v1.06h-1.06zM20 14h1.06v1.06h-1.06zM22 14h2.06v1.06h-2.06zM20 15h1.06v1.06h-1.06zM9 16h1.06v1.06h-1.06zM19 18h1.06v1.06h-1.06zM13 21h3.06v1.06h-3.06z"/><path fill="#afafaf" d="M16 7h1.06v1.06h-1.06zM11 8h1.06v1.06h-1.06zM19 10h1.06v1.06h-1.06zM9 12h1.06v1.06h-1.06zM9 13h1.06v1.06h-1.06zM9 15h1.06v1.06h-1.06zM19 17h1.06v1.06h-1.06zM10 18h1.06v1.06h-1.06zM18 19h1.06v1.06h-1.06zM17 20h1.06v1.06h-1.06z"/><path fill="#aaaaaa" d="M13 7h1.06v1.06h-1.06zM15 7h1.06v1.06h-1.06zM17 8h1.06v1.06h-1.06zM18 9h1.06v1.06h-1.06zM19 11h1.06v1.06h-1.06zM9 14h1.06v1.06h-1.06zM11 19h1.06v1.06h-1.06zM12 20h1.06v1.06h-1.06z"/><path fill="#a5a5a5" d="M14 7h1.06v1.06h-1.06zM10 10h1.06v1.06h-1.06zM19 12h1.06v1.06h-1.06zM19 16h1.06v1.06h-1.06zM10 17h1.06v1.06h-1.06zM18 18h1.06v1.06h-1.06zM13 20h1.06v1.06h-1.06zM16 20h1.06v1.06h-1.06z"/><path fill="#a0a0a0" d="M12 8h1.06v1.06h-1.06zM11 9h1.06v1.06h-1.06zM19 13h1.06v1.06h-1.06zM19 14h1.06v1.06h-1.06zM19 15h1.06v1.06h-1.06zM17 19h1.06v1.06h-1.06zM14 20h2.06v1.06h-2.06z"/><path fill="#9b9b9b" d="M16 8h1.06v1.06h-1.06zM18 10h1.06v1.06h-1.06zM10 11h1.06v1.06h-1.06zM10 16h1.06v1.06h-1.06zM11 18h1.06v1.06h-1.06zM12 19h1.06v1.06h-1.06z"/><path fill="#969696" d="M13 8h1.06v1.06h-1.06zM17 9h1.06v1.06h-1.06zM10 12h1.06v1.06h-1.06zM18 17h1.06v1.06h-1.06zM16 19h1.06v1.06h-1.06z"/><path fill="#919191" d="M14 8h2.06v1.06h-2.06zM11 10h1.06v1.06h-1.06zM18 11h1.06v1.06h-1.06zM10 13h1.06v1.06h-1.06zM10 14h1.06v1.06h-1.06zM10 15h1.06v1.06h-1.06zM17 18h1.06v1.06h-1.06z"/><path fill="#8c8c8c" d="M12 9h1.06v1.06h-1.06zM18 16h1.06v1.06h-1.06zM11 17h1.06v1.06h-1.06zM13 19h1.06v1.06h-1.06zM15 19h1.06v1.06h-1.06z"/><path fill="#878787" d="M16 9h1.06v1.06h-1.06zM17 10h1.06v1.06h-1.06zM18 12h1.06v1.06h-1.06zM18 15h1.06v1.06h-1.06zM12 18h1.06v1.06h-1.06zM14 19h1.06v1.06h-1.06z"/><path fill="#828282" d="M13 9h1.06v1.06h-1.06zM11 11h1.06v1.06h-1.06zM18 13h1.06v1.06h-1.06zM18 14h1.06v1.06h-1.06zM17 17h1.06v1.06h-1.06zM16 18h1.06v1.06h-1.06z"/><path fill="#7d7d7d" d="M14 9h2.06v1.06h-2.06zM12 10h1.06v1.06h-1.06zM11 16h1.06v1.06h-1.06z"/><path fill="#787878" d="M17 11h1.06v1.06h-1.06zM11 12h1.06v1.06h-1.06zM11 15h1.06v1.06h-1.06zM13 18h1.06v1.06h-1.06z"/><path fill="#737373" d="M16 10h1.06v1.06h-1.06zM11 13h1.06v1.06h-1.06zM11 14h1.06v1.06h-1.06zM17 16h1.06v1.06h-1.06zM12 17h1.06v1.06h-1.06zM14 18h2.06v1.06h-2.06z"/><path fill="#6e6e6e" d="M17 12h1.06v1.06h-1.06zM16 17h1.06v1.06h-1.06z"/><path fill="#696969" d="M13 10h1.06v1.06h-1.06zM15 10h1.06v1.06h-1.06zM12 11h1.06v1.06h-1.06zM17 13h1.06v1.06h-1.06zM17 15h1.06v1.06h-1.06z"/><path fill="#646464" d="M14 10h1.06v1.06h-1.06zM16 11h1.06v1.06h-1.06zM17 14h1.06v1.06h-1.06zM12 16h1.06v1.06h-1.06zM13 17h1.06v1.06h-1.06z"/><path fill="#5f5f5f" d="M12 12h1.06v1.06h-1.06zM16 16h1.06v1.06h-1.06zM14 17h2.06v1.06h-2.06z"/><path fill="#5a5a5a" d="M13 11h1.06v1.06h-1.06zM12 15h1.06v1.06h-1.06z"/><path fill="#555555" d="M15 11h1.06v1.06h-1.06zM16 12h1.06v1.06h-1.06zM12 13h1.06v1.06h-1.06zM12 14h1.06v1.06h-1.06zM16 15h1.06v1.06h-1.06zM13 16h1.06v1.06h-1.06z"/><path fill="#505050" d="M14 11h1.06v1.06h-1.06zM16 13h1.06v1.06h-1.06zM15 16h1.06v1.06h-1.06z"/><path fill="#4b4b4b" d="M13 12h1.06v1.06h-1.06zM16 14h1.06v1.06h-1.06zM14 16h1.06v1.06h-1.06z"/><path fill="#464646" d="M15 12h1.06v1.06h-1.06zM13 15h1.06v1.06h-1.06z"/><path fill="#414141" d="M14 12h1.06v1.06h-1.06zM13 13h1.06v1.06h-1.06zM13 14h1.06v1.06h-1.06zM15 15h1.06v1.06h-1.06z"/><path fill="#3c3c3c" d="M15 13h1.06v1.06h-1.06zM15 14h1.06v1.06h-1.06zM14 15h1.06v1.06h-1.06z"/><path fill="#373737" d="M14 13h1.06v1.06h-1.06zM14 14h1.06v1.06h-1.06z"/></g></g></g><defs><clipPath id="phc"><rect x="226.80" y="354.50" width="163.70" height="163.90"/></clipPath></defs><g clip-path="url(#phc)"><g><g transform="translate(265.48 235.72) rotate(30) scale(9.5 10.5)"><path fill="#e6e6e6" d="M9 7h1.06v1.06h-1.06zM19 7h1.06v1.06h-1.06zM9 21h1.06v1.06h-1.06zM19 21h1.06v1.06h-1.06z"/><path fill="#e1e1e1" d="M9 8h1.06v1.06h-1.06zM19 8h1.06v1.06h-1.06zM9 20h1.06v1.06h-1.06zM19 20h1.06v1.06h-1.06z"/><path fill="#dcdcdc" d="M10 7h1.06v1.06h-1.06zM18 7h1.06v1.06h-1.06zM10 21h1.06v1.06h-1.06zM18 21h1.06v1.06h-1.06z"/><path fill="#d7d7d7" d="M9 9h1.06v1.06h-1.06zM19 9h1.06v1.06h-1.06zM9 19h1.06v1.06h-1.06zM19 19h1.06v1.06h-1.06z"/><path fill="#d2d2d2" d="M10 8h1.06v1.06h-1.06zM18 8h1.06v1.06h-1.06zM9 10h1.06v1.06h-1.06zM19 10h1.06v1.06h-1.06zM9 18h1.06v1.06h-1.06zM19 18h1.06v1.06h-1.06zM10 20h1.06v1.06h-1.06zM18 20h1.06v1.06h-1.06z"/><path fill="#cdcdcd" d="M11 7h1.06v1.06h-1.06zM17 7h1.06v1.06h-1.06zM9 11h1.06v1.06h-1.06zM19 11h1.06v1.06h-1.06zM9 17h1.06v1.06h-1.06zM19 17h1.06v1.06h-1.06zM11 21h1.06v1.06h-1.06zM17 21h1.06v1.06h-1.06z"/><path fill="#c8c8c8" d="M10 9h1.06v1.06h-1.06zM18 9h1.06v1.06h-1.06zM9 12h1.06v1.06h-1.06zM19 12h1.06v1.06h-1.06zM9 16h1.06v1.06h-1.06zM19 16h1.06v1.06h-1.06zM10 19h1.06v1.06h-1.06zM18 19h1.06v1.06h-1.06z"/><path fill="#c3c3c3" d="M12 7h1.06v1.06h-1.06zM16 7h1.06v1.06h-1.06zM11 8h1.06v1.06h-1.06zM17 8h1.06v1.06h-1.06zM9 13h1.06v1.06h-1.06zM19 13h1.06v1.06h-1.06zM9 14h1.06v1.06h-1.06zM19 14h1.06v1.06h-1.06zM9 15h1.06v1.06h-1.06zM19 15h1.06v1.06h-1.06zM11 20h1.06v1.06h-1.06zM17 20h1.06v1.06h-1.06zM12 21h1.06v1.06h-1.06zM16 21h1.06v1.06h-1.06z"/><path fill="#b9b9b9" d="M13 7h3.06v1.06h-3.06zM10 10h1.06v1.06h-1.06zM18 10h1.06v1.06h-1.06zM10 18h1.06v1.06h-1.06zM18 18h1.06v1.06h-1.06zM13 21h3.06v1.06h-3.06z"/><path fill="#afafaf" d="M12 8h1.06v1.06h-1.06zM16 8h1.06v1.06h-1.06zM11 9h1.06v1.06h-1.06zM17 9h1.06v1.06h-1.06zM10 11h1.06v1.06h-1.06zM18 11h1.06v1.06h-1.06zM10 17h1.06v1.06h-1.06zM18 17h1.06v1.06h-1.06zM11 19h1.06v1.06h-1.06zM17 19h1.06v1.06h-1.06zM12 20h1.06v1.06h-1.06zM16 20h1.06v1.06h-1.06z"/><path fill="#aaaaaa" d="M10 12h1.06v1.06h-1.06zM18 12h1.06v1.06h-1.06zM10 16h1.06v1.06h-1.06zM18 16h1.06v1.06h-1.06z"/><path fill="#a5a5a5" d="M13 8h1.06v1.06h-1.06zM15 8h1.06v1.06h-1.06zM13 20h1.06v1.06h-1.06zM15 20h1.06v1.06h-1.06z"/><path fill="#a0a0a0" d="M14 8h1.06v1.06h-1.06zM11 10h1.06v1.06h-1.06zM17 10h1.06v1.06h-1.06zM10 13h1.06v1.06h-1.06zM18 13h1.06v1.06h-1.06zM10 14h1.06v1.06h-1.06zM18 14h1.06v1.06h-1.06zM10 15h1.06v1.06h-1.06zM18 15h1.06v1.06h-1.06zM11 18h1.06v1.06h-1.06zM17 18h1.06v1.06h-1.06zM14 20h1.06v1.06h-1.06z"/><path fill="#9b9b9b" d="M12 9h1.06v1.06h-1.06zM16 9h1.06v1.06h-1.06zM12 19h1.06v1.06h-1.06zM16 19h1.06v1.06h-1.06z"/><path fill="#919191" d="M11 11h1.06v1.06h-1.06zM17 11h1.06v1.06h-1.06zM11 17h1.06v1.06h-1.06zM17 17h1.06v1.06h-1.06z"/><path fill="#8c8c8c" d="M13 9h1.06v1.06h-1.06zM15 9h1.06v1.06h-1.06zM13 19h1.06v1.06h-1.06zM15 19h1.06v1.06h-1.06z"/><path fill="#878787" d="M14 9h1.06v1.06h-1.06zM12 10h1.06v1.06h-1.06zM16 10h1.06v1.06h-1.06zM12 18h1.06v1.06h-1.06zM16 18h1.06v1.06h-1.06zM14 19h1.06v1.06h-1.06z"/><path fill="#828282" d="M11 12h1.06v1.06h-1.06zM17 12h1.06v1.06h-1.06zM11 16h1.06v1.06h-1.06zM17 16h1.06v1.06h-1.06z"/><path fill="#7d7d7d" d="M11 13h1.06v1.06h-1.06zM17 13h1.06v1.06h-1.06zM11 15h1.06v1.06h-1.06zM17 15h1.06v1.06h-1.06z"/><path fill="#787878" d="M11 14h1.06v1.06h-1.06zM17 14h1.06v1.06h-1.06z"/><path fill="#737373" d="M13 10h1.06v1.06h-1.06zM15 10h1.06v1.06h-1.06zM12 11h1.06v1.06h-1.06zM16 11h1.06v1.06h-1.06zM12 17h1.06v1.06h-1.06zM16 17h1.06v1.06h-1.06zM13 18h1.06v1.06h-1.06zM15 18h1.06v1.06h-1.06z"/><path fill="#696969" d="M14 10h1.06v1.06h-1.06zM14 18h1.06v1.06h-1.06z"/><path fill="#5f5f5f" d="M12 12h1.06v1.06h-1.06zM16 12h1.06v1.06h-1.06zM12 16h1.06v1.06h-1.06zM16 16h1.06v1.06h-1.06z"/><path fill="#5a5a5a" d="M13 11h1.06v1.06h-1.06zM15 11h1.06v1.06h-1.06zM13 17h1.06v1.06h-1.06zM15 17h1.06v1.06h-1.06z"/><path fill="#555555" d="M12 13h1.06v1.06h-1.06zM16 13h1.06v1.06h-1.06zM12 15h1.06v1.06h-1.06zM16 15h1.06v1.06h-1.06z"/><path fill="#505050" d="M14 11h1.06v1.06h-1.06zM12 14h1.06v1.06h-1.06zM16 14h1.06v1.06h-1.06zM14 17h1.06v1.06h-1.06z"/><path fill="#464646" d="M13 12h1.06v1.06h-1.06zM15 12h1.06v1.06h-1.06zM13 16h1.06v1.06h-1.06zM15 16h1.06v1.06h-1.06z"/><path fill="#3c3c3c" d="M14 12h1.06v1.06h-1.06zM14 16h1.06v1.06h-1.06z"/><path fill="#373737" d="M13 13h1.06v1.06h-1.06zM15 13h1.06v1.06h-1.06zM13 14h1.06v1.06h-1.06zM15 14h1.06v1.06h-1.06zM13 15h1.06v1.06h-1.06zM15 15h1.06v1.06h-1.06z"/><path fill="#2d2d2d" d="M14 13h1.06v1.06h-1.06zM14 15h1.06v1.06h-1.06z"/><path fill="#282828" d="M14 14h1.06v1.06h-1.06z"/></g></g></g><defs><clipPath id="pic"><rect x="390.50" y="354.50" width="163.50" height="163.90"/></clipPath><filter id="pif" x="-10%" y="-10%" width="120%" height="120%"><feGaussianBlur stdDeviation="2.0"/></filter></defs><g clip-path="url(#pic)"><g filter="url(#pif)"><g transform="translate(382.50 346.50) scale(4)"><path fill="#fafafa" d="M22 3h5.06v1.06h-5.06zM20 4h1.06v1.06h-1.06zM28 4h2.06v1.06h-2.06zM19 5h1.06v1.06h-1.06zM30 5h1.06v1.06h-1.06zM32 6h1.06v1.06h-1.06zM33 7h2.06v1.06h-2.06zM16 8h1.06v1.06h-1.06zM35 8h1.06v1.06h-1.06zM15 9h1.06v1.06h-1.06zM36 9h1.06v1.06h-1.06zM37 10h1.06v1.06h-1.06zM14 11h1.06v1.06h-1.06zM37 11h1.06v1.06h-1.06zM13 12h1.06v1.06h-1.06zM38 12h1.06v1.06h-1.06zM38 13h1.06v1.06h-1.06zM12 14h1.06v1.06h-1.06zM38 14h1.06v1.06h-1.06zM38 15h1.06v1.06h-1.06zM11 16h1.06v1.06h-1.06zM38 16h1.06v1.06h-1.06zM10 17h1.06v1.06h-1.06zM38 17h1.06v1.06h-1.06zM38 18h1.06v1.06h-1.06zM9 19h1.06v1.06h-1.06zM37 20h1.06v1.06h-1.06zM8 21h1.06v1.06h-1.06zM36 22h1.06v1.06h-1.06zM7 23h1.06v1.06h-1.06zM35 24h1.06v1.06h-1.06zM6 25h1.06v1.06h-1.06zM6 26h1.06v1.06h-1.06zM34 26h1.06v1.06h-1.06zM5 28h1.06v1.06h-1.06zM33 28h1.06v1.06h-1.06zM5 29h1.06v1.06h-1.06zM32 29h1.06v1.06h-1.06zM5 30h1.06v1.06h-1.06zM32 30h1.06v1.06h-1.06zM5 31h1.06v1.06h-1.06zM31 31h1.06v1.06h-1.06zM5 32h1.06v1.06h-1.06zM6 33h1.06v1.06h-1.06zM30 33h1.06v1.06h-1.06zM6 34h1.06v1.06h-1.06zM29 34h1.06v1.06h-1.06zM7 35h1.06v1.06h-1.06zM29 35h1.06v1.06h-1.06zM8 36h1.06v1.06h-1.06zM28 36h1.06v1.06h-1.06zM9 37h2.06v1.06h-2.06zM27 37h1.06v1.06h-1.06zM11 38h1.06v1.06h-1.06zM26 38h1.06v1.06h-1.06zM13 39h1.06v1.06h-1.06zM25 39h1.06v1.06h-1.06zM14 40h2.06v1.06h-2.06zM24 40h1.06v1.06h-1.06zM16 41h3.06v1.06h-3.06zM21 41h3.06v1.06h-3.06z"/><path fill="#f5f5f5" d="M21 4h3.06v1.06h-3.06zM25 4h3.06v1.06h-3.06zM20 5h1.06v1.06h-1.06zM28 5h2.06v1.06h-2.06zM18 6h1.06v1.06h-1.06zM31 6h1.06v1.06h-1.06zM17 7h1.06v1.06h-1.06zM32 7h1.06v1.06h-1.06zM34 8h1.06v1.06h-1.06zM35 9h1.06v1.06h-1.06zM15 10h1.06v1.06h-1.06zM36 10h1.06v1.06h-1.06zM37 12h1.06v1.06h-1.06zM13 13h1.06v1.06h-1.06zM12 15h1.06v1.06h-1.06zM11 17h1.06v1.06h-1.06zM10 18h1.06v1.06h-1.06zM37 18h1.06v1.06h-1.06zM37 19h1.06v1.06h-1.06zM9 20h1.06v1.06h-1.06zM36 21h1.06v1.06h-1.06zM8 22h1.06v1.06h-1.06zM35 23h1.06v1.06h-1.06zM7 24h1.06v1.06h-1.06zM34 25h1.06v1.06h-1.06zM6 27h1.06v1.06h-1.06zM33 27h1.06v1.06h-1.06zM6 28h1.06v1.06h-1.06zM6 29h1.06v1.06h-1.06zM6 30h1.06v1.06h-1.06zM31 30h1.06v1.06h-1.06zM6 31h1.06v1.06h-1.06zM6 32h1.06v1.06h-1.06zM30 32h1.06v1.06h-1.06zM7 34h1.06v1.06h-1.06zM8 35h1.06v1.06h-1.06zM28 35h1.06v1.06h-1.06zM9 36h1.06v1.06h-1.06zM11 37h1.06v1.06h-1.06zM12 38h2.06v1.06h-2.06zM14 39h1.06v1.06h-1.06zM24 39h1.06v1.06h-1.06zM16 40h2.06v1.06h-2.06zM23 40h1.06v1.06h-1.06zM19 41h2.06v1.06h-2.06z"/><path fill="#f0f0f0" d="M24 4h1.06v1.06h-1.06zM21 5h1.06v1.06h-1.06zM27 5h1.06v1.06h-1.06zM19 6h1.06v1.06h-1.06zM30 6h1.06v1.06h-1.06zM18 7h1.06v1.06h-1.06zM31 7h1.06v1.06h-1.06zM17 8h1.06v1.06h-1.06zM33 8h1.06v1.06h-1.06zM16 9h1.06v1.06h-1.06zM34 9h1.06v1.06h-1.06zM35 10h1.06v1.06h-1.06zM36 11h1.06v1.06h-1.06zM14 12h1.06v1.06h-1.06zM37 13h1.06v1.06h-1.06zM13 14h1.06v1.06h-1.06zM37 14h1.06v1.06h-1.06zM37 15h1.06v1.06h-1.06zM12 16h1.06v1.06h-1.06zM37 16h1.06v1.06h-1.06zM37 17h1.06v1.06h-1.06zM10 19h1.06v1.06h-1.06zM36 20h1.06v1.06h-1.06zM9 21h1.06v1.06h-1.06zM35 22h1.06v1.06h-1.06zM8 23h1.06v1.06h-1.06zM34 24h1.06v1.06h-1.06zM7 25h1.06v1.06h-1.06zM33 26h1.06v1.06h-1.06zM32 28h1.06v1.06h-1.06zM30 31h1.06v1.06h-1.06zM7 32h1.06v1.06h-1.06zM7 33h1.06v1.06h-1.06zM29 33h1.06v1.06h-1.06zM8 34h1.06v1.06h-1.06zM9 35h1.06v1.06h-1.06zM10 36h1.06v1.06h-1.06zM27 36h1.06v1.06h-1.06zM12 37h1.06v1.06h-1.06zM26 37h1.06v1.06h-1.06zM14 38h1.06v1.06h-1.06zM25 38h1.06v1.06h-1.06zM15 39h2.06v1.06h-2.06zM18 40h5.06v1.06h-5.06z"/><path fill="#ebebeb" d="M22 5h2.06v1.06h-2.06zM25 5h2.06v1.06h-2.06zM20 6h1.06v1.06h-1.06zM29 6h1.06v1.06h-1.06zM32 8h1.06v1.06h-1.06zM33 9h1.06v1.06h-1.06zM16 10h1.06v1.06h-1.06zM15 11h1.06v1.06h-1.06zM35 11h1.06v1.06h-1.06zM36 12h1.06v1.06h-1.06zM14 13h1.06v1.06h-1.06zM11 18h1.06v1.06h-1.06zM36 19h1.06v1.06h-1.06zM10 20h1.06v1.06h-1.06zM9 22h1.06v1.06h-1.06zM8 24h1.06v1.06h-1.06zM33 25h1.06v1.06h-1.06zM7 26h1.06v1.06h-1.06zM7 27h1.06v1.06h-1.06zM32 27h1.06v1.06h-1.06zM31 29h1.06v1.06h-1.06zM7 31h1.06v1.06h-1.06zM29 32h1.06v1.06h-1.06zM8 33h1.06v1.06h-1.06zM9 34h1.06v1.06h-1.06zM28 34h1.06v1.06h-1.06zM10 35h1.06v1.06h-1.06zM27 35h1.06v1.06h-1.06zM11 36h1.06v1.06h-1.06zM13 37h1.06v1.06h-1.06zM15 38h1.06v1.06h-1.06zM24 38h1.06v1.06h-1.06zM17 39h1.06v1.06h-1.06zM23 39h1.06v1.06h-1.06z"/><path fill="#e6e6e6" d="M24 5h1.06v1.06h-1.06zM21 6h1.06v1.06h-1.06zM27 6h2.06v1.06h-2.06zM19 7h1.06v1.06h-1.06zM30 7h1.06v1.06h-1.06zM18 8h1.06v1.06h-1.06zM31 8h1.06v1.06h-1.06zM17 9h1.06v1.06h-1.06zM34 10h1.06v1.06h-1.06zM15 12h1.06v1.06h-1.06zM36 13h1.06v1.06h-1.06zM36 14h1.06v1.06h-1.06zM13 15h1.06v1.06h-1.06zM12 17h1.06v1.06h-1.06zM36 18h1.06v1.06h-1.06zM11 19h1.06v1.06h-1.06zM35 21h1.06v1.06h-1.06zM34 23h1.06v1.06h-1.06zM8 25h1.06v1.06h-1.06zM7 28h1.06v1.06h-1.06zM31 28h1.06v1.06h-1.06zM7 29h1.06v1.06h-1.06zM7 30h1.06v1.06h-1.06zM30 30h1.06v1.06h-1.06zM8 32h1.06v1.06h-1.06zM28 33h1.06v1.06h-1.06zM12 36h1.06v1.06h-1.06zM26 36h1.06v1.06h-1.06zM14 37h1.06v1.06h-1.06zM25 37h1.06v1.06h-1.06zM16 38h1.06v1.06h-1.06zM18 39h5.06v1.06h-5.06z"/><path fill="#e1e1e1" d="M22 6h1.06v1.06h-1.06zM26 6h1.06v1.06h-1.06zM29 7h1.06v1.06h-1.06zM32 9h1.06v1.06h-1.06zM33 10h1.06v1.06h-1.06zM16 11h1.06v1.06h-1.06zM34 11h1.06v1.06h-1.06zM35 12h1.06v1.06h-1.06zM14 14h1.06v1.06h-1.06zM36 15h1.06v1.06h-1.06zM13 16h1.06v1.06h-1.06zM36 16h1.06v1.06h-1.06zM36 17h1.06v1.06h-1.06zM35 20h1.06v1.06h-1.06zM10 21h1.06v1.06h-1.06zM34 22h1.06v1.06h-1.06zM9 23h1.06v1.06h-1.06zM33 24h1.06v1.06h-1.06zM8 26h1.06v1.06h-1.06zM32 26h1.06v1.06h-1.06zM30 29h1.06v1.06h-1.06zM8 31h1.06v1.06h-1.06zM29 31h1.06v1.06h-1.06zM9 33h1.06v1.06h-1.06zM10 34h1.06v1.06h-1.06zM27 34h1.06v1.06h-1.06zM11 35h1.06v1.06h-1.06zM13 36h1.06v1.06h-1.06zM17 38h1.06v1.06h-1.06zM23 38h1.06v1.06h-1.06z"/><path fill="#dcdcdc" d="M23 6h3.06v1.06h-3.06zM20 7h1.06v1.06h-1.06zM28 7h1.06v1.06h-1.06zM19 8h1.06v1.06h-1.06zM30 8h1.06v1.06h-1.06zM18 9h1.06v1.06h-1.06zM17 10h1.06v1.06h-1.06zM15 13h1.06v1.06h-1.06zM35 13h1.06v1.06h-1.06zM14 15h1.06v1.06h-1.06zM12 18h1.06v1.06h-1.06zM35 19h1.06v1.06h-1.06zM11 20h1.06v1.06h-1.06zM10 22h1.06v1.06h-1.06zM9 24h1.06v1.06h-1.06zM32 25h1.06v1.06h-1.06zM8 27h1.06v1.06h-1.06zM31 27h1.06v1.06h-1.06zM8 28h1.06v1.06h-1.06zM8 29h1.06v1.06h-1.06zM8 30h1.06v1.06h-1.06zM9 32h1.06v1.06h-1.06zM28 32h1.06v1.06h-1.06zM11 34h1.06v1.06h-1.06zM12 35h1.06v1.06h-1.06zM26 35h1.06v1.06h-1.06zM25 36h1.06v1.06h-1.06zM15 37h1.06v1.06h-1.06zM24 37h1.06v1.06h-1.06zM18 38h1.06v1.06h-1.06zM21 38h2.06v1.06h-2.06z"/><path fill="#d7d7d7" d="M21 7h1.06v1.06h-1.06zM27 7h1.06v1.06h-1.06zM31 9h1.06v1.06h-1.06zM32 10h1.06v1.06h-1.06zM33 11h1.06v1.06h-1.06zM16 12h1.06v1.06h-1.06zM34 12h1.06v1.06h-1.06zM35 14h1.06v1.06h-1.06zM35 15h1.06v1.06h-1.06zM13 17h1.06v1.06h-1.06zM35 18h1.06v1.06h-1.06zM12 19h1.06v1.06h-1.06zM34 21h1.06v1.06h-1.06zM33 23h1.06v1.06h-1.06zM9 25h1.06v1.06h-1.06zM30 28h1.06v1.06h-1.06zM29 30h1.06v1.06h-1.06zM9 31h1.06v1.06h-1.06zM10 33h1.06v1.06h-1.06zM27 33h1.06v1.06h-1.06zM14 36h1.06v1.06h-1.06zM16 37h1.06v1.06h-1.06zM23 37h1.06v1.06h-1.06zM19 38h2.06v1.06h-2.06z"/><path fill="#d2d2d2" d="M22 7h2.06v1.06h-2.06zM25 7h2.06v1.06h-2.06zM20 8h1.06v1.06h-1.06zM29 8h1.06v1.06h-1.06zM17 11h1.06v1.06h-1.06zM34 13h1.06v1.06h-1.06zM15 14h1.06v1.06h-1.06zM14 16h1.06v1.06h-1.06zM35 16h1.06v1.06h-1.06zM35 17h1.06v1.06h-1.06zM34 20h1.06v1.06h-1.06zM11 21h1.06v1.06h-1.06zM33 22h1.06v1.06h-1.06zM10 23h1.06v1.06h-1.06zM32 24h1.06v1.06h-1.06zM9 26h1.06v1.06h-1.06zM31 26h1.06v1.06h-1.06zM9 30h1.06v1.06h-1.06zM28 31h1.06v1.06h-1.06zM10 32h1.06v1.06h-1.06zM11 33h1.06v1.06h-1.06zM12 34h1.06v1.06h-1.06zM26 34h1.06v1.06h-1.06zM13 35h1.06v1.06h-1.06zM15 36h1.06v1.06h-1.06zM24 36h1.06v1.06h-1.06zM17 37h1.06v1.06h-1.06zM22 37h1.06v1.06h-1.06z"/><path fill="#cdcdcd" d="M24 7h1.06v1.06h-1.06zM28 8h1.06v1.06h-1.06zM19 9h1.06v1.06h-1.06zM30 9h1.06v1.06h-1.06zM18 10h1.06v1.06h-1.06zM31 10h1.06v1.06h-1.06zM33 12h1.06v1.06h-1.06zM16 13h1.06v1.06h-1.06zM34 14h1.06v1.06h-1.06zM13 18h1.06v1.06h-1.06zM34 19h1.06v1.06h-1.06zM12 20h1.06v1.06h-1.06zM10 24h1.06v1.06h-1.06zM9 27h1.06v1.06h-1.06zM30 27h1.06v1.06h-1.06zM9 28h1.06v1.06h-1.06zM9 29h1.06v1.06h-1.06zM29 29h1.06v1.06h-1.06zM27 32h1.06v1.06h-1.06zM14 35h1.06v1.06h-1.06zM25 35h1.06v1.06h-1.06zM16 36h1.06v1.06h-1.06zM18 37h4.06v1.06h-4.06z"/><path fill="#c8c8c8" d="M21 8h1.06v1.06h-1.06zM27 8h1.06v1.06h-1.06zM32 11h1.06v1.06h-1.06zM17 12h1.06v1.06h-1.06zM15 15h1.06v1.06h-1.06zM34 15h1.06v1.06h-1.06zM14 17h1.06v1.06h-1.06zM34 18h1.06v1.06h-1.06zM33 21h1.06v1.06h-1.06zM11 22h1.06v1.06h-1.06zM32 23h1.06v1.06h-1.06zM31 25h1.06v1.06h-1.06zM28 30h1.06v1.06h-1.06zM10 31h1.06v1.06h-1.06zM11 32h1.06v1.06h-1.06zM26 33h1.06v1.06h-1.06zM13 34h1.06v1.06h-1.06zM23 36h1.06v1.06h-1.06z"/><path fill="#c3c3c3" d="M22 8h1.06v1.06h-1.06zM26 8h1.06v1.06h-1.06zM20 9h1.06v1.06h-1.06zM29 9h1.06v1.06h-1.06zM18 11h1.06v1.06h-1.06zM33 13h1.06v1.06h-1.06zM16 14h1.06v1.06h-1.06zM34 16h1.06v1.06h-1.06zM34 17h1.06v1.06h-1.06zM13 19h1.06v1.06h-1.06zM33 20h1.06v1.06h-1.06zM12 21h1.06v1.06h-1.06zM11 23h1.06v1.06h-1.06zM31 24h1.06v1.06h-1.06zM10 25h1.06v1.06h-1.06zM30 26h1.06v1.06h-1.06zM29 28h1.06v1.06h-1.06zM10 30h1.06v1.06h-1.06zM12 33h1.06v1.06h-1.06zM25 34h1.06v1.06h-1.06zM15 35h1.06v1.06h-1.06zM24 35h1.06v1.06h-1.06zM17 36h1.06v1.06h-1.06zM22 36h1.06v1.06h-1.06z"/><path fill="#bebebe" d="M23 8h3.06v1.06h-3.06zM19 10h1.06v1.06h-1.06zM30 10h1.06v1.06h-1.06zM31 11h1.06v1.06h-1.06zM32 12h1.06v1.06h-1.06zM17 13h1.06v1.06h-1.06zM33 14h1.06v1.06h-1.06zM15 16h1.06v1.06h-1.06zM14 18h1.06v1.06h-1.06zM32 22h1.06v1.06h-1.06zM10 26h1.06v1.06h-1.06zM29 27h1.06v1.06h-1.06zM10 29h1.06v1.06h-1.06zM28 29h1.06v1.06h-1.06zM11 31h1.06v1.06h-1.06zM27 31h1.06v1.06h-1.06zM14 34h1.06v1.06h-1.06zM18 36h4.06v1.06h-4.06z"/><path fill="#b9b9b9" d="M21 9h1.06v1.06h-1.06zM28 9h1.06v1.06h-1.06zM18 12h1.06v1.06h-1.06zM16 15h1.06v1.06h-1.06zM33 19h1.06v1.06h-1.06zM13 20h1.06v1.06h-1.06zM32 21h1.06v1.06h-1.06zM12 22h1.06v1.06h-1.06zM31 23h1.06v1.06h-1.06zM11 24h1.06v1.06h-1.06zM30 25h1.06v1.06h-1.06zM10 27h1.06v1.06h-1.06zM10 28h1.06v1.06h-1.06zM12 32h1.06v1.06h-1.06zM26 32h1.06v1.06h-1.06zM13 33h1.06v1.06h-1.06zM16 35h1.06v1.06h-1.06zM23 35h1.06v1.06h-1.06z"/><path fill="#b4b4b4" d="M27 9h1.06v1.06h-1.06zM20 10h1.06v1.06h-1.06zM29 10h1.06v1.06h-1.06zM19 11h1.06v1.06h-1.06zM32 13h1.06v1.06h-1.06zM17 14h1.06v1.06h-1.06zM33 15h1.06v1.06h-1.06zM15 17h1.06v1.06h-1.06zM33 18h1.06v1.06h-1.06zM14 19h1.06v1.06h-1.06zM11 25h1.06v1.06h-1.06zM29 26h1.06v1.06h-1.06zM28 28h1.06v1.06h-1.06zM11 30h1.06v1.06h-1.06zM27 30h1.06v1.06h-1.06zM25 33h1.06v1.06h-1.06zM15 34h1.06v1.06h-1.06zM24 34h1.06v1.06h-1.06zM17 35h1.06v1.06h-1.06z"/><path fill="#afafaf" d="M22 9h1.06v1.06h-1.06zM26 9h1.06v1.06h-1.06zM30 11h1.06v1.06h-1.06zM31 12h1.06v1.06h-1.06zM16 16h1.06v1.06h-1.06zM33 16h1.06v1.06h-1.06zM33 17h1.06v1.06h-1.06zM32 20h1.06v1.06h-1.06zM13 21h1.06v1.06h-1.06zM31 22h1.06v1.06h-1.06zM12 23h1.06v1.06h-1.06zM30 24h1.06v1.06h-1.06zM12 31h1.06v1.06h-1.06zM26 31h1.06v1.06h-1.06zM14 33h1.06v1.06h-1.06zM18 35h1.06v1.06h-1.06zM22 35h1.06v1.06h-1.06z"/><path fill="#aaaaaa" d="M23 9h3.06v1.06h-3.06zM18 13h1.06v1.06h-1.06zM32 14h1.06v1.06h-1.06zM15 18h1.06v1.06h-1.06zM14 20h1.06v1.06h-1.06zM29 25h1.06v1.06h-1.06zM11 26h1.06v1.06h-1.06zM11 27h1.06v1.06h-1.06zM28 27h1.06v1.06h-1.06zM11 28h1.06v1.06h-1.06zM11 29h1.06v1.06h-1.06zM27 29h1.06v1.06h-1.06zM13 32h1.06v1.06h-1.06zM25 32h1.06v1.06h-1.06zM16 34h1.06v1.06h-1.06zM19 35h3.06v1.06h-3.06z"/><path fill="#a5a5a5" d="M21 10h1.06v1.06h-1.06zM28 10h1.06v1.06h-1.06zM20 11h1.06v1.06h-1.06zM19 12h1.06v1.06h-1.06zM17 15h1.06v1.06h-1.06zM16 17h1.06v1.06h-1.06zM32 19h1.06v1.06h-1.06zM31 21h1.06v1.06h-1.06zM13 22h1.06v1.06h-1.06zM30 23h1.06v1.06h-1.06zM12 24h1.06v1.06h-1.06zM24 33h1.06v1.06h-1.06zM23 34h1.06v1.06h-1.06z"/><path fill="#a0a0a0" d="M29 11h1.06v1.06h-1.06zM31 13h1.06v1.06h-1.06zM18 14h1.06v1.06h-1.06zM32 15h1.06v1.06h-1.06zM32 18h1.06v1.06h-1.06zM15 19h1.06v1.06h-1.06zM14 21h1.06v1.06h-1.06zM29 24h1.06v1.06h-1.06zM12 25h1.06v1.06h-1.06zM28 26h1.06v1.06h-1.06zM27 28h1.06v1.06h-1.06zM12 30h1.06v1.06h-1.06zM26 30h1.06v1.06h-1.06zM15 33h1.06v1.06h-1.06z"/><path fill="#9b9b9b" d="M22 10h1.06v1.06h-1.06zM27 10h1.06v1.06h-1.06zM30 12h1.06v1.06h-1.06zM19 13h1.06v1.06h-1.06zM17 16h1.06v1.06h-1.06zM32 16h1.06v1.06h-1.06zM32 17h1.06v1.06h-1.06zM16 18h1.06v1.06h-1.06zM31 20h1.06v1.06h-1.06zM30 22h1.06v1.06h-1.06zM13 23h1.06v1.06h-1.06zM13 31h1.06v1.06h-1.06zM25 31h1.06v1.06h-1.06zM14 32h1.06v1.06h-1.06zM17 34h1.06v1.06h-1.06zM22 34h1.06v1.06h-1.06z"/><path fill="#969696" d="M23 10h1.06v1.06h-1.06zM26 10h1.06v1.06h-1.06zM21 11h1.06v1.06h-1.06zM20 12h1.06v1.06h-1.06zM31 14h1.06v1.06h-1.06zM18 15h1.06v1.06h-1.06zM15 20h1.06v1.06h-1.06zM29 23h1.06v1.06h-1.06zM28 25h1.06v1.06h-1.06zM12 26h1.06v1.06h-1.06zM27 27h1.06v1.06h-1.06zM12 29h1.06v1.06h-1.06zM26 29h1.06v1.06h-1.06zM24 32h1.06v1.06h-1.06zM23 33h1.06v1.06h-1.06zM18 34h1.06v1.06h-1.06z"/><path fill="#919191" d="M24 10h2.06v1.06h-2.06zM28 11h1.06v1.06h-1.06zM17 17h1.06v1.06h-1.06zM16 19h1.06v1.06h-1.06zM31 19h1.06v1.06h-1.06zM30 21h1.06v1.06h-1.06zM14 22h1.06v1.06h-1.06zM13 24h1.06v1.06h-1.06zM12 27h1.06v1.06h-1.06zM12 28h1.06v1.06h-1.06zM16 33h1.06v1.06h-1.06zM19 34h3.06v1.06h-3.06z"/><path fill="#8c8c8c" d="M30 13h1.06v1.06h-1.06zM19 14h1.06v1.06h-1.06zM31 15h1.06v1.06h-1.06zM18 16h1.06v1.06h-1.06zM31 18h1.06v1.06h-1.06zM15 21h1.06v1.06h-1.06zM28 24h1.06v1.06h-1.06zM27 26h1.06v1.06h-1.06zM26 28h1.06v1.06h-1.06zM13 30h1.06v1.06h-1.06zM25 30h1.06v1.06h-1.06z"/><path fill="#878787" d="M22 11h1.06v1.06h-1.06zM29 12h1.06v1.06h-1.06zM20 13h1.06v1.06h-1.06zM31 16h1.06v1.06h-1.06zM31 17h1.06v1.06h-1.06zM17 18h1.06v1.06h-1.06zM16 20h1.06v1.06h-1.06zM30 20h1.06v1.06h-1.06zM29 22h1.06v1.06h-1.06zM14 23h1.06v1.06h-1.06zM13 25h1.06v1.06h-1.06zM14 31h1.06v1.06h-1.06zM24 31h1.06v1.06h-1.06zM15 32h1.06v1.06h-1.06zM22 33h1.06v1.06h-1.06z"/><path fill="#828282" d="M27 11h1.06v1.06h-1.06zM21 12h1.06v1.06h-1.06zM19 15h1.06v1.06h-1.06zM18 17h1.06v1.06h-1.06zM17 19h1.06v1.06h-1.06zM15 22h1.06v1.06h-1.06zM28 23h1.06v1.06h-1.06zM27 25h1.06v1.06h-1.06zM13 26h1.06v1.06h-1.06zM26 27h1.06v1.06h-1.06zM13 29h1.06v1.06h-1.06zM25 29h1.06v1.06h-1.06zM23 32h1.06v1.06h-1.06zM17 33h1.06v1.06h-1.06z"/><path fill="#7d7d7d" d="M23 11h1.06v1.06h-1.06zM30 14h1.06v1.06h-1.06zM30 19h1.06v1.06h-1.06zM29 21h1.06v1.06h-1.06zM14 24h1.06v1.06h-1.06zM27 24h1.06v1.06h-1.06zM13 27h1.06v1.06h-1.06zM13 28h1.06v1.06h-1.06z"/><path fill="#787878" d="M24 11h1.06v1.06h-1.06zM26 11h1.06v1.06h-1.06zM20 14h1.06v1.06h-1.06zM19 16h1.06v1.06h-1.06zM18 18h1.06v1.06h-1.06zM30 18h1.06v1.06h-1.06zM16 21h1.06v1.06h-1.06zM28 22h1.06v1.06h-1.06zM26 26h1.06v1.06h-1.06zM25 28h1.06v1.06h-1.06zM24 30h1.06v1.06h-1.06zM18 33h1.06v1.06h-1.06zM21 33h1.06v1.06h-1.06z"/><path fill="#737373" d="M25 11h1.06v1.06h-1.06zM22 12h1.06v1.06h-1.06zM28 12h1.06v1.06h-1.06zM21 13h1.06v1.06h-1.06zM29 13h1.06v1.06h-1.06zM30 15h1.06v1.06h-1.06zM30 17h1.06v1.06h-1.06zM17 20h1.06v1.06h-1.06zM29 20h1.06v1.06h-1.06zM15 23h1.06v1.06h-1.06zM27 23h1.06v1.06h-1.06zM14 25h1.06v1.06h-1.06zM26 25h1.06v1.06h-1.06zM14 30h1.06v1.06h-1.06zM16 32h1.06v1.06h-1.06zM19 33h2.06v1.06h-2.06z"/><path fill="#6e6e6e" d="M20 15h1.06v1.06h-1.06zM30 16h1.06v1.06h-1.06zM19 17h1.06v1.06h-1.06zM18 19h1.06v1.06h-1.06zM28 21h1.06v1.06h-1.06zM16 22h1.06v1.06h-1.06zM25 27h1.06v1.06h-1.06zM15 31h1.06v1.06h-1.06zM23 31h1.06v1.06h-1.06zM22 32h1.06v1.06h-1.06z"/><path fill="#696969" d="M21 14h1.06v1.06h-1.06zM19 18h1.06v1.06h-1.06zM29 19h1.06v1.06h-1.06zM17 21h1.06v1.06h-1.06zM27 22h1.06v1.06h-1.06zM26 24h1.06v1.06h-1.06zM14 26h1.06v1.06h-1.06zM14 29h1.06v1.06h-1.06zM24 29h1.06v1.06h-1.06z"/><path fill="#646464" d="M23 12h1.06v1.06h-1.06zM27 12h1.06v1.06h-1.06zM22 13h1.06v1.06h-1.06zM29 14h1.06v1.06h-1.06zM20 16h1.06v1.06h-1.06zM29 18h1.06v1.06h-1.06zM18 20h1.06v1.06h-1.06zM28 20h1.06v1.06h-1.06zM26 23h1.06v1.06h-1.06zM15 24h1.06v1.06h-1.06zM25 26h1.06v1.06h-1.06zM14 27h1.06v1.06h-1.06zM14 28h1.06v1.06h-1.06zM17 32h1.06v1.06h-1.06z"/><path fill="#5f5f5f" d="M28 13h1.06v1.06h-1.06zM20 17h1.06v1.06h-1.06zM19 19h1.06v1.06h-1.06zM27 21h1.06v1.06h-1.06zM16 23h1.06v1.06h-1.06zM25 25h1.06v1.06h-1.06zM24 28h1.06v1.06h-1.06zM23 30h1.06v1.06h-1.06zM21 32h1.06v1.06h-1.06z"/><path fill="#5a5a5a" d="M24 12h3.06v1.06h-3.06zM21 15h1.06v1.06h-1.06zM29 15h1.06v1.06h-1.06zM29 16h1.06v1.06h-1.06zM29 17h1.06v1.06h-1.06zM28 19h1.06v1.06h-1.06zM18 21h1.06v1.06h-1.06zM17 22h1.06v1.06h-1.06zM26 22h1.06v1.06h-1.06zM25 24h1.06v1.06h-1.06zM15 25h1.06v1.06h-1.06zM15 30h1.06v1.06h-1.06zM16 31h1.06v1.06h-1.06zM22 31h1.06v1.06h-1.06z"/><path fill="#555555" d="M23 13h1.06v1.06h-1.06zM22 14h1.06v1.06h-1.06zM21 16h1.06v1.06h-1.06zM20 18h1.06v1.06h-1.06zM19 20h1.06v1.06h-1.06zM25 23h1.06v1.06h-1.06zM24 27h1.06v1.06h-1.06zM18 32h3.06v1.06h-3.06z"/><path fill="#505050" d="M28 18h1.06v1.06h-1.06zM20 19h1.06v1.06h-1.06zM27 20h1.06v1.06h-1.06zM26 21h1.06v1.06h-1.06zM16 24h1.06v1.06h-1.06zM15 26h1.06v1.06h-1.06zM24 26h1.06v1.06h-1.06zM23 29h1.06v1.06h-1.06z"/><path fill="#4b4b4b" d="M27 13h1.06v1.06h-1.06zM28 14h1.06v1.06h-1.06zM22 15h1.06v1.06h-1.06zM21 17h1.06v1.06h-1.06zM20 20h1.06v1.06h-1.06zM19 21h1.06v1.06h-1.06zM18 22h1.06v1.06h-1.06zM25 22h1.06v1.06h-1.06zM17 23h1.06v1.06h-1.06zM24 24h1.06v1.06h-1.06zM24 25h1.06v1.06h-1.06zM15 27h1.06v1.06h-1.06zM15 29h1.06v1.06h-1.06zM22 30h1.06v1.06h-1.06zM21 31h1.06v1.06h-1.06z"/><path fill="#464646" d="M24 13h1.06v1.06h-1.06zM23 14h1.06v1.06h-1.06zM28 15h1.06v1.06h-1.06zM28 17h1.06v1.06h-1.06zM21 18h1.06v1.06h-1.06zM21 19h1.06v1.06h-1.06zM27 19h1.06v1.06h-1.06zM26 20h1.06v1.06h-1.06zM25 21h1.06v1.06h-1.06zM24 23h1.06v1.06h-1.06zM15 28h1.06v1.06h-1.06zM23 28h1.06v1.06h-1.06zM17 31h1.06v1.06h-1.06z"/><path fill="#414141" d="M25 13h2.06v1.06h-2.06zM22 16h1.06v1.06h-1.06zM28 16h1.06v1.06h-1.06zM27 18h1.06v1.06h-1.06zM21 20h1.06v1.06h-1.06zM20 21h1.06v1.06h-1.06zM19 22h1.06v1.06h-1.06zM24 22h1.06v1.06h-1.06zM16 25h1.06v1.06h-1.06zM23 27h1.06v1.06h-1.06zM16 30h1.06v1.06h-1.06z"/><path fill="#3c3c3c" d="M27 14h1.06v1.06h-1.06zM23 15h1.06v1.06h-1.06zM22 17h1.06v1.06h-1.06zM22 18h1.06v1.06h-1.06zM22 19h1.06v1.06h-1.06zM26 19h1.06v1.06h-1.06zM22 20h1.06v1.06h-1.06zM25 20h1.06v1.06h-1.06zM21 21h1.06v1.06h-1.06zM23 21h2.06v1.06h-2.06zM20 22h1.06v1.06h-1.06zM23 22h1.06v1.06h-1.06zM18 23h1.06v1.06h-1.06zM23 23h1.06v1.06h-1.06zM17 24h1.06v1.06h-1.06zM23 24h1.06v1.06h-1.06zM23 25h1.06v1.06h-1.06zM23 26h1.06v1.06h-1.06zM22 29h1.06v1.06h-1.06zM18 31h1.06v1.06h-1.06zM20 31h1.06v1.06h-1.06z"/><path fill="#373737" d="M24 14h1.06v1.06h-1.06zM27 17h1.06v1.06h-1.06zM23 19h1.06v1.06h-1.06zM25 19h1.06v1.06h-1.06zM23 20h2.06v1.06h-2.06zM22 21h1.06v1.06h-1.06zM21 22h2.06v1.06h-2.06zM16 26h1.06v1.06h-1.06zM21 30h1.06v1.06h-1.06zM19 31h1.06v1.06h-1.06z"/><path fill="#323232" d="M25 14h2.06v1.06h-2.06zM27 15h1.06v1.06h-1.06zM23 16h1.06v1.06h-1.06zM27 16h1.06v1.06h-1.06zM23 17h1.06v1.06h-1.06zM23 18h1.06v1.06h-1.06zM26 18h1.06v1.06h-1.06zM24 19h1.06v1.06h-1.06zM19 23h1.06v1.06h-1.06zM22 23h1.06v1.06h-1.06zM17 25h1.06v1.06h-1.06zM16 27h1.06v1.06h-1.06zM16 28h1.06v1.06h-1.06zM16 29h1.06v1.06h-1.06z"/><path fill="#2d2d2d" d="M24 15h1.06v1.06h-1.06zM26 15h1.06v1.06h-1.06zM24 16h1.06v1.06h-1.06zM24 17h1.06v1.06h-1.06zM26 17h1.06v1.06h-1.06zM24 18h2.06v1.06h-2.06zM20 23h2.06v1.06h-2.06zM18 24h1.06v1.06h-1.06zM22 24h1.06v1.06h-1.06zM22 28h1.06v1.06h-1.06zM17 30h1.06v1.06h-1.06z"/><path fill="#282828" d="M25 15h1.06v1.06h-1.06zM25 16h2.06v1.06h-2.06zM25 17h1.06v1.06h-1.06zM19 24h1.06v1.06h-1.06zM21 24h1.06v1.06h-1.06zM22 25h1.06v1.06h-1.06zM22 26h1.06v1.06h-1.06zM22 27h1.06v1.06h-1.06zM21 29h1.06v1.06h-1.06zM20 30h1.06v1.06h-1.06z"/><path fill="#232323" d="M20 24h1.06v1.06h-1.06zM18 25h1.06v1.06h-1.06zM17 26h1.06v1.06h-1.06zM17 29h1.06v1.06h-1.06zM18 30h2.06v1.06h-2.06z"/><path fill="#1e1e1e" d="M21 25h1.06v1.06h-1.06zM17 27h1.06v1.06h-1.06zM21 28h1.06v1.06h-1.06z"/><path fill="#191919" d="M19 25h2.06v1.06h-2.06zM18 26h4.06v1.06h-4.06zM18 27h4.06v1.06h-4.06zM17 28h4.06v1.06h-4.06zM18 29h3.06v1.06h-3.06z"/></g></g></g><g stroke="#000" fill="none"><path d="M83.47 26.30v4.2M83.47 190.40v-4.2" stroke-width="1.2"/><path d="M63.00 169.89h4.2M226.80 169.89h-4.2" stroke-width="1.2"/><path d="M103.95 26.30v7.0M103.95 190.40v-7.0" stroke-width="1.5"/><path d="M63.00 149.38h7.0M226.80 149.38h-7.0" stroke-width="1.5"/><path d="M124.43 26.30v4.2M124.43 190.40v-4.2" stroke-width="1.2"/><path d="M63.00 128.86h4.2M226.80 128.86h-4.2" stroke-width="1.2"/><path d="M144.90 26.30v7.0M144.90 190.40v-7.0" stroke-width="1.5"/><path d="M63.00 108.35h7.0M226.80 108.35h-7.0" stroke-width="1.5"/><path d="M165.38 26.30v4.2M165.38 190.40v-4.2" stroke-width="1.2"/><path d="M63.00 87.84h4.2M226.80 87.84h-4.2" stroke-width="1.2"/><path d="M185.85 26.30v7.0M185.85 190.40v-7.0" stroke-width="1.5"/><path d="M63.00 67.33h7.0M226.80 67.33h-7.0" stroke-width="1.5"/><path d="M206.33 26.30v4.2M206.33 190.40v-4.2" stroke-width="1.2"/><path d="M63.00 46.81h4.2M226.80 46.81h-4.2" stroke-width="1.2"/><path d="M247.26 26.30v4.2M247.26 190.40v-4.2" stroke-width="1.2"/><path d="M226.80 169.89h4.2M390.50 169.89h-4.2" stroke-width="1.2"/><path d="M267.72 26.30v7.0M267.72 190.40v-7.0" stroke-width="1.5"/><path d="M226.80 149.38h7.0M390.50 149.38h-7.0" stroke-width="1.5"/><path d="M288.19 26.30v4.2M288.19 190.40v-4.2" stroke-width="1.2"/><path d="M226.80 128.86h4.2M390.50 128.86h-4.2" stroke-width="1.2"/><path d="M308.65 26.30v7.0M308.65 190.40v-7.0" stroke-width="1.5"/><path d="M226.80 108.35h7.0M390.50 108.35h-7.0" stroke-width="1.5"/><path d="M329.11 26.30v4.2M329.11 190.40v-4.2" stroke-width="1.2"/><path d="M226.80 87.84h4.2M390.50 87.84h-4.2" stroke-width="1.2"/><path d="M349.57 26.30v7.0M349.57 190.40v-7.0" stroke-width="1.5"/><path d="M226.80 67.33h7.0M390.50 67.33h-7.0" stroke-width="1.5"/><path d="M370.04 26.30v4.2M370.04 190.40v-4.2" stroke-width="1.2"/><path d="M226.80 46.81h4.2M390.50 46.81h-4.2" stroke-width="1.2"/><path d="M410.94 26.30v4.2M410.94 190.40v-4.2" stroke-width="1.2"/><path d="M390.50 169.89h4.2M554.00 169.89h-4.2" stroke-width="1.2"/><path d="M431.38 26.30v7.0M431.38 190.40v-7.0" stroke-width="1.5"/><path d="M390.50 149.38h7.0M554.00 149.38h-7.0" stroke-width="1.5"/><path d="M451.81 26.30v4.2M451.81 190.40v-4.2" stroke-width="1.2"/><path d="M390.50 128.86h4.2M554.00 128.86h-4.2" stroke-width="1.2"/><path d="M472.25 26.30v7.0M472.25 190.40v-7.0" stroke-width="1.5"/><path d="M390.50 108.35h7.0M554.00 108.35h-7.0" stroke-width="1.5"/><path d="M492.69 26.30v4.2M492.69 190.40v-4.2" stroke-width="1.2"/><path d="M390.50 87.84h4.2M554.00 87.84h-4.2" stroke-width="1.2"/><path d="M513.12 26.30v7.0M513.12 190.40v-7.0" stroke-width="1.5"/><path d="M390.50 67.33h7.0M554.00 67.33h-7.0" stroke-width="1.5"/><path d="M533.56 26.30v4.2M533.56 190.40v-4.2" stroke-width="1.2"/><path d="M390.50 46.81h4.2M554.00 46.81h-4.2" stroke-width="1.2"/><path d="M83.47 190.40v4.2M83.47 354.50v-4.2" stroke-width="1.2"/><path d="M63.00 333.99h4.2M226.80 333.99h-4.2" stroke-width="1.2"/><path d="M103.95 190.40v7.0M103.95 354.50v-7.0" stroke-width="1.5"/><path d="M63.00 313.47h7.0M226.80 313.47h-7.0" stroke-width="1.5"/><path d="M124.43 190.40v4.2M124.43 354.50v-4.2" stroke-width="1.2"/><path d="M63.00 292.96h4.2M226.80 292.96h-4.2" stroke-width="1.2"/><path d="M144.90 190.40v7.0M144.90 354.50v-7.0" stroke-width="1.5"/><path d="M63.00 272.45h7.0M226.80 272.45h-7.0" stroke-width="1.5"/><path d="M165.38 190.40v4.2M165.38 354.50v-4.2" stroke-width="1.2"/><path d="M63.00 251.94h4.2M226.80 251.94h-4.2" stroke-width="1.2"/><path d="M185.85 190.40v7.0M185.85 354.50v-7.0" stroke-width="1.5"/><path d="M63.00 231.42h7.0M226.80 231.42h-7.0" stroke-width="1.5"/><path d="M206.33 190.40v4.2M206.33 354.50v-4.2" stroke-width="1.2"/><path d="M63.00 210.91h4.2M226.80 210.91h-4.2" stroke-width="1.2"/><path d="M247.26 190.40v4.2M247.26 354.50v-4.2" stroke-width="1.2"/><path d="M226.80 333.99h4.2M390.50 333.99h-4.2" stroke-width="1.2"/><path d="M267.72 190.40v7.0M267.72 354.50v-7.0" stroke-width="1.5"/><path d="M226.80 313.47h7.0M390.50 313.47h-7.0" stroke-width="1.5"/><path d="M288.19 190.40v4.2M288.19 354.50v-4.2" stroke-width="1.2"/><path d="M226.80 292.96h4.2M390.50 292.96h-4.2" stroke-width="1.2"/><path d="M308.65 190.40v7.0M308.65 354.50v-7.0" stroke-width="1.5"/><path d="M226.80 272.45h7.0M390.50 272.45h-7.0" stroke-width="1.5"/><path d="M329.11 190.40v4.2M329.11 354.50v-4.2" stroke-width="1.2"/><path d="M226.80 251.94h4.2M390.50 251.94h-4.2" stroke-width="1.2"/><path d="M349.57 190.40v7.0M349.57 354.50v-7.0" stroke-width="1.5"/><path d="M226.80 231.42h7.0M390.50 231.42h-7.0" stroke-width="1.5"/><path d="M370.04 190.40v4.2M370.04 354.50v-4.2" stroke-width="1.2"/><path d="M226.80 210.91h4.2M390.50 210.91h-4.2" stroke-width="1.2"/><path d="M410.94 190.40v4.2M410.94 354.50v-4.2" stroke-width="1.2"/><path d="M390.50 333.99h4.2M554.00 333.99h-4.2" stroke-width="1.2"/><path d="M431.38 190.40v7.0M431.38 354.50v-7.0" stroke-width="1.5"/><path d="M390.50 313.47h7.0M554.00 313.47h-7.0" stroke-width="1.5"/><path d="M451.81 190.40v4.2M451.81 354.50v-4.2" stroke-width="1.2"/><path d="M390.50 292.96h4.2M554.00 292.96h-4.2" stroke-width="1.2"/><path d="M472.25 190.40v7.0M472.25 354.50v-7.0" stroke-width="1.5"/><path d="M390.50 272.45h7.0M554.00 272.45h-7.0" stroke-width="1.5"/><path d="M492.69 190.40v4.2M492.69 354.50v-4.2" stroke-width="1.2"/><path d="M390.50 251.94h4.2M554.00 251.94h-4.2" stroke-width="1.2"/><path d="M513.12 190.40v7.0M513.12 354.50v-7.0" stroke-width="1.5"/><path d="M390.50 231.42h7.0M554.00 231.42h-7.0" stroke-width="1.5"/><path d="M533.56 190.40v4.2M533.56 354.50v-4.2" stroke-width="1.2"/><path d="M390.50 210.91h4.2M554.00 210.91h-4.2" stroke-width="1.2"/><path d="M83.47 354.50v4.2M83.47 518.40v-4.2" stroke-width="1.2"/><path d="M63.00 497.91h4.2M226.80 497.91h-4.2" stroke-width="1.2"/><path d="M103.95 354.50v7.0M103.95 518.40v-7.0" stroke-width="1.5"/><path d="M63.00 477.42h7.0M226.80 477.42h-7.0" stroke-width="1.5"/><path d="M124.43 354.50v4.2M124.43 518.40v-4.2" stroke-width="1.2"/><path d="M63.00 456.94h4.2M226.80 456.94h-4.2" stroke-width="1.2"/><path d="M144.90 354.50v7.0M144.90 518.40v-7.0" stroke-width="1.5"/><path d="M63.00 436.45h7.0M226.80 436.45h-7.0" stroke-width="1.5"/><path d="M165.38 354.50v4.2M165.38 518.40v-4.2" stroke-width="1.2"/><path d="M63.00 415.96h4.2M226.80 415.96h-4.2" stroke-width="1.2"/><path d="M185.85 354.50v7.0M185.85 518.40v-7.0" stroke-width="1.5"/><path d="M63.00 395.48h7.0M226.80 395.48h-7.0" stroke-width="1.5"/><path d="M206.33 354.50v4.2M206.33 518.40v-4.2" stroke-width="1.2"/><path d="M63.00 374.99h4.2M226.80 374.99h-4.2" stroke-width="1.2"/><path d="M247.26 354.50v4.2M247.26 518.40v-4.2" stroke-width="1.2"/><path d="M226.80 497.91h4.2M390.50 497.91h-4.2" stroke-width="1.2"/><path d="M267.72 354.50v7.0M267.72 518.40v-7.0" stroke-width="1.5"/><path d="M226.80 477.42h7.0M390.50 477.42h-7.0" stroke-width="1.5"/><path d="M288.19 354.50v4.2M288.19 518.40v-4.2" stroke-width="1.2"/><path d="M226.80 456.94h4.2M390.50 456.94h-4.2" stroke-width="1.2"/><path d="M308.65 354.50v7.0M308.65 518.40v-7.0" stroke-width="1.5"/><path d="M226.80 436.45h7.0M390.50 436.45h-7.0" stroke-width="1.5"/><path d="M329.11 354.50v4.2M329.11 518.40v-4.2" stroke-width="1.2"/><path d="M226.80 415.96h4.2M390.50 415.96h-4.2" stroke-width="1.2"/><path d="M349.57 354.50v7.0M349.57 518.40v-7.0" stroke-width="1.5"/><path d="M226.80 395.48h7.0M390.50 395.48h-7.0" stroke-width="1.5"/><path d="M370.04 354.50v4.2M370.04 518.40v-4.2" stroke-width="1.2"/><path d="M226.80 374.99h4.2M390.50 374.99h-4.2" stroke-width="1.2"/><path d="M410.94 354.50v4.2M410.94 518.40v-4.2" stroke-width="1.2"/><path d="M390.50 497.91h4.2M554.00 497.91h-4.2" stroke-width="1.2"/><path d="M431.38 354.50v7.0M431.38 518.40v-7.0" stroke-width="1.5"/><path d="M390.50 477.42h7.0M554.00 477.42h-7.0" stroke-width="1.5"/><path d="M451.81 354.50v4.2M451.81 518.40v-4.2" stroke-width="1.2"/><path d="M390.50 456.94h4.2M554.00 456.94h-4.2" stroke-width="1.2"/><path d="M472.25 354.50v7.0M472.25 518.40v-7.0" stroke-width="1.5"/><path d="M390.50 436.45h7.0M554.00 436.45h-7.0" stroke-width="1.5"/><path d="M492.69 354.50v4.2M492.69 518.40v-4.2" stroke-width="1.2"/><path d="M390.50 415.96h4.2M554.00 415.96h-4.2" stroke-width="1.2"/><path d="M513.12 354.50v7.0M513.12 518.40v-7.0" stroke-width="1.5"/><path d="M390.50 395.48h7.0M554.00 395.48h-7.0" stroke-width="1.5"/><path d="M533.56 354.50v4.2M533.56 518.40v-4.2" stroke-width="1.2"/><path d="M390.50 374.99h4.2M554.00 374.99h-4.2" stroke-width="1.2"/></g><path d="M63.00 26.30V518.40M226.80 26.30V518.40M390.50 26.30V518.40M554.00 26.30V518.40M63.00 26.30H554.00M63.00 190.40H554.00M63.00 354.50H554.00M63.00 518.40H554.00" stroke="#000" stroke-width="1.6" fill="none" stroke-linecap="square"/><path d="M139.40 272.45h11M144.90 266.95v11M303.15 272.45h11M308.65 266.95v11M466.75 272.45h11M472.25 266.95v11M139.40 436.45h11M144.90 430.95v11M303.15 436.45h11M308.65 430.95v11M466.75 436.45h11M472.25 430.95v11" stroke="#000" stroke-width="1" fill="none"/><g font-family="Liberation Sans, Arial, sans-serif" font-size="16.5" letter-spacing="1" fill="#000"><text x="104.9" y="16.9" text-anchor="middle">&#8722;20</text><text x="104.9" y="538.5" text-anchor="middle">&#8722;20</text><text x="145.5" y="16.9" text-anchor="middle">0</text><text x="145.5" y="538.5" text-anchor="middle">0</text><text x="186.9" y="16.9" text-anchor="middle">20</text><text x="186.9" y="538.5" text-anchor="middle">20</text><text x="268.6" y="16.9" text-anchor="middle">&#8722;20</text><text x="268.6" y="538.5" text-anchor="middle">&#8722;20</text><text x="309.2" y="16.9" text-anchor="middle">0</text><text x="309.2" y="538.5" text-anchor="middle">0</text><text x="350.6" y="16.9" text-anchor="middle">20</text><text x="350.6" y="538.5" text-anchor="middle">20</text><text x="432.3" y="16.9" text-anchor="middle">&#8722;20</text><text x="432.3" y="538.5" text-anchor="middle">&#8722;20</text><text x="472.9" y="16.9" text-anchor="middle">0</text><text x="472.9" y="538.5" text-anchor="middle">0</text><text x="514.1" y="16.9" text-anchor="middle">20</text><text x="514.1" y="538.5" text-anchor="middle">20</text><text x="53.3" y="155.3" text-anchor="end">&#8722;20</text><text x="564.9" y="155.6" text-anchor="start">&#8722;20</text><text x="53.3" y="114.3" text-anchor="end">0</text><text x="564.9" y="114.6" text-anchor="start">0</text><text x="53.3" y="73.2" text-anchor="end">20</text><text x="564.9" y="73.5" text-anchor="start">20</text><text x="53.3" y="319.4" text-anchor="end">&#8722;20</text><text x="564.9" y="319.7" text-anchor="start">&#8722;20</text><text x="53.3" y="278.3" text-anchor="end">0</text><text x="564.9" y="278.6" text-anchor="start">0</text><text x="53.3" y="237.3" text-anchor="end">20</text><text x="564.9" y="237.6" text-anchor="start">20</text><text x="53.3" y="483.3" text-anchor="end">&#8722;20</text><text x="564.9" y="483.6" text-anchor="start">&#8722;20</text><text x="53.3" y="442.3" text-anchor="end">0</text><text x="564.9" y="442.6" text-anchor="start">0</text><text x="53.3" y="401.4" text-anchor="end">20</text><text x="564.9" y="401.7" text-anchor="start">20</text></g><text x="272.5" y="568.5" text-anchor="middle" font-family="Liberation Sans, Arial, sans-serif" font-size="16.5" word-spacing="1" fill="#000">Arcsec W of Star</text><text transform="translate(18.5 273.3) rotate(-90)" x="0" y="0" text-anchor="middle" font-family="Liberation Sans, Arial, sans-serif" font-size="16.5" word-spacing="2.3" fill="#000">Arcsec N of Star</text><g font-family="Liberation Sans, Arial, sans-serif" font-size="10.5" letter-spacing="0.5" word-spacing="2.2" fill="#000" stroke="#000" stroke-width="0.35"><text x="73.7" y="47.1">24 direct</text><text x="73.4" y="174.6" font-size="12.4">(a)</text><text x="237.5" y="47.1">24 core subtracted</text><text x="237.2" y="174.6" font-size="12.4">(b)</text><text x="401.2" y="47.1">24 photosphere subtracted</text><text x="400.9" y="174.6" font-size="12.4">(c)</text><text x="73.7" y="211.2">70 default scale mosaic</text><text x="73.4" y="338.7" font-size="12.4">(d)</text><text x="237.5" y="211.2">70 fine scale mosaic</text><text x="237.2" y="338.7" font-size="12.4">(e)</text><text x="401.2" y="211.2">70 fine scale deconvolved</text><text x="400.9" y="338.7" font-size="12.4">(f)</text><text x="73.7" y="375.3">160 direct</text><text x="73.4" y="502.8" font-size="12.4">(g)</text><text x="237.5" y="375.3">160 leak subtracted</text><text x="237.2" y="502.8" font-size="12.4">(h)</text><text x="401.2" y="375.3">160 deconvolved</text><text x="400.9" y="502.8" font-size="12.4">(i)</text></g></svg></body></html>
